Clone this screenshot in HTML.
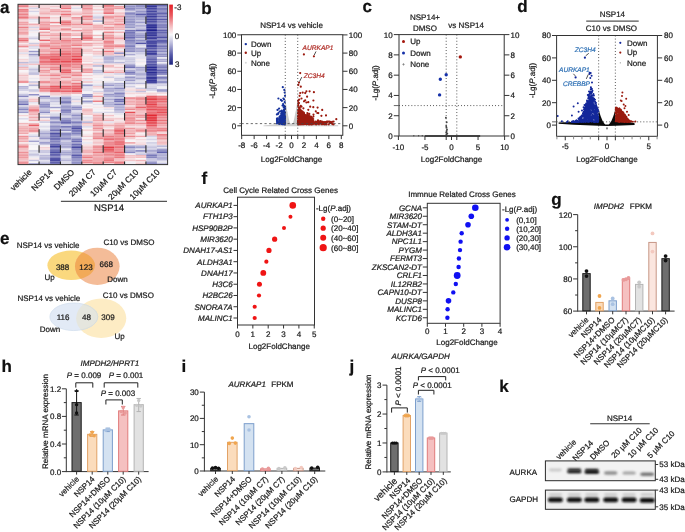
<!DOCTYPE html>
<html><head><meta charset="utf-8"><title>Figure</title>
<style>html,body{margin:0;padding:0;background:#fff;}svg{display:block;will-change:transform;}text{font-family:"Liberation Sans", sans-serif;stroke:#1a1a1a;stroke-width:0.22px;text-rendering:geometricPrecision;}</style>
</head><body>
<svg width="685" height="532" viewBox="0 0 685 532" font-family='"Liberation Sans", sans-serif'>
<rect width="685" height="532" fill="#fff"/>
<text x="0" y="13" font-size="17" text-anchor="start" fill="#111" font-weight="bold" style="stroke:#111">a</text>
<rect x="18" y="4.3" width="10.74" height="1.65" fill="#ed8f95" stroke="none" stroke-width="1"/>
<rect x="28.69" y="4.3" width="10.74" height="1.65" fill="#f6dfe2" stroke="none" stroke-width="1"/>
<rect x="39.37" y="4.3" width="10.74" height="1.65" fill="#f4d5d8" stroke="none" stroke-width="1"/>
<rect x="50.06" y="4.3" width="10.74" height="1.65" fill="#f6e2e5" stroke="none" stroke-width="1"/>
<rect x="60.74" y="4.3" width="10.74" height="1.65" fill="#efa2a7" stroke="none" stroke-width="1"/>
<rect x="71.43" y="4.3" width="10.74" height="1.65" fill="#f3c5c9" stroke="none" stroke-width="1"/>
<rect x="82.11" y="4.3" width="10.74" height="1.65" fill="#ed9399" stroke="none" stroke-width="1"/>
<rect x="92.8" y="4.3" width="10.74" height="1.65" fill="#f6e7e9" stroke="none" stroke-width="1"/>
<rect x="103.49" y="4.3" width="10.74" height="1.65" fill="#eb7a81" stroke="none" stroke-width="1"/>
<rect x="114.17" y="4.3" width="10.74" height="1.65" fill="#eae8f1" stroke="none" stroke-width="1"/>
<rect x="124.86" y="4.3" width="10.74" height="1.65" fill="#acabd3" stroke="none" stroke-width="1"/>
<rect x="135.54" y="4.3" width="10.74" height="1.65" fill="#8f8fc5" stroke="none" stroke-width="1"/>
<rect x="146.23" y="4.3" width="10.74" height="1.65" fill="#4c4da3" stroke="none" stroke-width="1"/>
<rect x="156.91" y="4.3" width="10.74" height="1.65" fill="#5f60ad" stroke="none" stroke-width="1"/>
<rect x="18" y="5.9" width="10.74" height="1.65" fill="#eb7f86" stroke="none" stroke-width="1"/>
<rect x="28.69" y="5.9" width="10.74" height="1.65" fill="#f3c9cd" stroke="none" stroke-width="1"/>
<rect x="39.37" y="5.9" width="10.74" height="1.65" fill="#f5d7db" stroke="none" stroke-width="1"/>
<rect x="50.06" y="5.9" width="10.74" height="1.65" fill="#f3cace" stroke="none" stroke-width="1"/>
<rect x="60.74" y="5.9" width="10.74" height="1.65" fill="#ef9da3" stroke="none" stroke-width="1"/>
<rect x="71.43" y="5.9" width="10.74" height="1.65" fill="#f7eaed" stroke="none" stroke-width="1"/>
<rect x="82.11" y="5.9" width="10.74" height="1.65" fill="#efa6ab" stroke="none" stroke-width="1"/>
<rect x="92.8" y="5.9" width="10.74" height="1.65" fill="#f4d3d6" stroke="none" stroke-width="1"/>
<rect x="103.49" y="5.9" width="10.74" height="1.65" fill="#ed8b91" stroke="none" stroke-width="1"/>
<rect x="114.17" y="5.9" width="10.74" height="1.65" fill="#efa0a5" stroke="none" stroke-width="1"/>
<rect x="124.86" y="5.9" width="10.74" height="1.65" fill="#9090c5" stroke="none" stroke-width="1"/>
<rect x="135.54" y="5.9" width="10.74" height="1.65" fill="#8e8ec4" stroke="none" stroke-width="1"/>
<rect x="146.23" y="5.9" width="10.74" height="1.65" fill="#333597" stroke="none" stroke-width="1"/>
<rect x="156.91" y="5.9" width="10.74" height="1.65" fill="#8e8ec4" stroke="none" stroke-width="1"/>
<rect x="18" y="7.51" width="10.74" height="1.65" fill="#f3cccf" stroke="none" stroke-width="1"/>
<rect x="28.69" y="7.51" width="10.74" height="1.65" fill="#d8d6e8" stroke="none" stroke-width="1"/>
<rect x="39.37" y="7.51" width="10.74" height="1.65" fill="#f3c3c7" stroke="none" stroke-width="1"/>
<rect x="50.06" y="7.51" width="10.74" height="1.65" fill="#f6e3e6" stroke="none" stroke-width="1"/>
<rect x="60.74" y="7.51" width="10.74" height="1.65" fill="#ea777e" stroke="none" stroke-width="1"/>
<rect x="71.43" y="7.51" width="10.74" height="1.65" fill="#dddceb" stroke="none" stroke-width="1"/>
<rect x="82.11" y="7.51" width="10.74" height="1.65" fill="#ed8d94" stroke="none" stroke-width="1"/>
<rect x="92.8" y="7.51" width="10.74" height="1.65" fill="#f7ebed" stroke="none" stroke-width="1"/>
<rect x="103.49" y="7.51" width="10.74" height="1.65" fill="#ee9ca1" stroke="none" stroke-width="1"/>
<rect x="114.17" y="7.51" width="10.74" height="1.65" fill="#ee999f" stroke="none" stroke-width="1"/>
<rect x="124.86" y="7.51" width="10.74" height="1.65" fill="#8989c1" stroke="none" stroke-width="1"/>
<rect x="135.54" y="7.51" width="10.74" height="1.65" fill="#9897c9" stroke="none" stroke-width="1"/>
<rect x="146.23" y="7.51" width="10.74" height="1.65" fill="#4445a0" stroke="none" stroke-width="1"/>
<rect x="156.91" y="7.51" width="10.74" height="1.65" fill="#7a7aba" stroke="none" stroke-width="1"/>
<rect x="18" y="9.11" width="10.74" height="1.65" fill="#ea7077" stroke="none" stroke-width="1"/>
<rect x="28.69" y="9.11" width="10.74" height="1.65" fill="#f7e8eb" stroke="none" stroke-width="1"/>
<rect x="39.37" y="9.11" width="10.74" height="1.65" fill="#f3c7cb" stroke="none" stroke-width="1"/>
<rect x="50.06" y="9.11" width="10.74" height="1.65" fill="#f0adb1" stroke="none" stroke-width="1"/>
<rect x="60.74" y="9.11" width="10.74" height="1.65" fill="#f4cdd0" stroke="none" stroke-width="1"/>
<rect x="71.43" y="9.11" width="10.74" height="1.65" fill="#f7edef" stroke="none" stroke-width="1"/>
<rect x="82.11" y="9.11" width="10.74" height="1.65" fill="#efa1a6" stroke="none" stroke-width="1"/>
<rect x="92.8" y="9.11" width="10.74" height="1.65" fill="#f3c7cb" stroke="none" stroke-width="1"/>
<rect x="103.49" y="9.11" width="10.74" height="1.65" fill="#ec898f" stroke="none" stroke-width="1"/>
<rect x="114.17" y="9.11" width="10.74" height="1.65" fill="#f5d8db" stroke="none" stroke-width="1"/>
<rect x="124.86" y="9.11" width="10.74" height="1.65" fill="#8c8cc3" stroke="none" stroke-width="1"/>
<rect x="135.54" y="9.11" width="10.74" height="1.65" fill="#b6b5d8" stroke="none" stroke-width="1"/>
<rect x="146.23" y="9.11" width="10.74" height="1.65" fill="#595aaa" stroke="none" stroke-width="1"/>
<rect x="156.91" y="9.11" width="10.74" height="1.65" fill="#7374b7" stroke="none" stroke-width="1"/>
<rect x="18" y="10.71" width="10.74" height="1.65" fill="#ec898f" stroke="none" stroke-width="1"/>
<rect x="28.69" y="10.71" width="10.74" height="1.65" fill="#d5d3e7" stroke="none" stroke-width="1"/>
<rect x="39.37" y="10.71" width="10.74" height="1.65" fill="#f3c7ca" stroke="none" stroke-width="1"/>
<rect x="50.06" y="10.71" width="10.74" height="1.65" fill="#efa3a8" stroke="none" stroke-width="1"/>
<rect x="60.74" y="10.71" width="10.74" height="1.65" fill="#ee959a" stroke="none" stroke-width="1"/>
<rect x="71.43" y="10.71" width="10.74" height="1.65" fill="#f5dde0" stroke="none" stroke-width="1"/>
<rect x="82.11" y="10.71" width="10.74" height="1.65" fill="#f2bec2" stroke="none" stroke-width="1"/>
<rect x="92.8" y="10.71" width="10.74" height="1.65" fill="#f1f0f5" stroke="none" stroke-width="1"/>
<rect x="103.49" y="10.71" width="10.74" height="1.65" fill="#efa6ab" stroke="none" stroke-width="1"/>
<rect x="114.17" y="10.71" width="10.74" height="1.65" fill="#f7e9ec" stroke="none" stroke-width="1"/>
<rect x="124.86" y="10.71" width="10.74" height="1.65" fill="#d4d3e6" stroke="none" stroke-width="1"/>
<rect x="135.54" y="10.71" width="10.74" height="1.65" fill="#9595c7" stroke="none" stroke-width="1"/>
<rect x="146.23" y="10.71" width="10.74" height="1.65" fill="#4547a0" stroke="none" stroke-width="1"/>
<rect x="156.91" y="10.71" width="10.74" height="1.65" fill="#9696c8" stroke="none" stroke-width="1"/>
<rect x="18" y="12.31" width="10.74" height="1.65" fill="#efa1a6" stroke="none" stroke-width="1"/>
<rect x="28.69" y="12.31" width="10.74" height="1.65" fill="#f2f0f5" stroke="none" stroke-width="1"/>
<rect x="39.37" y="12.31" width="10.74" height="1.65" fill="#f0adb1" stroke="none" stroke-width="1"/>
<rect x="50.06" y="12.31" width="10.74" height="1.65" fill="#f2bfc3" stroke="none" stroke-width="1"/>
<rect x="60.74" y="12.31" width="10.74" height="1.65" fill="#f1b5ba" stroke="none" stroke-width="1"/>
<rect x="71.43" y="12.31" width="10.74" height="1.65" fill="#f3c3c7" stroke="none" stroke-width="1"/>
<rect x="82.11" y="12.31" width="10.74" height="1.65" fill="#f0a8ad" stroke="none" stroke-width="1"/>
<rect x="92.8" y="12.31" width="10.74" height="1.65" fill="#f5d6da" stroke="none" stroke-width="1"/>
<rect x="103.49" y="12.31" width="10.74" height="1.65" fill="#e8646c" stroke="none" stroke-width="1"/>
<rect x="114.17" y="12.31" width="10.74" height="1.65" fill="#f2c0c4" stroke="none" stroke-width="1"/>
<rect x="124.86" y="12.31" width="10.74" height="1.65" fill="#8282be" stroke="none" stroke-width="1"/>
<rect x="135.54" y="12.31" width="10.74" height="1.65" fill="#9999ca" stroke="none" stroke-width="1"/>
<rect x="146.23" y="12.31" width="10.74" height="1.65" fill="#5455a7" stroke="none" stroke-width="1"/>
<rect x="156.91" y="12.31" width="10.74" height="1.65" fill="#5c5dab" stroke="none" stroke-width="1"/>
<rect x="18" y="13.92" width="10.74" height="1.65" fill="#ec8389" stroke="none" stroke-width="1"/>
<rect x="28.69" y="13.92" width="10.74" height="1.65" fill="#f7eef0" stroke="none" stroke-width="1"/>
<rect x="39.37" y="13.92" width="10.74" height="1.65" fill="#f3c6ca" stroke="none" stroke-width="1"/>
<rect x="50.06" y="13.92" width="10.74" height="1.65" fill="#f3c4c8" stroke="none" stroke-width="1"/>
<rect x="60.74" y="13.92" width="10.74" height="1.65" fill="#ea7178" stroke="none" stroke-width="1"/>
<rect x="71.43" y="13.92" width="10.74" height="1.65" fill="#f2bbbf" stroke="none" stroke-width="1"/>
<rect x="82.11" y="13.92" width="10.74" height="1.65" fill="#f3cbce" stroke="none" stroke-width="1"/>
<rect x="92.8" y="13.92" width="10.74" height="1.65" fill="#efedf4" stroke="none" stroke-width="1"/>
<rect x="103.49" y="13.92" width="10.74" height="1.65" fill="#f5dadd" stroke="none" stroke-width="1"/>
<rect x="114.17" y="13.92" width="10.74" height="1.65" fill="#f4d2d5" stroke="none" stroke-width="1"/>
<rect x="124.86" y="13.92" width="10.74" height="1.65" fill="#9696c8" stroke="none" stroke-width="1"/>
<rect x="135.54" y="13.92" width="10.74" height="1.65" fill="#5e5fac" stroke="none" stroke-width="1"/>
<rect x="146.23" y="13.92" width="10.74" height="1.65" fill="#4d4ea4" stroke="none" stroke-width="1"/>
<rect x="156.91" y="13.92" width="10.74" height="1.65" fill="#8888c1" stroke="none" stroke-width="1"/>
<rect x="18" y="15.52" width="10.74" height="1.65" fill="#ee989e" stroke="none" stroke-width="1"/>
<rect x="28.69" y="15.52" width="10.74" height="1.65" fill="#f4d2d5" stroke="none" stroke-width="1"/>
<rect x="39.37" y="15.52" width="10.74" height="1.65" fill="#f4d3d6" stroke="none" stroke-width="1"/>
<rect x="50.06" y="15.52" width="10.74" height="1.65" fill="#f7eff1" stroke="none" stroke-width="1"/>
<rect x="60.74" y="15.52" width="10.74" height="1.65" fill="#f1b4b9" stroke="none" stroke-width="1"/>
<rect x="71.43" y="15.52" width="10.74" height="1.65" fill="#f6e7e9" stroke="none" stroke-width="1"/>
<rect x="82.11" y="15.52" width="10.74" height="1.65" fill="#eb7d84" stroke="none" stroke-width="1"/>
<rect x="92.8" y="15.52" width="10.74" height="1.65" fill="#d9d7e9" stroke="none" stroke-width="1"/>
<rect x="103.49" y="15.52" width="10.74" height="1.65" fill="#ee9ca2" stroke="none" stroke-width="1"/>
<rect x="114.17" y="15.52" width="10.74" height="1.65" fill="#ee989e" stroke="none" stroke-width="1"/>
<rect x="124.86" y="15.52" width="10.74" height="1.65" fill="#9999c9" stroke="none" stroke-width="1"/>
<rect x="135.54" y="15.52" width="10.74" height="1.65" fill="#9595c7" stroke="none" stroke-width="1"/>
<rect x="146.23" y="15.52" width="10.74" height="1.65" fill="#3a3b9b" stroke="none" stroke-width="1"/>
<rect x="156.91" y="15.52" width="10.74" height="1.65" fill="#6969b2" stroke="none" stroke-width="1"/>
<rect x="18" y="17.12" width="10.74" height="1.65" fill="#e9656d" stroke="none" stroke-width="1"/>
<rect x="28.69" y="17.12" width="10.74" height="1.65" fill="#f1b5ba" stroke="none" stroke-width="1"/>
<rect x="39.37" y="17.12" width="10.74" height="1.65" fill="#eb7a80" stroke="none" stroke-width="1"/>
<rect x="50.06" y="17.12" width="10.74" height="1.65" fill="#f4ccd0" stroke="none" stroke-width="1"/>
<rect x="60.74" y="17.12" width="10.74" height="1.65" fill="#f3cacd" stroke="none" stroke-width="1"/>
<rect x="71.43" y="17.12" width="10.74" height="1.65" fill="#ed8a91" stroke="none" stroke-width="1"/>
<rect x="82.11" y="17.12" width="10.74" height="1.65" fill="#ee9ca2" stroke="none" stroke-width="1"/>
<rect x="92.8" y="17.12" width="10.74" height="1.65" fill="#cac8e1" stroke="none" stroke-width="1"/>
<rect x="103.49" y="17.12" width="10.74" height="1.65" fill="#ed8e94" stroke="none" stroke-width="1"/>
<rect x="114.17" y="17.12" width="10.74" height="1.65" fill="#f1b8bc" stroke="none" stroke-width="1"/>
<rect x="124.86" y="17.12" width="10.74" height="1.65" fill="#a1a0cd" stroke="none" stroke-width="1"/>
<rect x="135.54" y="17.12" width="10.74" height="1.65" fill="#a4a4cf" stroke="none" stroke-width="1"/>
<rect x="146.23" y="17.12" width="10.74" height="1.65" fill="#5657a8" stroke="none" stroke-width="1"/>
<rect x="156.91" y="17.12" width="10.74" height="1.65" fill="#9493c7" stroke="none" stroke-width="1"/>
<rect x="18" y="18.73" width="10.74" height="1.65" fill="#f3cace" stroke="none" stroke-width="1"/>
<rect x="28.69" y="18.73" width="10.74" height="1.65" fill="#e0deec" stroke="none" stroke-width="1"/>
<rect x="39.37" y="18.73" width="10.74" height="1.65" fill="#f4cdd1" stroke="none" stroke-width="1"/>
<rect x="50.06" y="18.73" width="10.74" height="1.65" fill="#f6e6e8" stroke="none" stroke-width="1"/>
<rect x="60.74" y="18.73" width="10.74" height="1.65" fill="#f5dcdf" stroke="none" stroke-width="1"/>
<rect x="71.43" y="18.73" width="10.74" height="1.65" fill="#f2babf" stroke="none" stroke-width="1"/>
<rect x="82.11" y="18.73" width="10.74" height="1.65" fill="#ee969c" stroke="none" stroke-width="1"/>
<rect x="92.8" y="18.73" width="10.74" height="1.65" fill="#f5d6da" stroke="none" stroke-width="1"/>
<rect x="103.49" y="18.73" width="10.74" height="1.65" fill="#f2c0c5" stroke="none" stroke-width="1"/>
<rect x="114.17" y="18.73" width="10.74" height="1.65" fill="#f0a9ae" stroke="none" stroke-width="1"/>
<rect x="124.86" y="18.73" width="10.74" height="1.65" fill="#9898c9" stroke="none" stroke-width="1"/>
<rect x="135.54" y="18.73" width="10.74" height="1.65" fill="#acacd3" stroke="none" stroke-width="1"/>
<rect x="146.23" y="18.73" width="10.74" height="1.65" fill="#3d3f9c" stroke="none" stroke-width="1"/>
<rect x="156.91" y="18.73" width="10.74" height="1.65" fill="#5a5baa" stroke="none" stroke-width="1"/>
<rect x="18" y="20.33" width="10.74" height="1.65" fill="#f4cdd1" stroke="none" stroke-width="1"/>
<rect x="28.69" y="20.33" width="10.74" height="1.65" fill="#edebf3" stroke="none" stroke-width="1"/>
<rect x="39.37" y="20.33" width="10.74" height="1.65" fill="#f2bcc1" stroke="none" stroke-width="1"/>
<rect x="50.06" y="20.33" width="10.74" height="1.65" fill="#f6e2e5" stroke="none" stroke-width="1"/>
<rect x="60.74" y="20.33" width="10.74" height="1.65" fill="#ed8f95" stroke="none" stroke-width="1"/>
<rect x="71.43" y="20.33" width="10.74" height="1.65" fill="#f4cdd0" stroke="none" stroke-width="1"/>
<rect x="82.11" y="20.33" width="10.74" height="1.65" fill="#f4ced2" stroke="none" stroke-width="1"/>
<rect x="92.8" y="20.33" width="10.74" height="1.65" fill="#b0b0d5" stroke="none" stroke-width="1"/>
<rect x="103.49" y="20.33" width="10.74" height="1.65" fill="#f3c4c8" stroke="none" stroke-width="1"/>
<rect x="114.17" y="20.33" width="10.74" height="1.65" fill="#f0abb0" stroke="none" stroke-width="1"/>
<rect x="124.86" y="20.33" width="10.74" height="1.65" fill="#9696c8" stroke="none" stroke-width="1"/>
<rect x="135.54" y="20.33" width="10.74" height="1.65" fill="#c0bfdc" stroke="none" stroke-width="1"/>
<rect x="146.23" y="20.33" width="10.74" height="1.65" fill="#494aa2" stroke="none" stroke-width="1"/>
<rect x="156.91" y="20.33" width="10.74" height="1.65" fill="#8484bf" stroke="none" stroke-width="1"/>
<rect x="18" y="21.93" width="10.74" height="1.65" fill="#efa3a8" stroke="none" stroke-width="1"/>
<rect x="28.69" y="21.93" width="10.74" height="1.65" fill="#f6f4f7" stroke="none" stroke-width="1"/>
<rect x="39.37" y="21.93" width="10.74" height="1.65" fill="#efa1a6" stroke="none" stroke-width="1"/>
<rect x="50.06" y="21.93" width="10.74" height="1.65" fill="#ec8288" stroke="none" stroke-width="1"/>
<rect x="60.74" y="21.93" width="10.74" height="1.65" fill="#ea6f76" stroke="none" stroke-width="1"/>
<rect x="71.43" y="21.93" width="10.74" height="1.65" fill="#f3c3c7" stroke="none" stroke-width="1"/>
<rect x="82.11" y="21.93" width="10.74" height="1.65" fill="#f1b9bd" stroke="none" stroke-width="1"/>
<rect x="92.8" y="21.93" width="10.74" height="1.65" fill="#f6f4f7" stroke="none" stroke-width="1"/>
<rect x="103.49" y="21.93" width="10.74" height="1.65" fill="#f1b2b6" stroke="none" stroke-width="1"/>
<rect x="114.17" y="21.93" width="10.74" height="1.65" fill="#f3cbcf" stroke="none" stroke-width="1"/>
<rect x="124.86" y="21.93" width="10.74" height="1.65" fill="#9696c8" stroke="none" stroke-width="1"/>
<rect x="135.54" y="21.93" width="10.74" height="1.65" fill="#9b9bcb" stroke="none" stroke-width="1"/>
<rect x="146.23" y="21.93" width="10.74" height="1.65" fill="#696ab2" stroke="none" stroke-width="1"/>
<rect x="156.91" y="21.93" width="10.74" height="1.65" fill="#9090c5" stroke="none" stroke-width="1"/>
<rect x="18" y="23.54" width="10.74" height="1.65" fill="#ef9fa4" stroke="none" stroke-width="1"/>
<rect x="28.69" y="23.54" width="10.74" height="1.65" fill="#f0aeb3" stroke="none" stroke-width="1"/>
<rect x="39.37" y="23.54" width="10.74" height="1.65" fill="#ef9da3" stroke="none" stroke-width="1"/>
<rect x="50.06" y="23.54" width="10.74" height="1.65" fill="#f7eff1" stroke="none" stroke-width="1"/>
<rect x="60.74" y="23.54" width="10.74" height="1.65" fill="#ec8288" stroke="none" stroke-width="1"/>
<rect x="71.43" y="23.54" width="10.74" height="1.65" fill="#ee959b" stroke="none" stroke-width="1"/>
<rect x="82.11" y="23.54" width="10.74" height="1.65" fill="#ea737b" stroke="none" stroke-width="1"/>
<rect x="92.8" y="23.54" width="10.74" height="1.65" fill="#f4d2d5" stroke="none" stroke-width="1"/>
<rect x="103.49" y="23.54" width="10.74" height="1.65" fill="#efa2a8" stroke="none" stroke-width="1"/>
<rect x="114.17" y="23.54" width="10.74" height="1.65" fill="#ec8188" stroke="none" stroke-width="1"/>
<rect x="124.86" y="23.54" width="10.74" height="1.65" fill="#9d9dcb" stroke="none" stroke-width="1"/>
<rect x="135.54" y="23.54" width="10.74" height="1.65" fill="#d1d0e5" stroke="none" stroke-width="1"/>
<rect x="146.23" y="23.54" width="10.74" height="1.65" fill="#4a4ca3" stroke="none" stroke-width="1"/>
<rect x="156.91" y="23.54" width="10.74" height="1.65" fill="#8787c1" stroke="none" stroke-width="1"/>
<rect x="18" y="25.14" width="10.74" height="1.65" fill="#f2c0c4" stroke="none" stroke-width="1"/>
<rect x="28.69" y="25.14" width="10.74" height="1.65" fill="#f4d0d3" stroke="none" stroke-width="1"/>
<rect x="39.37" y="25.14" width="10.74" height="1.65" fill="#ef9fa4" stroke="none" stroke-width="1"/>
<rect x="50.06" y="25.14" width="10.74" height="1.65" fill="#f0a7ac" stroke="none" stroke-width="1"/>
<rect x="60.74" y="25.14" width="10.74" height="1.65" fill="#efa6ab" stroke="none" stroke-width="1"/>
<rect x="71.43" y="25.14" width="10.74" height="1.65" fill="#f2bec2" stroke="none" stroke-width="1"/>
<rect x="82.11" y="25.14" width="10.74" height="1.65" fill="#f2bfc3" stroke="none" stroke-width="1"/>
<rect x="92.8" y="25.14" width="10.74" height="1.65" fill="#efa6ab" stroke="none" stroke-width="1"/>
<rect x="103.49" y="25.14" width="10.74" height="1.65" fill="#f5d9dc" stroke="none" stroke-width="1"/>
<rect x="114.17" y="25.14" width="10.74" height="1.65" fill="#f0afb3" stroke="none" stroke-width="1"/>
<rect x="124.86" y="25.14" width="10.74" height="1.65" fill="#9f9fcc" stroke="none" stroke-width="1"/>
<rect x="135.54" y="25.14" width="10.74" height="1.65" fill="#a2a1ce" stroke="none" stroke-width="1"/>
<rect x="146.23" y="25.14" width="10.74" height="1.65" fill="#1c1e8c" stroke="none" stroke-width="1"/>
<rect x="156.91" y="25.14" width="10.74" height="1.65" fill="#7272b6" stroke="none" stroke-width="1"/>
<rect x="18" y="26.74" width="10.74" height="1.65" fill="#eb7f86" stroke="none" stroke-width="1"/>
<rect x="28.69" y="26.74" width="10.74" height="1.65" fill="#d4d3e6" stroke="none" stroke-width="1"/>
<rect x="39.37" y="26.74" width="10.74" height="1.65" fill="#efa1a6" stroke="none" stroke-width="1"/>
<rect x="50.06" y="26.74" width="10.74" height="1.65" fill="#f3c9cd" stroke="none" stroke-width="1"/>
<rect x="60.74" y="26.74" width="10.74" height="1.65" fill="#f5dadd" stroke="none" stroke-width="1"/>
<rect x="71.43" y="26.74" width="10.74" height="1.65" fill="#f2bcc1" stroke="none" stroke-width="1"/>
<rect x="82.11" y="26.74" width="10.74" height="1.65" fill="#f2c1c5" stroke="none" stroke-width="1"/>
<rect x="92.8" y="26.74" width="10.74" height="1.65" fill="#f1b1b6" stroke="none" stroke-width="1"/>
<rect x="103.49" y="26.74" width="10.74" height="1.65" fill="#ee989d" stroke="none" stroke-width="1"/>
<rect x="114.17" y="26.74" width="10.74" height="1.65" fill="#f1b2b7" stroke="none" stroke-width="1"/>
<rect x="124.86" y="26.74" width="10.74" height="1.65" fill="#9898c9" stroke="none" stroke-width="1"/>
<rect x="135.54" y="26.74" width="10.74" height="1.65" fill="#cdcbe3" stroke="none" stroke-width="1"/>
<rect x="146.23" y="26.74" width="10.74" height="1.65" fill="#282a92" stroke="none" stroke-width="1"/>
<rect x="156.91" y="26.74" width="10.74" height="1.65" fill="#7b7bba" stroke="none" stroke-width="1"/>
<rect x="18" y="28.34" width="10.74" height="1.65" fill="#f0b0b4" stroke="none" stroke-width="1"/>
<rect x="28.69" y="28.34" width="10.74" height="1.65" fill="#f5dde0" stroke="none" stroke-width="1"/>
<rect x="39.37" y="28.34" width="10.74" height="1.65" fill="#e8636b" stroke="none" stroke-width="1"/>
<rect x="50.06" y="28.34" width="10.74" height="1.65" fill="#f2c2c6" stroke="none" stroke-width="1"/>
<rect x="60.74" y="28.34" width="10.74" height="1.65" fill="#ec888e" stroke="none" stroke-width="1"/>
<rect x="71.43" y="28.34" width="10.74" height="1.65" fill="#f6e2e5" stroke="none" stroke-width="1"/>
<rect x="82.11" y="28.34" width="10.74" height="1.65" fill="#f1b9bd" stroke="none" stroke-width="1"/>
<rect x="92.8" y="28.34" width="10.74" height="1.65" fill="#f0afb4" stroke="none" stroke-width="1"/>
<rect x="103.49" y="28.34" width="10.74" height="1.65" fill="#efa4a9" stroke="none" stroke-width="1"/>
<rect x="114.17" y="28.34" width="10.74" height="1.65" fill="#f1b7bc" stroke="none" stroke-width="1"/>
<rect x="124.86" y="28.34" width="10.74" height="1.65" fill="#cecde3" stroke="none" stroke-width="1"/>
<rect x="135.54" y="28.34" width="10.74" height="1.65" fill="#b0afd5" stroke="none" stroke-width="1"/>
<rect x="146.23" y="28.34" width="10.74" height="1.65" fill="#393a9a" stroke="none" stroke-width="1"/>
<rect x="156.91" y="28.34" width="10.74" height="1.65" fill="#9392c6" stroke="none" stroke-width="1"/>
<rect x="18" y="29.95" width="10.74" height="1.65" fill="#f2bcc1" stroke="none" stroke-width="1"/>
<rect x="28.69" y="29.95" width="10.74" height="1.65" fill="#e5e3ef" stroke="none" stroke-width="1"/>
<rect x="39.37" y="29.95" width="10.74" height="1.65" fill="#f7f0f2" stroke="none" stroke-width="1"/>
<rect x="50.06" y="29.95" width="10.74" height="1.65" fill="#f1b7bb" stroke="none" stroke-width="1"/>
<rect x="60.74" y="29.95" width="10.74" height="1.65" fill="#f1b2b6" stroke="none" stroke-width="1"/>
<rect x="71.43" y="29.95" width="10.74" height="1.65" fill="#ee9aa0" stroke="none" stroke-width="1"/>
<rect x="82.11" y="29.95" width="10.74" height="1.65" fill="#f0aaaf" stroke="none" stroke-width="1"/>
<rect x="92.8" y="29.95" width="10.74" height="1.65" fill="#f6e1e4" stroke="none" stroke-width="1"/>
<rect x="103.49" y="29.95" width="10.74" height="1.65" fill="#f6e3e6" stroke="none" stroke-width="1"/>
<rect x="114.17" y="29.95" width="10.74" height="1.65" fill="#ecebf2" stroke="none" stroke-width="1"/>
<rect x="124.86" y="29.95" width="10.74" height="1.65" fill="#7272b6" stroke="none" stroke-width="1"/>
<rect x="135.54" y="29.95" width="10.74" height="1.65" fill="#6566b0" stroke="none" stroke-width="1"/>
<rect x="146.23" y="29.95" width="10.74" height="1.65" fill="#1c1e8c" stroke="none" stroke-width="1"/>
<rect x="156.91" y="29.95" width="10.74" height="1.65" fill="#5f5fad" stroke="none" stroke-width="1"/>
<rect x="18" y="31.55" width="10.74" height="1.65" fill="#efa0a5" stroke="none" stroke-width="1"/>
<rect x="28.69" y="31.55" width="10.74" height="1.65" fill="#f7edef" stroke="none" stroke-width="1"/>
<rect x="39.37" y="31.55" width="10.74" height="1.65" fill="#efa2a8" stroke="none" stroke-width="1"/>
<rect x="50.06" y="31.55" width="10.74" height="1.65" fill="#f5dcdf" stroke="none" stroke-width="1"/>
<rect x="60.74" y="31.55" width="10.74" height="1.65" fill="#f6dfe2" stroke="none" stroke-width="1"/>
<rect x="71.43" y="31.55" width="10.74" height="1.65" fill="#f6e1e4" stroke="none" stroke-width="1"/>
<rect x="82.11" y="31.55" width="10.74" height="1.65" fill="#f0b0b4" stroke="none" stroke-width="1"/>
<rect x="92.8" y="31.55" width="10.74" height="1.65" fill="#f8f5f7" stroke="none" stroke-width="1"/>
<rect x="103.49" y="31.55" width="10.74" height="1.65" fill="#ec878d" stroke="none" stroke-width="1"/>
<rect x="114.17" y="31.55" width="10.74" height="1.65" fill="#f1b2b7" stroke="none" stroke-width="1"/>
<rect x="124.86" y="31.55" width="10.74" height="1.65" fill="#7677b8" stroke="none" stroke-width="1"/>
<rect x="135.54" y="31.55" width="10.74" height="1.65" fill="#cac9e2" stroke="none" stroke-width="1"/>
<rect x="146.23" y="31.55" width="10.74" height="1.65" fill="#41439e" stroke="none" stroke-width="1"/>
<rect x="156.91" y="31.55" width="10.74" height="1.65" fill="#6768b1" stroke="none" stroke-width="1"/>
<rect x="18" y="33.15" width="10.74" height="1.65" fill="#ee9ba0" stroke="none" stroke-width="1"/>
<rect x="28.69" y="33.15" width="10.74" height="1.65" fill="#f2f0f5" stroke="none" stroke-width="1"/>
<rect x="39.37" y="33.15" width="10.74" height="1.65" fill="#f4d0d4" stroke="none" stroke-width="1"/>
<rect x="50.06" y="33.15" width="10.74" height="1.65" fill="#f1b0b5" stroke="none" stroke-width="1"/>
<rect x="60.74" y="33.15" width="10.74" height="1.65" fill="#ed9197" stroke="none" stroke-width="1"/>
<rect x="71.43" y="33.15" width="10.74" height="1.65" fill="#f2bec2" stroke="none" stroke-width="1"/>
<rect x="82.11" y="33.15" width="10.74" height="1.65" fill="#f1b5ba" stroke="none" stroke-width="1"/>
<rect x="92.8" y="33.15" width="10.74" height="1.65" fill="#f8f5f7" stroke="none" stroke-width="1"/>
<rect x="103.49" y="33.15" width="10.74" height="1.65" fill="#f3c6ca" stroke="none" stroke-width="1"/>
<rect x="114.17" y="33.15" width="10.74" height="1.65" fill="#f6e7e9" stroke="none" stroke-width="1"/>
<rect x="124.86" y="33.15" width="10.74" height="1.65" fill="#7676b8" stroke="none" stroke-width="1"/>
<rect x="135.54" y="33.15" width="10.74" height="1.65" fill="#a4a3cf" stroke="none" stroke-width="1"/>
<rect x="146.23" y="33.15" width="10.74" height="1.65" fill="#2a2c93" stroke="none" stroke-width="1"/>
<rect x="156.91" y="33.15" width="10.74" height="1.65" fill="#7272b6" stroke="none" stroke-width="1"/>
<rect x="18" y="34.76" width="10.74" height="1.65" fill="#f5d6d9" stroke="none" stroke-width="1"/>
<rect x="28.69" y="34.76" width="10.74" height="1.65" fill="#f5f3f7" stroke="none" stroke-width="1"/>
<rect x="39.37" y="34.76" width="10.74" height="1.65" fill="#efa2a7" stroke="none" stroke-width="1"/>
<rect x="50.06" y="34.76" width="10.74" height="1.65" fill="#efa1a6" stroke="none" stroke-width="1"/>
<rect x="60.74" y="34.76" width="10.74" height="1.65" fill="#ee9ba0" stroke="none" stroke-width="1"/>
<rect x="71.43" y="34.76" width="10.74" height="1.65" fill="#f0afb4" stroke="none" stroke-width="1"/>
<rect x="82.11" y="34.76" width="10.74" height="1.65" fill="#ed9096" stroke="none" stroke-width="1"/>
<rect x="92.8" y="34.76" width="10.74" height="1.65" fill="#f1b8bc" stroke="none" stroke-width="1"/>
<rect x="103.49" y="34.76" width="10.74" height="1.65" fill="#ee9ba0" stroke="none" stroke-width="1"/>
<rect x="114.17" y="34.76" width="10.74" height="1.65" fill="#f5d7da" stroke="none" stroke-width="1"/>
<rect x="124.86" y="34.76" width="10.74" height="1.65" fill="#8081bd" stroke="none" stroke-width="1"/>
<rect x="135.54" y="34.76" width="10.74" height="1.65" fill="#9595c7" stroke="none" stroke-width="1"/>
<rect x="146.23" y="34.76" width="10.74" height="1.65" fill="#353798" stroke="none" stroke-width="1"/>
<rect x="156.91" y="34.76" width="10.74" height="1.65" fill="#8484bf" stroke="none" stroke-width="1"/>
<rect x="18" y="36.36" width="10.74" height="1.65" fill="#f4cdd1" stroke="none" stroke-width="1"/>
<rect x="28.69" y="36.36" width="10.74" height="1.65" fill="#dfddec" stroke="none" stroke-width="1"/>
<rect x="39.37" y="36.36" width="10.74" height="1.65" fill="#f4d5d8" stroke="none" stroke-width="1"/>
<rect x="50.06" y="36.36" width="10.74" height="1.65" fill="#f3c6c9" stroke="none" stroke-width="1"/>
<rect x="60.74" y="36.36" width="10.74" height="1.65" fill="#f3c5c9" stroke="none" stroke-width="1"/>
<rect x="71.43" y="36.36" width="10.74" height="1.65" fill="#f7f5f8" stroke="none" stroke-width="1"/>
<rect x="82.11" y="36.36" width="10.74" height="1.65" fill="#eb7a81" stroke="none" stroke-width="1"/>
<rect x="92.8" y="36.36" width="10.74" height="1.65" fill="#f5f3f6" stroke="none" stroke-width="1"/>
<rect x="103.49" y="36.36" width="10.74" height="1.65" fill="#ed9398" stroke="none" stroke-width="1"/>
<rect x="114.17" y="36.36" width="10.74" height="1.65" fill="#f2bec2" stroke="none" stroke-width="1"/>
<rect x="124.86" y="36.36" width="10.74" height="1.65" fill="#6969b2" stroke="none" stroke-width="1"/>
<rect x="135.54" y="36.36" width="10.74" height="1.65" fill="#8c8cc3" stroke="none" stroke-width="1"/>
<rect x="146.23" y="36.36" width="10.74" height="1.65" fill="#494aa2" stroke="none" stroke-width="1"/>
<rect x="156.91" y="36.36" width="10.74" height="1.65" fill="#4b4ca3" stroke="none" stroke-width="1"/>
<rect x="18" y="37.96" width="10.74" height="1.65" fill="#ed8c92" stroke="none" stroke-width="1"/>
<rect x="28.69" y="37.96" width="10.74" height="1.65" fill="#cdcce3" stroke="none" stroke-width="1"/>
<rect x="39.37" y="37.96" width="10.74" height="1.65" fill="#f6e0e3" stroke="none" stroke-width="1"/>
<rect x="50.06" y="37.96" width="10.74" height="1.65" fill="#f1b0b5" stroke="none" stroke-width="1"/>
<rect x="60.74" y="37.96" width="10.74" height="1.65" fill="#f0a7ac" stroke="none" stroke-width="1"/>
<rect x="71.43" y="37.96" width="10.74" height="1.65" fill="#ed8d93" stroke="none" stroke-width="1"/>
<rect x="82.11" y="37.96" width="10.74" height="1.65" fill="#e96870" stroke="none" stroke-width="1"/>
<rect x="92.8" y="37.96" width="10.74" height="1.65" fill="#f2bbbf" stroke="none" stroke-width="1"/>
<rect x="103.49" y="37.96" width="10.74" height="1.65" fill="#ed9399" stroke="none" stroke-width="1"/>
<rect x="114.17" y="37.96" width="10.74" height="1.65" fill="#ef9fa5" stroke="none" stroke-width="1"/>
<rect x="124.86" y="37.96" width="10.74" height="1.65" fill="#8a8ac2" stroke="none" stroke-width="1"/>
<rect x="135.54" y="37.96" width="10.74" height="1.65" fill="#c9c8e1" stroke="none" stroke-width="1"/>
<rect x="146.23" y="37.96" width="10.74" height="1.65" fill="#3a3b9b" stroke="none" stroke-width="1"/>
<rect x="156.91" y="37.96" width="10.74" height="1.65" fill="#8e8ec4" stroke="none" stroke-width="1"/>
<rect x="18" y="39.57" width="10.74" height="1.65" fill="#e96e75" stroke="none" stroke-width="1"/>
<rect x="28.69" y="39.57" width="10.74" height="1.65" fill="#f8f4f6" stroke="none" stroke-width="1"/>
<rect x="39.37" y="39.57" width="10.74" height="1.65" fill="#e9666e" stroke="none" stroke-width="1"/>
<rect x="50.06" y="39.57" width="10.74" height="1.65" fill="#efa2a8" stroke="none" stroke-width="1"/>
<rect x="60.74" y="39.57" width="10.74" height="1.65" fill="#eb7f86" stroke="none" stroke-width="1"/>
<rect x="71.43" y="39.57" width="10.74" height="1.65" fill="#ed9399" stroke="none" stroke-width="1"/>
<rect x="82.11" y="39.57" width="10.74" height="1.65" fill="#efa1a6" stroke="none" stroke-width="1"/>
<rect x="92.8" y="39.57" width="10.74" height="1.65" fill="#f1b5b9" stroke="none" stroke-width="1"/>
<rect x="103.49" y="39.57" width="10.74" height="1.65" fill="#f0abb0" stroke="none" stroke-width="1"/>
<rect x="114.17" y="39.57" width="10.74" height="1.65" fill="#f5d8dc" stroke="none" stroke-width="1"/>
<rect x="124.86" y="39.57" width="10.74" height="1.65" fill="#8080bd" stroke="none" stroke-width="1"/>
<rect x="135.54" y="39.57" width="10.74" height="1.65" fill="#8e8ec4" stroke="none" stroke-width="1"/>
<rect x="146.23" y="39.57" width="10.74" height="1.65" fill="#6768b1" stroke="none" stroke-width="1"/>
<rect x="156.91" y="39.57" width="10.74" height="1.65" fill="#5c5dab" stroke="none" stroke-width="1"/>
<rect x="18" y="41.17" width="10.74" height="1.65" fill="#efa4a9" stroke="none" stroke-width="1"/>
<rect x="28.69" y="41.17" width="10.74" height="1.65" fill="#f7eef1" stroke="none" stroke-width="1"/>
<rect x="39.37" y="41.17" width="10.74" height="1.65" fill="#f5d9dc" stroke="none" stroke-width="1"/>
<rect x="50.06" y="41.17" width="10.74" height="1.65" fill="#ee9ca2" stroke="none" stroke-width="1"/>
<rect x="60.74" y="41.17" width="10.74" height="1.65" fill="#ec8990" stroke="none" stroke-width="1"/>
<rect x="71.43" y="41.17" width="10.74" height="1.65" fill="#f0a7ac" stroke="none" stroke-width="1"/>
<rect x="82.11" y="41.17" width="10.74" height="1.65" fill="#f7eaec" stroke="none" stroke-width="1"/>
<rect x="92.8" y="41.17" width="10.74" height="1.65" fill="#f5dbde" stroke="none" stroke-width="1"/>
<rect x="103.49" y="41.17" width="10.74" height="1.65" fill="#e96e75" stroke="none" stroke-width="1"/>
<rect x="114.17" y="41.17" width="10.74" height="1.65" fill="#f5dadd" stroke="none" stroke-width="1"/>
<rect x="124.86" y="41.17" width="10.74" height="1.65" fill="#7f7fbd" stroke="none" stroke-width="1"/>
<rect x="135.54" y="41.17" width="10.74" height="1.65" fill="#a1a1cd" stroke="none" stroke-width="1"/>
<rect x="146.23" y="41.17" width="10.74" height="1.65" fill="#282a92" stroke="none" stroke-width="1"/>
<rect x="156.91" y="41.17" width="10.74" height="1.65" fill="#4648a1" stroke="none" stroke-width="1"/>
<rect x="18" y="42.77" width="10.74" height="1.65" fill="#f7e8eb" stroke="none" stroke-width="1"/>
<rect x="28.69" y="42.77" width="10.74" height="1.65" fill="#cbcae2" stroke="none" stroke-width="1"/>
<rect x="39.37" y="42.77" width="10.74" height="1.65" fill="#efa6ab" stroke="none" stroke-width="1"/>
<rect x="50.06" y="42.77" width="10.74" height="1.65" fill="#ed9398" stroke="none" stroke-width="1"/>
<rect x="60.74" y="42.77" width="10.74" height="1.65" fill="#efa6ab" stroke="none" stroke-width="1"/>
<rect x="71.43" y="42.77" width="10.74" height="1.65" fill="#efa4a9" stroke="none" stroke-width="1"/>
<rect x="82.11" y="42.77" width="10.74" height="1.65" fill="#efa0a5" stroke="none" stroke-width="1"/>
<rect x="92.8" y="42.77" width="10.74" height="1.65" fill="#f1b8bc" stroke="none" stroke-width="1"/>
<rect x="103.49" y="42.77" width="10.74" height="1.65" fill="#ee999f" stroke="none" stroke-width="1"/>
<rect x="114.17" y="42.77" width="10.74" height="1.65" fill="#f6e5e8" stroke="none" stroke-width="1"/>
<rect x="124.86" y="42.77" width="10.74" height="1.65" fill="#9b9aca" stroke="none" stroke-width="1"/>
<rect x="135.54" y="42.77" width="10.74" height="1.65" fill="#5354a7" stroke="none" stroke-width="1"/>
<rect x="146.23" y="42.77" width="10.74" height="1.65" fill="#4b4ca3" stroke="none" stroke-width="1"/>
<rect x="156.91" y="42.77" width="10.74" height="1.65" fill="#8b8bc3" stroke="none" stroke-width="1"/>
<rect x="18" y="44.37" width="10.74" height="1.65" fill="#f2bfc4" stroke="none" stroke-width="1"/>
<rect x="28.69" y="44.37" width="10.74" height="1.65" fill="#f3c7cb" stroke="none" stroke-width="1"/>
<rect x="39.37" y="44.37" width="10.74" height="1.65" fill="#ec868c" stroke="none" stroke-width="1"/>
<rect x="50.06" y="44.37" width="10.74" height="1.65" fill="#f0adb2" stroke="none" stroke-width="1"/>
<rect x="60.74" y="44.37" width="10.74" height="1.65" fill="#ee969c" stroke="none" stroke-width="1"/>
<rect x="71.43" y="44.37" width="10.74" height="1.65" fill="#eb7d84" stroke="none" stroke-width="1"/>
<rect x="82.11" y="44.37" width="10.74" height="1.65" fill="#f0acb1" stroke="none" stroke-width="1"/>
<rect x="92.8" y="44.37" width="10.74" height="1.65" fill="#f4d0d4" stroke="none" stroke-width="1"/>
<rect x="103.49" y="44.37" width="10.74" height="1.65" fill="#ee969c" stroke="none" stroke-width="1"/>
<rect x="114.17" y="44.37" width="10.74" height="1.65" fill="#ee9a9f" stroke="none" stroke-width="1"/>
<rect x="124.86" y="44.37" width="10.74" height="1.65" fill="#8e8ec4" stroke="none" stroke-width="1"/>
<rect x="135.54" y="44.37" width="10.74" height="1.65" fill="#dad8e9" stroke="none" stroke-width="1"/>
<rect x="146.23" y="44.37" width="10.74" height="1.65" fill="#43449f" stroke="none" stroke-width="1"/>
<rect x="156.91" y="44.37" width="10.74" height="1.65" fill="#8a8ac2" stroke="none" stroke-width="1"/>
<rect x="18" y="45.98" width="10.74" height="1.65" fill="#ed8e94" stroke="none" stroke-width="1"/>
<rect x="28.69" y="45.98" width="10.74" height="1.65" fill="#d9d7e9" stroke="none" stroke-width="1"/>
<rect x="39.37" y="45.98" width="10.74" height="1.65" fill="#ed8f95" stroke="none" stroke-width="1"/>
<rect x="50.06" y="45.98" width="10.74" height="1.65" fill="#ee9ca1" stroke="none" stroke-width="1"/>
<rect x="60.74" y="45.98" width="10.74" height="1.65" fill="#ee989e" stroke="none" stroke-width="1"/>
<rect x="71.43" y="45.98" width="10.74" height="1.65" fill="#f4cfd3" stroke="none" stroke-width="1"/>
<rect x="82.11" y="45.98" width="10.74" height="1.65" fill="#f5d6d9" stroke="none" stroke-width="1"/>
<rect x="92.8" y="45.98" width="10.74" height="1.65" fill="#f7f0f2" stroke="none" stroke-width="1"/>
<rect x="103.49" y="45.98" width="10.74" height="1.65" fill="#ed8b92" stroke="none" stroke-width="1"/>
<rect x="114.17" y="45.98" width="10.74" height="1.65" fill="#ec888e" stroke="none" stroke-width="1"/>
<rect x="124.86" y="45.98" width="10.74" height="1.65" fill="#8080bd" stroke="none" stroke-width="1"/>
<rect x="135.54" y="45.98" width="10.74" height="1.65" fill="#e7e5f0" stroke="none" stroke-width="1"/>
<rect x="146.23" y="45.98" width="10.74" height="1.65" fill="#42449f" stroke="none" stroke-width="1"/>
<rect x="156.91" y="45.98" width="10.74" height="1.65" fill="#7475b7" stroke="none" stroke-width="1"/>
<rect x="18" y="47.58" width="10.74" height="1.65" fill="#f7edf0" stroke="none" stroke-width="1"/>
<rect x="28.69" y="47.58" width="10.74" height="1.65" fill="#e0deec" stroke="none" stroke-width="1"/>
<rect x="39.37" y="47.58" width="10.74" height="1.65" fill="#f3c3c7" stroke="none" stroke-width="1"/>
<rect x="50.06" y="47.58" width="10.74" height="1.65" fill="#eb787f" stroke="none" stroke-width="1"/>
<rect x="60.74" y="47.58" width="10.74" height="1.65" fill="#ed8f95" stroke="none" stroke-width="1"/>
<rect x="71.43" y="47.58" width="10.74" height="1.65" fill="#eb8087" stroke="none" stroke-width="1"/>
<rect x="82.11" y="47.58" width="10.74" height="1.65" fill="#f5dde0" stroke="none" stroke-width="1"/>
<rect x="92.8" y="47.58" width="10.74" height="1.65" fill="#f2c0c4" stroke="none" stroke-width="1"/>
<rect x="103.49" y="47.58" width="10.74" height="1.65" fill="#efa0a5" stroke="none" stroke-width="1"/>
<rect x="114.17" y="47.58" width="10.74" height="1.65" fill="#f4d3d6" stroke="none" stroke-width="1"/>
<rect x="124.86" y="47.58" width="10.74" height="1.65" fill="#9897c9" stroke="none" stroke-width="1"/>
<rect x="135.54" y="47.58" width="10.74" height="1.65" fill="#a3a2ce" stroke="none" stroke-width="1"/>
<rect x="146.23" y="47.58" width="10.74" height="1.65" fill="#5354a7" stroke="none" stroke-width="1"/>
<rect x="156.91" y="47.58" width="10.74" height="1.65" fill="#8181be" stroke="none" stroke-width="1"/>
<rect x="18" y="49.18" width="10.74" height="1.65" fill="#f4d1d5" stroke="none" stroke-width="1"/>
<rect x="28.69" y="49.18" width="10.74" height="1.65" fill="#f5f3f7" stroke="none" stroke-width="1"/>
<rect x="39.37" y="49.18" width="10.74" height="1.65" fill="#efa1a7" stroke="none" stroke-width="1"/>
<rect x="50.06" y="49.18" width="10.74" height="1.65" fill="#f0adb2" stroke="none" stroke-width="1"/>
<rect x="60.74" y="49.18" width="10.74" height="1.65" fill="#ee969c" stroke="none" stroke-width="1"/>
<rect x="71.43" y="49.18" width="10.74" height="1.65" fill="#ed8a91" stroke="none" stroke-width="1"/>
<rect x="82.11" y="49.18" width="10.74" height="1.65" fill="#f3c4c8" stroke="none" stroke-width="1"/>
<rect x="92.8" y="49.18" width="10.74" height="1.65" fill="#f7eff1" stroke="none" stroke-width="1"/>
<rect x="103.49" y="49.18" width="10.74" height="1.65" fill="#f4d0d3" stroke="none" stroke-width="1"/>
<rect x="114.17" y="49.18" width="10.74" height="1.65" fill="#ebe9f2" stroke="none" stroke-width="1"/>
<rect x="124.86" y="49.18" width="10.74" height="1.65" fill="#9494c7" stroke="none" stroke-width="1"/>
<rect x="135.54" y="49.18" width="10.74" height="1.65" fill="#aaa9d2" stroke="none" stroke-width="1"/>
<rect x="146.23" y="49.18" width="10.74" height="1.65" fill="#6c6cb3" stroke="none" stroke-width="1"/>
<rect x="156.91" y="49.18" width="10.74" height="1.65" fill="#9998c9" stroke="none" stroke-width="1"/>
<rect x="18" y="50.79" width="10.74" height="1.65" fill="#f4d3d7" stroke="none" stroke-width="1"/>
<rect x="28.69" y="50.79" width="10.74" height="1.65" fill="#9999c9" stroke="none" stroke-width="1"/>
<rect x="39.37" y="50.79" width="10.74" height="1.65" fill="#efa5aa" stroke="none" stroke-width="1"/>
<rect x="50.06" y="50.79" width="10.74" height="1.65" fill="#ed9298" stroke="none" stroke-width="1"/>
<rect x="60.74" y="50.79" width="10.74" height="1.65" fill="#ec848a" stroke="none" stroke-width="1"/>
<rect x="71.43" y="50.79" width="10.74" height="1.65" fill="#ec8a90" stroke="none" stroke-width="1"/>
<rect x="82.11" y="50.79" width="10.74" height="1.65" fill="#f3c8cc" stroke="none" stroke-width="1"/>
<rect x="92.8" y="50.79" width="10.74" height="1.65" fill="#f2bcc0" stroke="none" stroke-width="1"/>
<rect x="103.49" y="50.79" width="10.74" height="1.65" fill="#ea767d" stroke="none" stroke-width="1"/>
<rect x="114.17" y="50.79" width="10.74" height="1.65" fill="#f4ccd0" stroke="none" stroke-width="1"/>
<rect x="124.86" y="50.79" width="10.74" height="1.65" fill="#8d8dc3" stroke="none" stroke-width="1"/>
<rect x="135.54" y="50.79" width="10.74" height="1.65" fill="#a8a8d1" stroke="none" stroke-width="1"/>
<rect x="146.23" y="50.79" width="10.74" height="1.65" fill="#4445a0" stroke="none" stroke-width="1"/>
<rect x="156.91" y="50.79" width="10.74" height="1.65" fill="#8989c2" stroke="none" stroke-width="1"/>
<rect x="18" y="52.39" width="10.74" height="1.65" fill="#e1dfed" stroke="none" stroke-width="1"/>
<rect x="28.69" y="52.39" width="10.74" height="1.65" fill="#dcdaea" stroke="none" stroke-width="1"/>
<rect x="39.37" y="52.39" width="10.74" height="1.65" fill="#f1b9bd" stroke="none" stroke-width="1"/>
<rect x="50.06" y="52.39" width="10.74" height="1.65" fill="#ee949a" stroke="none" stroke-width="1"/>
<rect x="60.74" y="52.39" width="10.74" height="1.65" fill="#ea6f76" stroke="none" stroke-width="1"/>
<rect x="71.43" y="52.39" width="10.74" height="1.65" fill="#eb7d83" stroke="none" stroke-width="1"/>
<rect x="82.11" y="52.39" width="10.74" height="1.65" fill="#f5dbde" stroke="none" stroke-width="1"/>
<rect x="92.8" y="52.39" width="10.74" height="1.65" fill="#f3c9cd" stroke="none" stroke-width="1"/>
<rect x="103.49" y="52.39" width="10.74" height="1.65" fill="#f2bdc2" stroke="none" stroke-width="1"/>
<rect x="114.17" y="52.39" width="10.74" height="1.65" fill="#9594c7" stroke="none" stroke-width="1"/>
<rect x="124.86" y="52.39" width="10.74" height="1.65" fill="#dad9e9" stroke="none" stroke-width="1"/>
<rect x="135.54" y="52.39" width="10.74" height="1.65" fill="#cecde4" stroke="none" stroke-width="1"/>
<rect x="146.23" y="52.39" width="10.74" height="1.65" fill="#3b3d9b" stroke="none" stroke-width="1"/>
<rect x="156.91" y="52.39" width="10.74" height="1.65" fill="#b0b0d5" stroke="none" stroke-width="1"/>
<rect x="18" y="53.99" width="10.74" height="1.65" fill="#f6e0e2" stroke="none" stroke-width="1"/>
<rect x="28.69" y="53.99" width="10.74" height="1.65" fill="#9998c9" stroke="none" stroke-width="1"/>
<rect x="39.37" y="53.99" width="10.74" height="1.65" fill="#ec848a" stroke="none" stroke-width="1"/>
<rect x="50.06" y="53.99" width="10.74" height="1.65" fill="#ea767d" stroke="none" stroke-width="1"/>
<rect x="60.74" y="53.99" width="10.74" height="1.65" fill="#e96b72" stroke="none" stroke-width="1"/>
<rect x="71.43" y="53.99" width="10.74" height="1.65" fill="#eb7f85" stroke="none" stroke-width="1"/>
<rect x="82.11" y="53.99" width="10.74" height="1.65" fill="#f7f5f7" stroke="none" stroke-width="1"/>
<rect x="92.8" y="53.99" width="10.74" height="1.65" fill="#f4d5d8" stroke="none" stroke-width="1"/>
<rect x="103.49" y="53.99" width="10.74" height="1.65" fill="#f2c0c4" stroke="none" stroke-width="1"/>
<rect x="114.17" y="53.99" width="10.74" height="1.65" fill="#f4d4d7" stroke="none" stroke-width="1"/>
<rect x="124.86" y="53.99" width="10.74" height="1.65" fill="#aaa9d2" stroke="none" stroke-width="1"/>
<rect x="135.54" y="53.99" width="10.74" height="1.65" fill="#dcdaea" stroke="none" stroke-width="1"/>
<rect x="146.23" y="53.99" width="10.74" height="1.65" fill="#4a4ba3" stroke="none" stroke-width="1"/>
<rect x="156.91" y="53.99" width="10.74" height="1.65" fill="#9090c5" stroke="none" stroke-width="1"/>
<rect x="18" y="55.6" width="10.74" height="1.65" fill="#f7ebed" stroke="none" stroke-width="1"/>
<rect x="28.69" y="55.6" width="10.74" height="1.65" fill="#d4d2e6" stroke="none" stroke-width="1"/>
<rect x="39.37" y="55.6" width="10.74" height="1.65" fill="#ea767d" stroke="none" stroke-width="1"/>
<rect x="50.06" y="55.6" width="10.74" height="1.65" fill="#e9676f" stroke="none" stroke-width="1"/>
<rect x="60.74" y="55.6" width="10.74" height="1.65" fill="#ea737a" stroke="none" stroke-width="1"/>
<rect x="71.43" y="55.6" width="10.74" height="1.65" fill="#e65159" stroke="none" stroke-width="1"/>
<rect x="82.11" y="55.6" width="10.74" height="1.65" fill="#f6e4e7" stroke="none" stroke-width="1"/>
<rect x="92.8" y="55.6" width="10.74" height="1.65" fill="#e2e0ed" stroke="none" stroke-width="1"/>
<rect x="103.49" y="55.6" width="10.74" height="1.65" fill="#bfbedc" stroke="none" stroke-width="1"/>
<rect x="114.17" y="55.6" width="10.74" height="1.65" fill="#b5b4d7" stroke="none" stroke-width="1"/>
<rect x="124.86" y="55.6" width="10.74" height="1.65" fill="#eeecf3" stroke="none" stroke-width="1"/>
<rect x="135.54" y="55.6" width="10.74" height="1.65" fill="#e6e4ef" stroke="none" stroke-width="1"/>
<rect x="146.23" y="55.6" width="10.74" height="1.65" fill="#8989c1" stroke="none" stroke-width="1"/>
<rect x="156.91" y="55.6" width="10.74" height="1.65" fill="#9292c6" stroke="none" stroke-width="1"/>
<rect x="18" y="57.2" width="10.74" height="1.65" fill="#f4f2f6" stroke="none" stroke-width="1"/>
<rect x="28.69" y="57.2" width="10.74" height="1.65" fill="#d9d8e9" stroke="none" stroke-width="1"/>
<rect x="39.37" y="57.2" width="10.74" height="1.65" fill="#e7565e" stroke="none" stroke-width="1"/>
<rect x="50.06" y="57.2" width="10.74" height="1.65" fill="#e85e66" stroke="none" stroke-width="1"/>
<rect x="60.74" y="57.2" width="10.74" height="1.65" fill="#e9676e" stroke="none" stroke-width="1"/>
<rect x="71.43" y="57.2" width="10.74" height="1.65" fill="#ea7179" stroke="none" stroke-width="1"/>
<rect x="82.11" y="57.2" width="10.74" height="1.65" fill="#f5dcdf" stroke="none" stroke-width="1"/>
<rect x="92.8" y="57.2" width="10.74" height="1.65" fill="#ebeaf2" stroke="none" stroke-width="1"/>
<rect x="103.49" y="57.2" width="10.74" height="1.65" fill="#a2a1ce" stroke="none" stroke-width="1"/>
<rect x="114.17" y="57.2" width="10.74" height="1.65" fill="#bdbcdb" stroke="none" stroke-width="1"/>
<rect x="124.86" y="57.2" width="10.74" height="1.65" fill="#cbcae2" stroke="none" stroke-width="1"/>
<rect x="135.54" y="57.2" width="10.74" height="1.65" fill="#e1dfed" stroke="none" stroke-width="1"/>
<rect x="146.23" y="57.2" width="10.74" height="1.65" fill="#6a6bb2" stroke="none" stroke-width="1"/>
<rect x="156.91" y="57.2" width="10.74" height="1.65" fill="#e9e7f1" stroke="none" stroke-width="1"/>
<rect x="18" y="58.8" width="10.74" height="1.65" fill="#f4d5d8" stroke="none" stroke-width="1"/>
<rect x="28.69" y="58.8" width="10.74" height="1.65" fill="#dddbeb" stroke="none" stroke-width="1"/>
<rect x="39.37" y="58.8" width="10.74" height="1.65" fill="#ed8c92" stroke="none" stroke-width="1"/>
<rect x="50.06" y="58.8" width="10.74" height="1.65" fill="#e64b53" stroke="none" stroke-width="1"/>
<rect x="60.74" y="58.8" width="10.74" height="1.65" fill="#ea747b" stroke="none" stroke-width="1"/>
<rect x="71.43" y="58.8" width="10.74" height="1.65" fill="#e43741" stroke="none" stroke-width="1"/>
<rect x="82.11" y="58.8" width="10.74" height="1.65" fill="#f6dfe2" stroke="none" stroke-width="1"/>
<rect x="92.8" y="58.8" width="10.74" height="1.65" fill="#f5dee1" stroke="none" stroke-width="1"/>
<rect x="103.49" y="58.8" width="10.74" height="1.65" fill="#b2b1d6" stroke="none" stroke-width="1"/>
<rect x="114.17" y="58.8" width="10.74" height="1.65" fill="#cecde3" stroke="none" stroke-width="1"/>
<rect x="124.86" y="58.8" width="10.74" height="1.65" fill="#cac9e1" stroke="none" stroke-width="1"/>
<rect x="135.54" y="58.8" width="10.74" height="1.65" fill="#f7eef0" stroke="none" stroke-width="1"/>
<rect x="146.23" y="58.8" width="10.74" height="1.65" fill="#6364af" stroke="none" stroke-width="1"/>
<rect x="156.91" y="58.8" width="10.74" height="1.65" fill="#a8a8d1" stroke="none" stroke-width="1"/>
<rect x="18" y="60.4" width="10.74" height="1.65" fill="#f5dde0" stroke="none" stroke-width="1"/>
<rect x="28.69" y="60.4" width="10.74" height="1.65" fill="#d7d6e8" stroke="none" stroke-width="1"/>
<rect x="39.37" y="60.4" width="10.74" height="1.65" fill="#e96d75" stroke="none" stroke-width="1"/>
<rect x="50.06" y="60.4" width="10.74" height="1.65" fill="#e75b63" stroke="none" stroke-width="1"/>
<rect x="60.74" y="60.4" width="10.74" height="1.65" fill="#e64b54" stroke="none" stroke-width="1"/>
<rect x="71.43" y="60.4" width="10.74" height="1.65" fill="#e75961" stroke="none" stroke-width="1"/>
<rect x="82.11" y="60.4" width="10.74" height="1.65" fill="#f5d9dc" stroke="none" stroke-width="1"/>
<rect x="92.8" y="60.4" width="10.74" height="1.65" fill="#f6e7ea" stroke="none" stroke-width="1"/>
<rect x="103.49" y="60.4" width="10.74" height="1.65" fill="#bdbcdb" stroke="none" stroke-width="1"/>
<rect x="114.17" y="60.4" width="10.74" height="1.65" fill="#e5e3ef" stroke="none" stroke-width="1"/>
<rect x="124.86" y="60.4" width="10.74" height="1.65" fill="#cbcae2" stroke="none" stroke-width="1"/>
<rect x="135.54" y="60.4" width="10.74" height="1.65" fill="#eceaf2" stroke="none" stroke-width="1"/>
<rect x="146.23" y="60.4" width="10.74" height="1.65" fill="#5c5cab" stroke="none" stroke-width="1"/>
<rect x="156.91" y="60.4" width="10.74" height="1.65" fill="#acabd3" stroke="none" stroke-width="1"/>
<rect x="18" y="62.01" width="10.74" height="1.65" fill="#bdbcdb" stroke="none" stroke-width="1"/>
<rect x="28.69" y="62.01" width="10.74" height="1.65" fill="#d1d0e5" stroke="none" stroke-width="1"/>
<rect x="39.37" y="62.01" width="10.74" height="1.65" fill="#ea767d" stroke="none" stroke-width="1"/>
<rect x="50.06" y="62.01" width="10.74" height="1.65" fill="#e96d74" stroke="none" stroke-width="1"/>
<rect x="60.74" y="62.01" width="10.74" height="1.65" fill="#ea7179" stroke="none" stroke-width="1"/>
<rect x="71.43" y="62.01" width="10.74" height="1.65" fill="#eb7a81" stroke="none" stroke-width="1"/>
<rect x="82.11" y="62.01" width="10.74" height="1.65" fill="#f8f4f6" stroke="none" stroke-width="1"/>
<rect x="92.8" y="62.01" width="10.74" height="1.65" fill="#dbd9ea" stroke="none" stroke-width="1"/>
<rect x="103.49" y="62.01" width="10.74" height="1.65" fill="#b9b8d9" stroke="none" stroke-width="1"/>
<rect x="114.17" y="62.01" width="10.74" height="1.65" fill="#b8b8d9" stroke="none" stroke-width="1"/>
<rect x="124.86" y="62.01" width="10.74" height="1.65" fill="#d8d6e8" stroke="none" stroke-width="1"/>
<rect x="135.54" y="62.01" width="10.74" height="1.65" fill="#f7eef1" stroke="none" stroke-width="1"/>
<rect x="146.23" y="62.01" width="10.74" height="1.65" fill="#6667b1" stroke="none" stroke-width="1"/>
<rect x="156.91" y="62.01" width="10.74" height="1.65" fill="#eeecf3" stroke="none" stroke-width="1"/>
<rect x="18" y="63.61" width="10.74" height="1.65" fill="#f3c8cc" stroke="none" stroke-width="1"/>
<rect x="28.69" y="63.61" width="10.74" height="1.65" fill="#f3c3c7" stroke="none" stroke-width="1"/>
<rect x="39.37" y="63.61" width="10.74" height="1.65" fill="#ed8b91" stroke="none" stroke-width="1"/>
<rect x="50.06" y="63.61" width="10.74" height="1.65" fill="#eb7c82" stroke="none" stroke-width="1"/>
<rect x="60.74" y="63.61" width="10.74" height="1.65" fill="#ea777e" stroke="none" stroke-width="1"/>
<rect x="71.43" y="63.61" width="10.74" height="1.65" fill="#ec8188" stroke="none" stroke-width="1"/>
<rect x="82.11" y="63.61" width="10.74" height="1.65" fill="#f2bbc0" stroke="none" stroke-width="1"/>
<rect x="92.8" y="63.61" width="10.74" height="1.65" fill="#f4ced1" stroke="none" stroke-width="1"/>
<rect x="103.49" y="63.61" width="10.74" height="1.65" fill="#f5dee1" stroke="none" stroke-width="1"/>
<rect x="114.17" y="63.61" width="10.74" height="1.65" fill="#f5dbde" stroke="none" stroke-width="1"/>
<rect x="124.86" y="63.61" width="10.74" height="1.65" fill="#b3b2d6" stroke="none" stroke-width="1"/>
<rect x="135.54" y="63.61" width="10.74" height="1.65" fill="#f7f5f7" stroke="none" stroke-width="1"/>
<rect x="146.23" y="63.61" width="10.74" height="1.65" fill="#5253a6" stroke="none" stroke-width="1"/>
<rect x="156.91" y="63.61" width="10.74" height="1.65" fill="#acabd3" stroke="none" stroke-width="1"/>
<rect x="18" y="65.21" width="10.74" height="1.65" fill="#d2d1e6" stroke="none" stroke-width="1"/>
<rect x="28.69" y="65.21" width="10.74" height="1.65" fill="#ebeaf2" stroke="none" stroke-width="1"/>
<rect x="39.37" y="65.21" width="10.74" height="1.65" fill="#f1b2b7" stroke="none" stroke-width="1"/>
<rect x="50.06" y="65.21" width="10.74" height="1.65" fill="#f0a8ad" stroke="none" stroke-width="1"/>
<rect x="60.74" y="65.21" width="10.74" height="1.65" fill="#e96870" stroke="none" stroke-width="1"/>
<rect x="71.43" y="65.21" width="10.74" height="1.65" fill="#ed9499" stroke="none" stroke-width="1"/>
<rect x="82.11" y="65.21" width="10.74" height="1.65" fill="#f4cdd0" stroke="none" stroke-width="1"/>
<rect x="92.8" y="65.21" width="10.74" height="1.65" fill="#b3b3d6" stroke="none" stroke-width="1"/>
<rect x="103.49" y="65.21" width="10.74" height="1.65" fill="#f0acb0" stroke="none" stroke-width="1"/>
<rect x="114.17" y="65.21" width="10.74" height="1.65" fill="#f7e9eb" stroke="none" stroke-width="1"/>
<rect x="124.86" y="65.21" width="10.74" height="1.65" fill="#8282be" stroke="none" stroke-width="1"/>
<rect x="135.54" y="65.21" width="10.74" height="1.65" fill="#e4e2ee" stroke="none" stroke-width="1"/>
<rect x="146.23" y="65.21" width="10.74" height="1.65" fill="#4547a0" stroke="none" stroke-width="1"/>
<rect x="156.91" y="65.21" width="10.74" height="1.65" fill="#8080bd" stroke="none" stroke-width="1"/>
<rect x="18" y="66.82" width="10.74" height="1.65" fill="#f1b6ba" stroke="none" stroke-width="1"/>
<rect x="28.69" y="66.82" width="10.74" height="1.65" fill="#e5e4ef" stroke="none" stroke-width="1"/>
<rect x="39.37" y="66.82" width="10.74" height="1.65" fill="#ef9ea4" stroke="none" stroke-width="1"/>
<rect x="50.06" y="66.82" width="10.74" height="1.65" fill="#ec8990" stroke="none" stroke-width="1"/>
<rect x="60.74" y="66.82" width="10.74" height="1.65" fill="#efa2a7" stroke="none" stroke-width="1"/>
<rect x="71.43" y="66.82" width="10.74" height="1.65" fill="#ed8f95" stroke="none" stroke-width="1"/>
<rect x="82.11" y="66.82" width="10.74" height="1.65" fill="#f6e2e5" stroke="none" stroke-width="1"/>
<rect x="92.8" y="66.82" width="10.74" height="1.65" fill="#f7ecee" stroke="none" stroke-width="1"/>
<rect x="103.49" y="66.82" width="10.74" height="1.65" fill="#f4d1d4" stroke="none" stroke-width="1"/>
<rect x="114.17" y="66.82" width="10.74" height="1.65" fill="#f3c4c8" stroke="none" stroke-width="1"/>
<rect x="124.86" y="66.82" width="10.74" height="1.65" fill="#7272b6" stroke="none" stroke-width="1"/>
<rect x="135.54" y="66.82" width="10.74" height="1.65" fill="#9898c9" stroke="none" stroke-width="1"/>
<rect x="146.23" y="66.82" width="10.74" height="1.65" fill="#262891" stroke="none" stroke-width="1"/>
<rect x="156.91" y="66.82" width="10.74" height="1.65" fill="#7c7cbb" stroke="none" stroke-width="1"/>
<rect x="18" y="68.42" width="10.74" height="1.65" fill="#f3c6ca" stroke="none" stroke-width="1"/>
<rect x="28.69" y="68.42" width="10.74" height="1.65" fill="#c4c3df" stroke="none" stroke-width="1"/>
<rect x="39.37" y="68.42" width="10.74" height="1.65" fill="#f3c5c9" stroke="none" stroke-width="1"/>
<rect x="50.06" y="68.42" width="10.74" height="1.65" fill="#ec858b" stroke="none" stroke-width="1"/>
<rect x="60.74" y="68.42" width="10.74" height="1.65" fill="#ec8188" stroke="none" stroke-width="1"/>
<rect x="71.43" y="68.42" width="10.74" height="1.65" fill="#f0a9ae" stroke="none" stroke-width="1"/>
<rect x="82.11" y="68.42" width="10.74" height="1.65" fill="#ee9ca2" stroke="none" stroke-width="1"/>
<rect x="92.8" y="68.42" width="10.74" height="1.65" fill="#ebe9f1" stroke="none" stroke-width="1"/>
<rect x="103.49" y="68.42" width="10.74" height="1.65" fill="#f7ebee" stroke="none" stroke-width="1"/>
<rect x="114.17" y="68.42" width="10.74" height="1.65" fill="#f6e5e8" stroke="none" stroke-width="1"/>
<rect x="124.86" y="68.42" width="10.74" height="1.65" fill="#d4d2e6" stroke="none" stroke-width="1"/>
<rect x="135.54" y="68.42" width="10.74" height="1.65" fill="#b3b2d6" stroke="none" stroke-width="1"/>
<rect x="146.23" y="68.42" width="10.74" height="1.65" fill="#303196" stroke="none" stroke-width="1"/>
<rect x="156.91" y="68.42" width="10.74" height="1.65" fill="#8b8bc3" stroke="none" stroke-width="1"/>
<rect x="18" y="70.02" width="10.74" height="1.65" fill="#f8f5f7" stroke="none" stroke-width="1"/>
<rect x="28.69" y="70.02" width="10.74" height="1.65" fill="#d5d4e7" stroke="none" stroke-width="1"/>
<rect x="39.37" y="70.02" width="10.74" height="1.65" fill="#ee979d" stroke="none" stroke-width="1"/>
<rect x="50.06" y="70.02" width="10.74" height="1.65" fill="#f3c9cd" stroke="none" stroke-width="1"/>
<rect x="60.74" y="70.02" width="10.74" height="1.65" fill="#e96870" stroke="none" stroke-width="1"/>
<rect x="71.43" y="70.02" width="10.74" height="1.65" fill="#f5dee1" stroke="none" stroke-width="1"/>
<rect x="82.11" y="70.02" width="10.74" height="1.65" fill="#efa5aa" stroke="none" stroke-width="1"/>
<rect x="92.8" y="70.02" width="10.74" height="1.65" fill="#bcbbdb" stroke="none" stroke-width="1"/>
<rect x="103.49" y="70.02" width="10.74" height="1.65" fill="#f5d7db" stroke="none" stroke-width="1"/>
<rect x="114.17" y="70.02" width="10.74" height="1.65" fill="#f3c4c8" stroke="none" stroke-width="1"/>
<rect x="124.86" y="70.02" width="10.74" height="1.65" fill="#aaa9d2" stroke="none" stroke-width="1"/>
<rect x="135.54" y="70.02" width="10.74" height="1.65" fill="#b6b5d8" stroke="none" stroke-width="1"/>
<rect x="146.23" y="70.02" width="10.74" height="1.65" fill="#3f419d" stroke="none" stroke-width="1"/>
<rect x="156.91" y="70.02" width="10.74" height="1.65" fill="#5f60ad" stroke="none" stroke-width="1"/>
<rect x="18" y="71.63" width="10.74" height="1.65" fill="#f7ebee" stroke="none" stroke-width="1"/>
<rect x="28.69" y="71.63" width="10.74" height="1.65" fill="#cccae2" stroke="none" stroke-width="1"/>
<rect x="39.37" y="71.63" width="10.74" height="1.65" fill="#f0aaaf" stroke="none" stroke-width="1"/>
<rect x="50.06" y="71.63" width="10.74" height="1.65" fill="#f4ced1" stroke="none" stroke-width="1"/>
<rect x="60.74" y="71.63" width="10.74" height="1.65" fill="#e85f67" stroke="none" stroke-width="1"/>
<rect x="71.43" y="71.63" width="10.74" height="1.65" fill="#ee999f" stroke="none" stroke-width="1"/>
<rect x="82.11" y="71.63" width="10.74" height="1.65" fill="#ee989e" stroke="none" stroke-width="1"/>
<rect x="92.8" y="71.63" width="10.74" height="1.65" fill="#c2c1dd" stroke="none" stroke-width="1"/>
<rect x="103.49" y="71.63" width="10.74" height="1.65" fill="#ee989e" stroke="none" stroke-width="1"/>
<rect x="114.17" y="71.63" width="10.74" height="1.65" fill="#f1b0b5" stroke="none" stroke-width="1"/>
<rect x="124.86" y="71.63" width="10.74" height="1.65" fill="#7979ba" stroke="none" stroke-width="1"/>
<rect x="135.54" y="71.63" width="10.74" height="1.65" fill="#c8c7e1" stroke="none" stroke-width="1"/>
<rect x="146.23" y="71.63" width="10.74" height="1.65" fill="#2a2c93" stroke="none" stroke-width="1"/>
<rect x="156.91" y="71.63" width="10.74" height="1.65" fill="#6969b2" stroke="none" stroke-width="1"/>
<rect x="18" y="73.23" width="10.74" height="1.65" fill="#f5dbde" stroke="none" stroke-width="1"/>
<rect x="28.69" y="73.23" width="10.74" height="1.65" fill="#b4b3d6" stroke="none" stroke-width="1"/>
<rect x="39.37" y="73.23" width="10.74" height="1.65" fill="#f3c6ca" stroke="none" stroke-width="1"/>
<rect x="50.06" y="73.23" width="10.74" height="1.65" fill="#efa6ab" stroke="none" stroke-width="1"/>
<rect x="60.74" y="73.23" width="10.74" height="1.65" fill="#ee9aa0" stroke="none" stroke-width="1"/>
<rect x="71.43" y="73.23" width="10.74" height="1.65" fill="#ef9ea3" stroke="none" stroke-width="1"/>
<rect x="82.11" y="73.23" width="10.74" height="1.65" fill="#f7f0f3" stroke="none" stroke-width="1"/>
<rect x="92.8" y="73.23" width="10.74" height="1.65" fill="#dcdbea" stroke="none" stroke-width="1"/>
<rect x="103.49" y="73.23" width="10.74" height="1.65" fill="#e5e4ef" stroke="none" stroke-width="1"/>
<rect x="114.17" y="73.23" width="10.74" height="1.65" fill="#d1cfe5" stroke="none" stroke-width="1"/>
<rect x="124.86" y="73.23" width="10.74" height="1.65" fill="#8282be" stroke="none" stroke-width="1"/>
<rect x="135.54" y="73.23" width="10.74" height="1.65" fill="#9e9ecc" stroke="none" stroke-width="1"/>
<rect x="146.23" y="73.23" width="10.74" height="1.65" fill="#2b2d93" stroke="none" stroke-width="1"/>
<rect x="156.91" y="73.23" width="10.74" height="1.65" fill="#7171b6" stroke="none" stroke-width="1"/>
<rect x="18" y="74.83" width="10.74" height="1.65" fill="#f2c2c6" stroke="none" stroke-width="1"/>
<rect x="28.69" y="74.83" width="10.74" height="1.65" fill="#f7edef" stroke="none" stroke-width="1"/>
<rect x="39.37" y="74.83" width="10.74" height="1.65" fill="#efa0a5" stroke="none" stroke-width="1"/>
<rect x="50.06" y="74.83" width="10.74" height="1.65" fill="#ec8289" stroke="none" stroke-width="1"/>
<rect x="60.74" y="74.83" width="10.74" height="1.65" fill="#f2bbbf" stroke="none" stroke-width="1"/>
<rect x="71.43" y="74.83" width="10.74" height="1.65" fill="#ec8389" stroke="none" stroke-width="1"/>
<rect x="82.11" y="74.83" width="10.74" height="1.65" fill="#f4d2d5" stroke="none" stroke-width="1"/>
<rect x="92.8" y="74.83" width="10.74" height="1.65" fill="#f7ebed" stroke="none" stroke-width="1"/>
<rect x="103.49" y="74.83" width="10.74" height="1.65" fill="#f6e2e5" stroke="none" stroke-width="1"/>
<rect x="114.17" y="74.83" width="10.74" height="1.65" fill="#f7edef" stroke="none" stroke-width="1"/>
<rect x="124.86" y="74.83" width="10.74" height="1.65" fill="#e5e3ef" stroke="none" stroke-width="1"/>
<rect x="135.54" y="74.83" width="10.74" height="1.65" fill="#bebddb" stroke="none" stroke-width="1"/>
<rect x="146.23" y="74.83" width="10.74" height="1.65" fill="#5c5dac" stroke="none" stroke-width="1"/>
<rect x="156.91" y="74.83" width="10.74" height="1.65" fill="#deddeb" stroke="none" stroke-width="1"/>
<rect x="18" y="76.43" width="10.74" height="1.65" fill="#f4d3d7" stroke="none" stroke-width="1"/>
<rect x="28.69" y="76.43" width="10.74" height="1.65" fill="#f7eff1" stroke="none" stroke-width="1"/>
<rect x="39.37" y="76.43" width="10.74" height="1.65" fill="#f4d2d5" stroke="none" stroke-width="1"/>
<rect x="50.06" y="76.43" width="10.74" height="1.65" fill="#f3c5c9" stroke="none" stroke-width="1"/>
<rect x="60.74" y="76.43" width="10.74" height="1.65" fill="#ed8b91" stroke="none" stroke-width="1"/>
<rect x="71.43" y="76.43" width="10.74" height="1.65" fill="#f4cdd0" stroke="none" stroke-width="1"/>
<rect x="82.11" y="76.43" width="10.74" height="1.65" fill="#f7f1f3" stroke="none" stroke-width="1"/>
<rect x="92.8" y="76.43" width="10.74" height="1.65" fill="#f7eef0" stroke="none" stroke-width="1"/>
<rect x="103.49" y="76.43" width="10.74" height="1.65" fill="#cfcee4" stroke="none" stroke-width="1"/>
<rect x="114.17" y="76.43" width="10.74" height="1.65" fill="#e3e2ee" stroke="none" stroke-width="1"/>
<rect x="124.86" y="76.43" width="10.74" height="1.65" fill="#9595c7" stroke="none" stroke-width="1"/>
<rect x="135.54" y="76.43" width="10.74" height="1.65" fill="#c2c1de" stroke="none" stroke-width="1"/>
<rect x="146.23" y="76.43" width="10.74" height="1.65" fill="#343698" stroke="none" stroke-width="1"/>
<rect x="156.91" y="76.43" width="10.74" height="1.65" fill="#7a7bba" stroke="none" stroke-width="1"/>
<rect x="18" y="78.04" width="10.74" height="1.65" fill="#f4d3d6" stroke="none" stroke-width="1"/>
<rect x="28.69" y="78.04" width="10.74" height="1.65" fill="#ebe9f1" stroke="none" stroke-width="1"/>
<rect x="39.37" y="78.04" width="10.74" height="1.65" fill="#f3cace" stroke="none" stroke-width="1"/>
<rect x="50.06" y="78.04" width="10.74" height="1.65" fill="#ee9aa0" stroke="none" stroke-width="1"/>
<rect x="60.74" y="78.04" width="10.74" height="1.65" fill="#f4d0d3" stroke="none" stroke-width="1"/>
<rect x="71.43" y="78.04" width="10.74" height="1.65" fill="#f1b8bc" stroke="none" stroke-width="1"/>
<rect x="82.11" y="78.04" width="10.74" height="1.65" fill="#f4cfd3" stroke="none" stroke-width="1"/>
<rect x="92.8" y="78.04" width="10.74" height="1.65" fill="#f8f5f7" stroke="none" stroke-width="1"/>
<rect x="103.49" y="78.04" width="10.74" height="1.65" fill="#f7ecee" stroke="none" stroke-width="1"/>
<rect x="114.17" y="78.04" width="10.74" height="1.65" fill="#c8c7e0" stroke="none" stroke-width="1"/>
<rect x="124.86" y="78.04" width="10.74" height="1.65" fill="#b7b6d8" stroke="none" stroke-width="1"/>
<rect x="135.54" y="78.04" width="10.74" height="1.65" fill="#a3a3ce" stroke="none" stroke-width="1"/>
<rect x="146.23" y="78.04" width="10.74" height="1.65" fill="#313296" stroke="none" stroke-width="1"/>
<rect x="156.91" y="78.04" width="10.74" height="1.65" fill="#8888c1" stroke="none" stroke-width="1"/>
<rect x="18" y="79.64" width="10.74" height="1.65" fill="#f3c5c9" stroke="none" stroke-width="1"/>
<rect x="28.69" y="79.64" width="10.74" height="1.65" fill="#f8f4f6" stroke="none" stroke-width="1"/>
<rect x="39.37" y="79.64" width="10.74" height="1.65" fill="#f3cccf" stroke="none" stroke-width="1"/>
<rect x="50.06" y="79.64" width="10.74" height="1.65" fill="#f2babe" stroke="none" stroke-width="1"/>
<rect x="60.74" y="79.64" width="10.74" height="1.65" fill="#f2c1c5" stroke="none" stroke-width="1"/>
<rect x="71.43" y="79.64" width="10.74" height="1.65" fill="#ef9fa4" stroke="none" stroke-width="1"/>
<rect x="82.11" y="79.64" width="10.74" height="1.65" fill="#eae8f1" stroke="none" stroke-width="1"/>
<rect x="92.8" y="79.64" width="10.74" height="1.65" fill="#edebf3" stroke="none" stroke-width="1"/>
<rect x="103.49" y="79.64" width="10.74" height="1.65" fill="#f7f0f2" stroke="none" stroke-width="1"/>
<rect x="114.17" y="79.64" width="10.74" height="1.65" fill="#cdcce3" stroke="none" stroke-width="1"/>
<rect x="124.86" y="79.64" width="10.74" height="1.65" fill="#9d9ccb" stroke="none" stroke-width="1"/>
<rect x="135.54" y="79.64" width="10.74" height="1.65" fill="#dfdeec" stroke="none" stroke-width="1"/>
<rect x="146.23" y="79.64" width="10.74" height="1.65" fill="#363899" stroke="none" stroke-width="1"/>
<rect x="156.91" y="79.64" width="10.74" height="1.65" fill="#bdbcdb" stroke="none" stroke-width="1"/>
<rect x="18" y="81.24" width="10.74" height="1.65" fill="#eb797f" stroke="none" stroke-width="1"/>
<rect x="28.69" y="81.24" width="10.74" height="1.65" fill="#c3c2de" stroke="none" stroke-width="1"/>
<rect x="39.37" y="81.24" width="10.74" height="1.65" fill="#eb787f" stroke="none" stroke-width="1"/>
<rect x="50.06" y="81.24" width="10.74" height="1.65" fill="#ef9fa4" stroke="none" stroke-width="1"/>
<rect x="60.74" y="81.24" width="10.74" height="1.65" fill="#ed9398" stroke="none" stroke-width="1"/>
<rect x="71.43" y="81.24" width="10.74" height="1.65" fill="#f3cbce" stroke="none" stroke-width="1"/>
<rect x="82.11" y="81.24" width="10.74" height="1.65" fill="#f2c1c5" stroke="none" stroke-width="1"/>
<rect x="92.8" y="81.24" width="10.74" height="1.65" fill="#f6e6e9" stroke="none" stroke-width="1"/>
<rect x="103.49" y="81.24" width="10.74" height="1.65" fill="#e6e4ef" stroke="none" stroke-width="1"/>
<rect x="114.17" y="81.24" width="10.74" height="1.65" fill="#f1eff4" stroke="none" stroke-width="1"/>
<rect x="124.86" y="81.24" width="10.74" height="1.65" fill="#d1d0e5" stroke="none" stroke-width="1"/>
<rect x="135.54" y="81.24" width="10.74" height="1.65" fill="#dcdbea" stroke="none" stroke-width="1"/>
<rect x="146.23" y="81.24" width="10.74" height="1.65" fill="#1c1e8c" stroke="none" stroke-width="1"/>
<rect x="156.91" y="81.24" width="10.74" height="1.65" fill="#7576b8" stroke="none" stroke-width="1"/>
<rect x="18" y="82.85" width="10.74" height="1.65" fill="#f7eef1" stroke="none" stroke-width="1"/>
<rect x="28.69" y="82.85" width="10.74" height="1.65" fill="#f5dee1" stroke="none" stroke-width="1"/>
<rect x="39.37" y="82.85" width="10.74" height="1.65" fill="#f2bcc0" stroke="none" stroke-width="1"/>
<rect x="50.06" y="82.85" width="10.74" height="1.65" fill="#f0aeb3" stroke="none" stroke-width="1"/>
<rect x="60.74" y="82.85" width="10.74" height="1.65" fill="#f0a9ae" stroke="none" stroke-width="1"/>
<rect x="71.43" y="82.85" width="10.74" height="1.65" fill="#ea767d" stroke="none" stroke-width="1"/>
<rect x="82.11" y="82.85" width="10.74" height="1.65" fill="#f4f2f6" stroke="none" stroke-width="1"/>
<rect x="92.8" y="82.85" width="10.74" height="1.65" fill="#f0eff4" stroke="none" stroke-width="1"/>
<rect x="103.49" y="82.85" width="10.74" height="1.65" fill="#bfbedc" stroke="none" stroke-width="1"/>
<rect x="114.17" y="82.85" width="10.74" height="1.65" fill="#adacd3" stroke="none" stroke-width="1"/>
<rect x="124.86" y="82.85" width="10.74" height="1.65" fill="#b5b4d7" stroke="none" stroke-width="1"/>
<rect x="135.54" y="82.85" width="10.74" height="1.65" fill="#bbbada" stroke="none" stroke-width="1"/>
<rect x="146.23" y="82.85" width="10.74" height="1.65" fill="#9393c6" stroke="none" stroke-width="1"/>
<rect x="156.91" y="82.85" width="10.74" height="1.65" fill="#c3c2de" stroke="none" stroke-width="1"/>
<rect x="18" y="84.45" width="10.74" height="1.65" fill="#f3f1f6" stroke="none" stroke-width="1"/>
<rect x="28.69" y="84.45" width="10.74" height="1.65" fill="#b5b4d7" stroke="none" stroke-width="1"/>
<rect x="39.37" y="84.45" width="10.74" height="1.65" fill="#f2c0c4" stroke="none" stroke-width="1"/>
<rect x="50.06" y="84.45" width="10.74" height="1.65" fill="#ee9da2" stroke="none" stroke-width="1"/>
<rect x="60.74" y="84.45" width="10.74" height="1.65" fill="#efa5aa" stroke="none" stroke-width="1"/>
<rect x="71.43" y="84.45" width="10.74" height="1.65" fill="#ed8d93" stroke="none" stroke-width="1"/>
<rect x="82.11" y="84.45" width="10.74" height="1.65" fill="#9d9dcc" stroke="none" stroke-width="1"/>
<rect x="92.8" y="84.45" width="10.74" height="1.65" fill="#dbdaea" stroke="none" stroke-width="1"/>
<rect x="103.49" y="84.45" width="10.74" height="1.65" fill="#9a99ca" stroke="none" stroke-width="1"/>
<rect x="114.17" y="84.45" width="10.74" height="1.65" fill="#b6b5d8" stroke="none" stroke-width="1"/>
<rect x="124.86" y="84.45" width="10.74" height="1.65" fill="#e8e6f0" stroke="none" stroke-width="1"/>
<rect x="135.54" y="84.45" width="10.74" height="1.65" fill="#f7eef0" stroke="none" stroke-width="1"/>
<rect x="146.23" y="84.45" width="10.74" height="1.65" fill="#dcdaea" stroke="none" stroke-width="1"/>
<rect x="156.91" y="84.45" width="10.74" height="1.65" fill="#d2d0e5" stroke="none" stroke-width="1"/>
<rect x="18" y="86.05" width="10.74" height="1.65" fill="#afaed4" stroke="none" stroke-width="1"/>
<rect x="28.69" y="86.05" width="10.74" height="1.65" fill="#eae9f1" stroke="none" stroke-width="1"/>
<rect x="39.37" y="86.05" width="10.74" height="1.65" fill="#ec8990" stroke="none" stroke-width="1"/>
<rect x="50.06" y="86.05" width="10.74" height="1.65" fill="#e64f57" stroke="none" stroke-width="1"/>
<rect x="60.74" y="86.05" width="10.74" height="1.65" fill="#e75860" stroke="none" stroke-width="1"/>
<rect x="71.43" y="86.05" width="10.74" height="1.65" fill="#e86068" stroke="none" stroke-width="1"/>
<rect x="82.11" y="86.05" width="10.74" height="1.65" fill="#dcdaea" stroke="none" stroke-width="1"/>
<rect x="92.8" y="86.05" width="10.74" height="1.65" fill="#f3cace" stroke="none" stroke-width="1"/>
<rect x="103.49" y="86.05" width="10.74" height="1.65" fill="#d5d3e7" stroke="none" stroke-width="1"/>
<rect x="114.17" y="86.05" width="10.74" height="1.65" fill="#c5c4df" stroke="none" stroke-width="1"/>
<rect x="124.86" y="86.05" width="10.74" height="1.65" fill="#cdcbe3" stroke="none" stroke-width="1"/>
<rect x="135.54" y="86.05" width="10.74" height="1.65" fill="#f8f5f7" stroke="none" stroke-width="1"/>
<rect x="146.23" y="86.05" width="10.74" height="1.65" fill="#d4d3e6" stroke="none" stroke-width="1"/>
<rect x="156.91" y="86.05" width="10.74" height="1.65" fill="#ecebf2" stroke="none" stroke-width="1"/>
<rect x="18" y="87.66" width="10.74" height="1.65" fill="#bebddc" stroke="none" stroke-width="1"/>
<rect x="28.69" y="87.66" width="10.74" height="1.65" fill="#f2f0f5" stroke="none" stroke-width="1"/>
<rect x="39.37" y="87.66" width="10.74" height="1.65" fill="#ea767d" stroke="none" stroke-width="1"/>
<rect x="50.06" y="87.66" width="10.74" height="1.65" fill="#e96870" stroke="none" stroke-width="1"/>
<rect x="60.74" y="87.66" width="10.74" height="1.65" fill="#e9686f" stroke="none" stroke-width="1"/>
<rect x="71.43" y="87.66" width="10.74" height="1.65" fill="#e8636a" stroke="none" stroke-width="1"/>
<rect x="82.11" y="87.66" width="10.74" height="1.65" fill="#e0deec" stroke="none" stroke-width="1"/>
<rect x="92.8" y="87.66" width="10.74" height="1.65" fill="#f6e1e4" stroke="none" stroke-width="1"/>
<rect x="103.49" y="87.66" width="10.74" height="1.65" fill="#a5a4cf" stroke="none" stroke-width="1"/>
<rect x="114.17" y="87.66" width="10.74" height="1.65" fill="#8b8bc3" stroke="none" stroke-width="1"/>
<rect x="124.86" y="87.66" width="10.74" height="1.65" fill="#f6e6e8" stroke="none" stroke-width="1"/>
<rect x="135.54" y="87.66" width="10.74" height="1.65" fill="#cdcbe3" stroke="none" stroke-width="1"/>
<rect x="146.23" y="87.66" width="10.74" height="1.65" fill="#c3c2de" stroke="none" stroke-width="1"/>
<rect x="156.91" y="87.66" width="10.74" height="1.65" fill="#eeecf3" stroke="none" stroke-width="1"/>
<rect x="18" y="89.26" width="10.74" height="1.65" fill="#cbc9e2" stroke="none" stroke-width="1"/>
<rect x="28.69" y="89.26" width="10.74" height="1.65" fill="#c6c5df" stroke="none" stroke-width="1"/>
<rect x="39.37" y="89.26" width="10.74" height="1.65" fill="#ec878d" stroke="none" stroke-width="1"/>
<rect x="50.06" y="89.26" width="10.74" height="1.65" fill="#e85e65" stroke="none" stroke-width="1"/>
<rect x="60.74" y="89.26" width="10.74" height="1.65" fill="#eb7b82" stroke="none" stroke-width="1"/>
<rect x="71.43" y="89.26" width="10.74" height="1.65" fill="#e9656d" stroke="none" stroke-width="1"/>
<rect x="82.11" y="89.26" width="10.74" height="1.65" fill="#dcdaea" stroke="none" stroke-width="1"/>
<rect x="92.8" y="89.26" width="10.74" height="1.65" fill="#f4f2f6" stroke="none" stroke-width="1"/>
<rect x="103.49" y="89.26" width="10.74" height="1.65" fill="#a8a7d1" stroke="none" stroke-width="1"/>
<rect x="114.17" y="89.26" width="10.74" height="1.65" fill="#adadd3" stroke="none" stroke-width="1"/>
<rect x="124.86" y="89.26" width="10.74" height="1.65" fill="#f5d9dc" stroke="none" stroke-width="1"/>
<rect x="135.54" y="89.26" width="10.74" height="1.65" fill="#f3c7ca" stroke="none" stroke-width="1"/>
<rect x="146.23" y="89.26" width="10.74" height="1.65" fill="#cac9e2" stroke="none" stroke-width="1"/>
<rect x="156.91" y="89.26" width="10.74" height="1.65" fill="#9090c5" stroke="none" stroke-width="1"/>
<rect x="18" y="90.86" width="10.74" height="1.65" fill="#f1eff5" stroke="none" stroke-width="1"/>
<rect x="28.69" y="90.86" width="10.74" height="1.65" fill="#d4d2e6" stroke="none" stroke-width="1"/>
<rect x="39.37" y="90.86" width="10.74" height="1.65" fill="#efa4a9" stroke="none" stroke-width="1"/>
<rect x="50.06" y="90.86" width="10.74" height="1.65" fill="#e86068" stroke="none" stroke-width="1"/>
<rect x="60.74" y="90.86" width="10.74" height="1.65" fill="#e8646c" stroke="none" stroke-width="1"/>
<rect x="71.43" y="90.86" width="10.74" height="1.65" fill="#e64d56" stroke="none" stroke-width="1"/>
<rect x="82.11" y="90.86" width="10.74" height="1.65" fill="#f2f0f5" stroke="none" stroke-width="1"/>
<rect x="92.8" y="90.86" width="10.74" height="1.65" fill="#d5d4e7" stroke="none" stroke-width="1"/>
<rect x="103.49" y="90.86" width="10.74" height="1.65" fill="#b3b2d6" stroke="none" stroke-width="1"/>
<rect x="114.17" y="90.86" width="10.74" height="1.65" fill="#c7c6e0" stroke="none" stroke-width="1"/>
<rect x="124.86" y="90.86" width="10.74" height="1.65" fill="#e2e0ed" stroke="none" stroke-width="1"/>
<rect x="135.54" y="90.86" width="10.74" height="1.65" fill="#c1c0dd" stroke="none" stroke-width="1"/>
<rect x="146.23" y="90.86" width="10.74" height="1.65" fill="#f4f2f6" stroke="none" stroke-width="1"/>
<rect x="156.91" y="90.86" width="10.74" height="1.65" fill="#b0afd4" stroke="none" stroke-width="1"/>
<rect x="18" y="92.46" width="10.74" height="1.65" fill="#e5e3ef" stroke="none" stroke-width="1"/>
<rect x="28.69" y="92.46" width="10.74" height="1.65" fill="#f7eef0" stroke="none" stroke-width="1"/>
<rect x="39.37" y="92.46" width="10.74" height="1.65" fill="#edebf2" stroke="none" stroke-width="1"/>
<rect x="50.06" y="92.46" width="10.74" height="1.65" fill="#f3cace" stroke="none" stroke-width="1"/>
<rect x="60.74" y="92.46" width="10.74" height="1.65" fill="#f1b2b7" stroke="none" stroke-width="1"/>
<rect x="71.43" y="92.46" width="10.74" height="1.65" fill="#f1b2b6" stroke="none" stroke-width="1"/>
<rect x="82.11" y="92.46" width="10.74" height="1.65" fill="#f1eff5" stroke="none" stroke-width="1"/>
<rect x="92.8" y="92.46" width="10.74" height="1.65" fill="#f4d2d5" stroke="none" stroke-width="1"/>
<rect x="103.49" y="92.46" width="10.74" height="1.65" fill="#cbcae2" stroke="none" stroke-width="1"/>
<rect x="114.17" y="92.46" width="10.74" height="1.65" fill="#8686c0" stroke="none" stroke-width="1"/>
<rect x="124.86" y="92.46" width="10.74" height="1.65" fill="#f5d8db" stroke="none" stroke-width="1"/>
<rect x="135.54" y="92.46" width="10.74" height="1.65" fill="#f5d8db" stroke="none" stroke-width="1"/>
<rect x="146.23" y="92.46" width="10.74" height="1.65" fill="#f5d6d9" stroke="none" stroke-width="1"/>
<rect x="156.91" y="92.46" width="10.74" height="1.65" fill="#f5dbde" stroke="none" stroke-width="1"/>
<rect x="18" y="94.07" width="10.74" height="1.65" fill="#c4c3df" stroke="none" stroke-width="1"/>
<rect x="28.69" y="94.07" width="10.74" height="1.65" fill="#8989c2" stroke="none" stroke-width="1"/>
<rect x="39.37" y="94.07" width="10.74" height="1.65" fill="#f7f0f3" stroke="none" stroke-width="1"/>
<rect x="50.06" y="94.07" width="10.74" height="1.65" fill="#f3cacd" stroke="none" stroke-width="1"/>
<rect x="60.74" y="94.07" width="10.74" height="1.65" fill="#f4cfd3" stroke="none" stroke-width="1"/>
<rect x="71.43" y="94.07" width="10.74" height="1.65" fill="#f7edef" stroke="none" stroke-width="1"/>
<rect x="82.11" y="94.07" width="10.74" height="1.65" fill="#8d8dc3" stroke="none" stroke-width="1"/>
<rect x="92.8" y="94.07" width="10.74" height="1.65" fill="#f7e9eb" stroke="none" stroke-width="1"/>
<rect x="103.49" y="94.07" width="10.74" height="1.65" fill="#9292c6" stroke="none" stroke-width="1"/>
<rect x="114.17" y="94.07" width="10.74" height="1.65" fill="#9c9bcb" stroke="none" stroke-width="1"/>
<rect x="124.86" y="94.07" width="10.74" height="1.65" fill="#f7eaed" stroke="none" stroke-width="1"/>
<rect x="135.54" y="94.07" width="10.74" height="1.65" fill="#f7eff2" stroke="none" stroke-width="1"/>
<rect x="146.23" y="94.07" width="10.74" height="1.65" fill="#f5dcdf" stroke="none" stroke-width="1"/>
<rect x="156.91" y="94.07" width="10.74" height="1.65" fill="#f7f5f7" stroke="none" stroke-width="1"/>
<rect x="18" y="95.67" width="10.74" height="1.65" fill="#8686c0" stroke="none" stroke-width="1"/>
<rect x="28.69" y="95.67" width="10.74" height="1.65" fill="#edebf2" stroke="none" stroke-width="1"/>
<rect x="39.37" y="95.67" width="10.74" height="1.65" fill="#7b7bba" stroke="none" stroke-width="1"/>
<rect x="50.06" y="95.67" width="10.74" height="1.65" fill="#e7e5f0" stroke="none" stroke-width="1"/>
<rect x="60.74" y="95.67" width="10.74" height="1.65" fill="#cac9e1" stroke="none" stroke-width="1"/>
<rect x="71.43" y="95.67" width="10.74" height="1.65" fill="#e5e4ef" stroke="none" stroke-width="1"/>
<rect x="82.11" y="95.67" width="10.74" height="1.65" fill="#8585c0" stroke="none" stroke-width="1"/>
<rect x="92.8" y="95.67" width="10.74" height="1.65" fill="#ef9fa4" stroke="none" stroke-width="1"/>
<rect x="103.49" y="95.67" width="10.74" height="1.65" fill="#b1b0d5" stroke="none" stroke-width="1"/>
<rect x="114.17" y="95.67" width="10.74" height="1.65" fill="#9897c9" stroke="none" stroke-width="1"/>
<rect x="124.86" y="95.67" width="10.74" height="1.65" fill="#f7eff1" stroke="none" stroke-width="1"/>
<rect x="135.54" y="95.67" width="10.74" height="1.65" fill="#f4cfd3" stroke="none" stroke-width="1"/>
<rect x="146.23" y="95.67" width="10.74" height="1.65" fill="#e85f67" stroke="none" stroke-width="1"/>
<rect x="156.91" y="95.67" width="10.74" height="1.65" fill="#eb7f85" stroke="none" stroke-width="1"/>
<rect x="18" y="97.27" width="10.74" height="1.65" fill="#e1dfed" stroke="none" stroke-width="1"/>
<rect x="28.69" y="97.27" width="10.74" height="1.65" fill="#f6dfe2" stroke="none" stroke-width="1"/>
<rect x="39.37" y="97.27" width="10.74" height="1.65" fill="#aeaed4" stroke="none" stroke-width="1"/>
<rect x="50.06" y="97.27" width="10.74" height="1.65" fill="#afaed4" stroke="none" stroke-width="1"/>
<rect x="60.74" y="97.27" width="10.74" height="1.65" fill="#8d8dc3" stroke="none" stroke-width="1"/>
<rect x="71.43" y="97.27" width="10.74" height="1.65" fill="#e3e1ee" stroke="none" stroke-width="1"/>
<rect x="82.11" y="97.27" width="10.74" height="1.65" fill="#c4c3df" stroke="none" stroke-width="1"/>
<rect x="92.8" y="97.27" width="10.74" height="1.65" fill="#f5dde0" stroke="none" stroke-width="1"/>
<rect x="103.49" y="97.27" width="10.74" height="1.65" fill="#cbcae2" stroke="none" stroke-width="1"/>
<rect x="114.17" y="97.27" width="10.74" height="1.65" fill="#c3c2de" stroke="none" stroke-width="1"/>
<rect x="124.86" y="97.27" width="10.74" height="1.65" fill="#ec848b" stroke="none" stroke-width="1"/>
<rect x="135.54" y="97.27" width="10.74" height="1.65" fill="#ec8289" stroke="none" stroke-width="1"/>
<rect x="146.23" y="97.27" width="10.74" height="1.65" fill="#e64c54" stroke="none" stroke-width="1"/>
<rect x="156.91" y="97.27" width="10.74" height="1.65" fill="#e96c73" stroke="none" stroke-width="1"/>
<rect x="18" y="98.88" width="10.74" height="1.65" fill="#c4c2de" stroke="none" stroke-width="1"/>
<rect x="28.69" y="98.88" width="10.74" height="1.65" fill="#f3c5c9" stroke="none" stroke-width="1"/>
<rect x="39.37" y="98.88" width="10.74" height="1.65" fill="#dcdbea" stroke="none" stroke-width="1"/>
<rect x="50.06" y="98.88" width="10.74" height="1.65" fill="#c9c7e1" stroke="none" stroke-width="1"/>
<rect x="60.74" y="98.88" width="10.74" height="1.65" fill="#abaad2" stroke="none" stroke-width="1"/>
<rect x="71.43" y="98.88" width="10.74" height="1.65" fill="#cfcee4" stroke="none" stroke-width="1"/>
<rect x="82.11" y="98.88" width="10.74" height="1.65" fill="#f4f2f6" stroke="none" stroke-width="1"/>
<rect x="92.8" y="98.88" width="10.74" height="1.65" fill="#f6e0e3" stroke="none" stroke-width="1"/>
<rect x="103.49" y="98.88" width="10.74" height="1.65" fill="#aaa9d2" stroke="none" stroke-width="1"/>
<rect x="114.17" y="98.88" width="10.74" height="1.65" fill="#7272b6" stroke="none" stroke-width="1"/>
<rect x="124.86" y="98.88" width="10.74" height="1.65" fill="#f1b6bb" stroke="none" stroke-width="1"/>
<rect x="135.54" y="98.88" width="10.74" height="1.65" fill="#ed9197" stroke="none" stroke-width="1"/>
<rect x="146.23" y="98.88" width="10.74" height="1.65" fill="#e43d46" stroke="none" stroke-width="1"/>
<rect x="156.91" y="98.88" width="10.74" height="1.65" fill="#e8656c" stroke="none" stroke-width="1"/>
<rect x="18" y="100.48" width="10.74" height="1.65" fill="#9b9bca" stroke="none" stroke-width="1"/>
<rect x="28.69" y="100.48" width="10.74" height="1.65" fill="#f3c5c9" stroke="none" stroke-width="1"/>
<rect x="39.37" y="100.48" width="10.74" height="1.65" fill="#d1d0e5" stroke="none" stroke-width="1"/>
<rect x="50.06" y="100.48" width="10.74" height="1.65" fill="#c0bfdd" stroke="none" stroke-width="1"/>
<rect x="60.74" y="100.48" width="10.74" height="1.65" fill="#8888c1" stroke="none" stroke-width="1"/>
<rect x="71.43" y="100.48" width="10.74" height="1.65" fill="#f6e1e4" stroke="none" stroke-width="1"/>
<rect x="82.11" y="100.48" width="10.74" height="1.65" fill="#9898c9" stroke="none" stroke-width="1"/>
<rect x="92.8" y="100.48" width="10.74" height="1.65" fill="#eb8086" stroke="none" stroke-width="1"/>
<rect x="103.49" y="100.48" width="10.74" height="1.65" fill="#cfcee4" stroke="none" stroke-width="1"/>
<rect x="114.17" y="100.48" width="10.74" height="1.65" fill="#7272b6" stroke="none" stroke-width="1"/>
<rect x="124.86" y="100.48" width="10.74" height="1.65" fill="#f0aaaf" stroke="none" stroke-width="1"/>
<rect x="135.54" y="100.48" width="10.74" height="1.65" fill="#efa6ab" stroke="none" stroke-width="1"/>
<rect x="146.23" y="100.48" width="10.74" height="1.65" fill="#e8646b" stroke="none" stroke-width="1"/>
<rect x="156.91" y="100.48" width="10.74" height="1.65" fill="#e96d74" stroke="none" stroke-width="1"/>
<rect x="18" y="102.08" width="10.74" height="1.65" fill="#9d9ccb" stroke="none" stroke-width="1"/>
<rect x="28.69" y="102.08" width="10.74" height="1.65" fill="#e3e2ee" stroke="none" stroke-width="1"/>
<rect x="39.37" y="102.08" width="10.74" height="1.65" fill="#acabd3" stroke="none" stroke-width="1"/>
<rect x="50.06" y="102.08" width="10.74" height="1.65" fill="#dddceb" stroke="none" stroke-width="1"/>
<rect x="60.74" y="102.08" width="10.74" height="1.65" fill="#7475b7" stroke="none" stroke-width="1"/>
<rect x="71.43" y="102.08" width="10.74" height="1.65" fill="#e3e1ee" stroke="none" stroke-width="1"/>
<rect x="82.11" y="102.08" width="10.74" height="1.65" fill="#c6c5df" stroke="none" stroke-width="1"/>
<rect x="92.8" y="102.08" width="10.74" height="1.65" fill="#f7edef" stroke="none" stroke-width="1"/>
<rect x="103.49" y="102.08" width="10.74" height="1.65" fill="#acabd3" stroke="none" stroke-width="1"/>
<rect x="114.17" y="102.08" width="10.74" height="1.65" fill="#b5b4d7" stroke="none" stroke-width="1"/>
<rect x="124.86" y="102.08" width="10.74" height="1.65" fill="#f1b2b6" stroke="none" stroke-width="1"/>
<rect x="135.54" y="102.08" width="10.74" height="1.65" fill="#ef9fa4" stroke="none" stroke-width="1"/>
<rect x="146.23" y="102.08" width="10.74" height="1.65" fill="#e7555e" stroke="none" stroke-width="1"/>
<rect x="156.91" y="102.08" width="10.74" height="1.65" fill="#ec888e" stroke="none" stroke-width="1"/>
<rect x="18" y="103.69" width="10.74" height="1.65" fill="#6d6eb4" stroke="none" stroke-width="1"/>
<rect x="28.69" y="103.69" width="10.74" height="1.65" fill="#f7eff1" stroke="none" stroke-width="1"/>
<rect x="39.37" y="103.69" width="10.74" height="1.65" fill="#8c8cc3" stroke="none" stroke-width="1"/>
<rect x="50.06" y="103.69" width="10.74" height="1.65" fill="#e0dfec" stroke="none" stroke-width="1"/>
<rect x="60.74" y="103.69" width="10.74" height="1.65" fill="#c2c1de" stroke="none" stroke-width="1"/>
<rect x="71.43" y="103.69" width="10.74" height="1.65" fill="#edebf2" stroke="none" stroke-width="1"/>
<rect x="82.11" y="103.69" width="10.74" height="1.65" fill="#f8f5f7" stroke="none" stroke-width="1"/>
<rect x="92.8" y="103.69" width="10.74" height="1.65" fill="#e1dfed" stroke="none" stroke-width="1"/>
<rect x="103.49" y="103.69" width="10.74" height="1.65" fill="#aeaed4" stroke="none" stroke-width="1"/>
<rect x="114.17" y="103.69" width="10.74" height="1.65" fill="#7d7dbb" stroke="none" stroke-width="1"/>
<rect x="124.86" y="103.69" width="10.74" height="1.65" fill="#f0acb1" stroke="none" stroke-width="1"/>
<rect x="135.54" y="103.69" width="10.74" height="1.65" fill="#ed9399" stroke="none" stroke-width="1"/>
<rect x="146.23" y="103.69" width="10.74" height="1.65" fill="#e5424b" stroke="none" stroke-width="1"/>
<rect x="156.91" y="103.69" width="10.74" height="1.65" fill="#ec8a90" stroke="none" stroke-width="1"/>
<rect x="18" y="105.29" width="10.74" height="1.65" fill="#d6d5e7" stroke="none" stroke-width="1"/>
<rect x="28.69" y="105.29" width="10.74" height="1.65" fill="#f2c1c5" stroke="none" stroke-width="1"/>
<rect x="39.37" y="105.29" width="10.74" height="1.65" fill="#8d8dc4" stroke="none" stroke-width="1"/>
<rect x="50.06" y="105.29" width="10.74" height="1.65" fill="#e9e7f1" stroke="none" stroke-width="1"/>
<rect x="60.74" y="105.29" width="10.74" height="1.65" fill="#9999ca" stroke="none" stroke-width="1"/>
<rect x="71.43" y="105.29" width="10.74" height="1.65" fill="#b6b5d8" stroke="none" stroke-width="1"/>
<rect x="82.11" y="105.29" width="10.74" height="1.65" fill="#f6e7ea" stroke="none" stroke-width="1"/>
<rect x="92.8" y="105.29" width="10.74" height="1.65" fill="#f7eff1" stroke="none" stroke-width="1"/>
<rect x="103.49" y="105.29" width="10.74" height="1.65" fill="#b3b2d6" stroke="none" stroke-width="1"/>
<rect x="114.17" y="105.29" width="10.74" height="1.65" fill="#b6b5d7" stroke="none" stroke-width="1"/>
<rect x="124.86" y="105.29" width="10.74" height="1.65" fill="#f5d8db" stroke="none" stroke-width="1"/>
<rect x="135.54" y="105.29" width="10.74" height="1.65" fill="#ef9ea4" stroke="none" stroke-width="1"/>
<rect x="146.23" y="105.29" width="10.74" height="1.65" fill="#e7565e" stroke="none" stroke-width="1"/>
<rect x="156.91" y="105.29" width="10.74" height="1.65" fill="#eb7c83" stroke="none" stroke-width="1"/>
<rect x="18" y="106.89" width="10.74" height="1.65" fill="#b5b4d7" stroke="none" stroke-width="1"/>
<rect x="28.69" y="106.89" width="10.74" height="1.65" fill="#f0afb4" stroke="none" stroke-width="1"/>
<rect x="39.37" y="106.89" width="10.74" height="1.65" fill="#a3a3ce" stroke="none" stroke-width="1"/>
<rect x="50.06" y="106.89" width="10.74" height="1.65" fill="#9b9bca" stroke="none" stroke-width="1"/>
<rect x="60.74" y="106.89" width="10.74" height="1.65" fill="#9e9ecc" stroke="none" stroke-width="1"/>
<rect x="71.43" y="106.89" width="10.74" height="1.65" fill="#8b8bc3" stroke="none" stroke-width="1"/>
<rect x="82.11" y="106.89" width="10.74" height="1.65" fill="#f6f4f7" stroke="none" stroke-width="1"/>
<rect x="92.8" y="106.89" width="10.74" height="1.65" fill="#f6e7ea" stroke="none" stroke-width="1"/>
<rect x="103.49" y="106.89" width="10.74" height="1.65" fill="#f5dcdf" stroke="none" stroke-width="1"/>
<rect x="114.17" y="106.89" width="10.74" height="1.65" fill="#aeadd4" stroke="none" stroke-width="1"/>
<rect x="124.86" y="106.89" width="10.74" height="1.65" fill="#f1b0b5" stroke="none" stroke-width="1"/>
<rect x="135.54" y="106.89" width="10.74" height="1.65" fill="#e86169" stroke="none" stroke-width="1"/>
<rect x="146.23" y="106.89" width="10.74" height="1.65" fill="#e96a72" stroke="none" stroke-width="1"/>
<rect x="156.91" y="106.89" width="10.74" height="1.65" fill="#e8636a" stroke="none" stroke-width="1"/>
<rect x="18" y="108.49" width="10.74" height="1.65" fill="#8989c1" stroke="none" stroke-width="1"/>
<rect x="28.69" y="108.49" width="10.74" height="1.65" fill="#ed8b91" stroke="none" stroke-width="1"/>
<rect x="39.37" y="108.49" width="10.74" height="1.65" fill="#c7c6e0" stroke="none" stroke-width="1"/>
<rect x="50.06" y="108.49" width="10.74" height="1.65" fill="#f5f3f6" stroke="none" stroke-width="1"/>
<rect x="60.74" y="108.49" width="10.74" height="1.65" fill="#9494c7" stroke="none" stroke-width="1"/>
<rect x="71.43" y="108.49" width="10.74" height="1.65" fill="#9c9ccb" stroke="none" stroke-width="1"/>
<rect x="82.11" y="108.49" width="10.74" height="1.65" fill="#f2bdc1" stroke="none" stroke-width="1"/>
<rect x="92.8" y="108.49" width="10.74" height="1.65" fill="#f2f0f5" stroke="none" stroke-width="1"/>
<rect x="103.49" y="108.49" width="10.74" height="1.65" fill="#e5e3ef" stroke="none" stroke-width="1"/>
<rect x="114.17" y="108.49" width="10.74" height="1.65" fill="#aaa9d2" stroke="none" stroke-width="1"/>
<rect x="124.86" y="108.49" width="10.74" height="1.65" fill="#ec8a90" stroke="none" stroke-width="1"/>
<rect x="135.54" y="108.49" width="10.74" height="1.65" fill="#efa1a6" stroke="none" stroke-width="1"/>
<rect x="146.23" y="108.49" width="10.74" height="1.65" fill="#e64f58" stroke="none" stroke-width="1"/>
<rect x="156.91" y="108.49" width="10.74" height="1.65" fill="#e85d65" stroke="none" stroke-width="1"/>
<rect x="18" y="110.1" width="10.74" height="1.65" fill="#bcbbdb" stroke="none" stroke-width="1"/>
<rect x="28.69" y="110.1" width="10.74" height="1.65" fill="#ea7179" stroke="none" stroke-width="1"/>
<rect x="39.37" y="110.1" width="10.74" height="1.65" fill="#b4b3d7" stroke="none" stroke-width="1"/>
<rect x="50.06" y="110.1" width="10.74" height="1.65" fill="#f4d0d3" stroke="none" stroke-width="1"/>
<rect x="60.74" y="110.1" width="10.74" height="1.65" fill="#7070b5" stroke="none" stroke-width="1"/>
<rect x="71.43" y="110.1" width="10.74" height="1.65" fill="#dad9e9" stroke="none" stroke-width="1"/>
<rect x="82.11" y="110.1" width="10.74" height="1.65" fill="#f1b2b6" stroke="none" stroke-width="1"/>
<rect x="92.8" y="110.1" width="10.74" height="1.65" fill="#f6f4f7" stroke="none" stroke-width="1"/>
<rect x="103.49" y="110.1" width="10.74" height="1.65" fill="#f8f3f5" stroke="none" stroke-width="1"/>
<rect x="114.17" y="110.1" width="10.74" height="1.65" fill="#b9b8d9" stroke="none" stroke-width="1"/>
<rect x="124.86" y="110.1" width="10.74" height="1.65" fill="#f5d7da" stroke="none" stroke-width="1"/>
<rect x="135.54" y="110.1" width="10.74" height="1.65" fill="#f1b3b7" stroke="none" stroke-width="1"/>
<rect x="146.23" y="110.1" width="10.74" height="1.65" fill="#ea7077" stroke="none" stroke-width="1"/>
<rect x="156.91" y="110.1" width="10.74" height="1.65" fill="#e86169" stroke="none" stroke-width="1"/>
<rect x="18" y="111.7" width="10.74" height="1.65" fill="#9898c9" stroke="none" stroke-width="1"/>
<rect x="28.69" y="111.7" width="10.74" height="1.65" fill="#f1b9bd" stroke="none" stroke-width="1"/>
<rect x="39.37" y="111.7" width="10.74" height="1.65" fill="#8d8dc3" stroke="none" stroke-width="1"/>
<rect x="50.06" y="111.7" width="10.74" height="1.65" fill="#edecf3" stroke="none" stroke-width="1"/>
<rect x="60.74" y="111.7" width="10.74" height="1.65" fill="#908fc5" stroke="none" stroke-width="1"/>
<rect x="71.43" y="111.7" width="10.74" height="1.65" fill="#d3d2e6" stroke="none" stroke-width="1"/>
<rect x="82.11" y="111.7" width="10.74" height="1.65" fill="#f4ccd0" stroke="none" stroke-width="1"/>
<rect x="92.8" y="111.7" width="10.74" height="1.65" fill="#dedceb" stroke="none" stroke-width="1"/>
<rect x="103.49" y="111.7" width="10.74" height="1.65" fill="#d6d5e7" stroke="none" stroke-width="1"/>
<rect x="114.17" y="111.7" width="10.74" height="1.65" fill="#c7c5e0" stroke="none" stroke-width="1"/>
<rect x="124.86" y="111.7" width="10.74" height="1.65" fill="#e64d55" stroke="none" stroke-width="1"/>
<rect x="135.54" y="111.7" width="10.74" height="1.65" fill="#f2c2c6" stroke="none" stroke-width="1"/>
<rect x="146.23" y="111.7" width="10.74" height="1.65" fill="#ea6f76" stroke="none" stroke-width="1"/>
<rect x="156.91" y="111.7" width="10.74" height="1.65" fill="#e64f58" stroke="none" stroke-width="1"/>
<rect x="18" y="113.3" width="10.74" height="1.65" fill="#f5f3f6" stroke="none" stroke-width="1"/>
<rect x="28.69" y="113.3" width="10.74" height="1.65" fill="#f0abaf" stroke="none" stroke-width="1"/>
<rect x="39.37" y="113.3" width="10.74" height="1.65" fill="#d6d5e8" stroke="none" stroke-width="1"/>
<rect x="50.06" y="113.3" width="10.74" height="1.65" fill="#d6d5e7" stroke="none" stroke-width="1"/>
<rect x="60.74" y="113.3" width="10.74" height="1.65" fill="#acabd2" stroke="none" stroke-width="1"/>
<rect x="71.43" y="113.3" width="10.74" height="1.65" fill="#b2b1d6" stroke="none" stroke-width="1"/>
<rect x="82.11" y="113.3" width="10.74" height="1.65" fill="#f3c3c7" stroke="none" stroke-width="1"/>
<rect x="92.8" y="113.3" width="10.74" height="1.65" fill="#f4cfd3" stroke="none" stroke-width="1"/>
<rect x="103.49" y="113.3" width="10.74" height="1.65" fill="#f7eef1" stroke="none" stroke-width="1"/>
<rect x="114.17" y="113.3" width="10.74" height="1.65" fill="#e7e5ef" stroke="none" stroke-width="1"/>
<rect x="124.86" y="113.3" width="10.74" height="1.65" fill="#efa4a9" stroke="none" stroke-width="1"/>
<rect x="135.54" y="113.3" width="10.74" height="1.65" fill="#f2bbc0" stroke="none" stroke-width="1"/>
<rect x="146.23" y="113.3" width="10.74" height="1.65" fill="#e7545c" stroke="none" stroke-width="1"/>
<rect x="156.91" y="113.3" width="10.74" height="1.65" fill="#e96b73" stroke="none" stroke-width="1"/>
<rect x="18" y="114.91" width="10.74" height="1.65" fill="#f4d4d7" stroke="none" stroke-width="1"/>
<rect x="28.69" y="114.91" width="10.74" height="1.65" fill="#f4d3d6" stroke="none" stroke-width="1"/>
<rect x="39.37" y="114.91" width="10.74" height="1.65" fill="#f7ecee" stroke="none" stroke-width="1"/>
<rect x="50.06" y="114.91" width="10.74" height="1.65" fill="#d7d6e8" stroke="none" stroke-width="1"/>
<rect x="60.74" y="114.91" width="10.74" height="1.65" fill="#c7c6e0" stroke="none" stroke-width="1"/>
<rect x="71.43" y="114.91" width="10.74" height="1.65" fill="#8e8ec4" stroke="none" stroke-width="1"/>
<rect x="82.11" y="114.91" width="10.74" height="1.65" fill="#f8f2f5" stroke="none" stroke-width="1"/>
<rect x="92.8" y="114.91" width="10.74" height="1.65" fill="#f0a7ac" stroke="none" stroke-width="1"/>
<rect x="103.49" y="114.91" width="10.74" height="1.65" fill="#f3c4c8" stroke="none" stroke-width="1"/>
<rect x="114.17" y="114.91" width="10.74" height="1.65" fill="#f7f1f3" stroke="none" stroke-width="1"/>
<rect x="124.86" y="114.91" width="10.74" height="1.65" fill="#ef9fa5" stroke="none" stroke-width="1"/>
<rect x="135.54" y="114.91" width="10.74" height="1.65" fill="#ed9298" stroke="none" stroke-width="1"/>
<rect x="146.23" y="114.91" width="10.74" height="1.65" fill="#e22832" stroke="none" stroke-width="1"/>
<rect x="156.91" y="114.91" width="10.74" height="1.65" fill="#eb7b82" stroke="none" stroke-width="1"/>
<rect x="18" y="116.51" width="10.74" height="1.65" fill="#f5f3f7" stroke="none" stroke-width="1"/>
<rect x="28.69" y="116.51" width="10.74" height="1.65" fill="#f0aaaf" stroke="none" stroke-width="1"/>
<rect x="39.37" y="116.51" width="10.74" height="1.65" fill="#b2b1d6" stroke="none" stroke-width="1"/>
<rect x="50.06" y="116.51" width="10.74" height="1.65" fill="#8585bf" stroke="none" stroke-width="1"/>
<rect x="60.74" y="116.51" width="10.74" height="1.65" fill="#cdcce3" stroke="none" stroke-width="1"/>
<rect x="71.43" y="116.51" width="10.74" height="1.65" fill="#b3b2d6" stroke="none" stroke-width="1"/>
<rect x="82.11" y="116.51" width="10.74" height="1.65" fill="#e3e1ed" stroke="none" stroke-width="1"/>
<rect x="92.8" y="116.51" width="10.74" height="1.65" fill="#f2bbc0" stroke="none" stroke-width="1"/>
<rect x="103.49" y="116.51" width="10.74" height="1.65" fill="#f6e8ea" stroke="none" stroke-width="1"/>
<rect x="114.17" y="116.51" width="10.74" height="1.65" fill="#f7ebed" stroke="none" stroke-width="1"/>
<rect x="124.86" y="116.51" width="10.74" height="1.65" fill="#ee999f" stroke="none" stroke-width="1"/>
<rect x="135.54" y="116.51" width="10.74" height="1.65" fill="#efa0a6" stroke="none" stroke-width="1"/>
<rect x="146.23" y="116.51" width="10.74" height="1.65" fill="#e43e47" stroke="none" stroke-width="1"/>
<rect x="156.91" y="116.51" width="10.74" height="1.65" fill="#ec878d" stroke="none" stroke-width="1"/>
<rect x="18" y="118.11" width="10.74" height="1.65" fill="#d9d7e9" stroke="none" stroke-width="1"/>
<rect x="28.69" y="118.11" width="10.74" height="1.65" fill="#f3cace" stroke="none" stroke-width="1"/>
<rect x="39.37" y="118.11" width="10.74" height="1.65" fill="#f7e9eb" stroke="none" stroke-width="1"/>
<rect x="50.06" y="118.11" width="10.74" height="1.65" fill="#8c8cc3" stroke="none" stroke-width="1"/>
<rect x="60.74" y="118.11" width="10.74" height="1.65" fill="#9292c6" stroke="none" stroke-width="1"/>
<rect x="71.43" y="118.11" width="10.74" height="1.65" fill="#9c9ccb" stroke="none" stroke-width="1"/>
<rect x="82.11" y="118.11" width="10.74" height="1.65" fill="#e6e4ef" stroke="none" stroke-width="1"/>
<rect x="92.8" y="118.11" width="10.74" height="1.65" fill="#f0a9ae" stroke="none" stroke-width="1"/>
<rect x="103.49" y="118.11" width="10.74" height="1.65" fill="#f3c7cb" stroke="none" stroke-width="1"/>
<rect x="114.17" y="118.11" width="10.74" height="1.65" fill="#f3c9cc" stroke="none" stroke-width="1"/>
<rect x="124.86" y="118.11" width="10.74" height="1.65" fill="#ec838a" stroke="none" stroke-width="1"/>
<rect x="135.54" y="118.11" width="10.74" height="1.65" fill="#f5dcdf" stroke="none" stroke-width="1"/>
<rect x="146.23" y="118.11" width="10.74" height="1.65" fill="#e3323b" stroke="none" stroke-width="1"/>
<rect x="156.91" y="118.11" width="10.74" height="1.65" fill="#ee9aa0" stroke="none" stroke-width="1"/>
<rect x="18" y="119.72" width="10.74" height="1.65" fill="#f8f6f8" stroke="none" stroke-width="1"/>
<rect x="28.69" y="119.72" width="10.74" height="1.65" fill="#f0adb2" stroke="none" stroke-width="1"/>
<rect x="39.37" y="119.72" width="10.74" height="1.65" fill="#f3c8cb" stroke="none" stroke-width="1"/>
<rect x="50.06" y="119.72" width="10.74" height="1.65" fill="#cecce3" stroke="none" stroke-width="1"/>
<rect x="60.74" y="119.72" width="10.74" height="1.65" fill="#8585bf" stroke="none" stroke-width="1"/>
<rect x="71.43" y="119.72" width="10.74" height="1.65" fill="#c4c3df" stroke="none" stroke-width="1"/>
<rect x="82.11" y="119.72" width="10.74" height="1.65" fill="#f5dde0" stroke="none" stroke-width="1"/>
<rect x="92.8" y="119.72" width="10.74" height="1.65" fill="#efa5aa" stroke="none" stroke-width="1"/>
<rect x="103.49" y="119.72" width="10.74" height="1.65" fill="#f1b1b6" stroke="none" stroke-width="1"/>
<rect x="114.17" y="119.72" width="10.74" height="1.65" fill="#f6e7ea" stroke="none" stroke-width="1"/>
<rect x="124.86" y="119.72" width="10.74" height="1.65" fill="#ee959b" stroke="none" stroke-width="1"/>
<rect x="135.54" y="119.72" width="10.74" height="1.65" fill="#ed8d93" stroke="none" stroke-width="1"/>
<rect x="146.23" y="119.72" width="10.74" height="1.65" fill="#e3343d" stroke="none" stroke-width="1"/>
<rect x="156.91" y="119.72" width="10.74" height="1.65" fill="#ea7178" stroke="none" stroke-width="1"/>
<rect x="18" y="121.32" width="10.74" height="1.65" fill="#f7f1f3" stroke="none" stroke-width="1"/>
<rect x="28.69" y="121.32" width="10.74" height="1.65" fill="#f2f0f5" stroke="none" stroke-width="1"/>
<rect x="39.37" y="121.32" width="10.74" height="1.65" fill="#cdcce3" stroke="none" stroke-width="1"/>
<rect x="50.06" y="121.32" width="10.74" height="1.65" fill="#8686c0" stroke="none" stroke-width="1"/>
<rect x="60.74" y="121.32" width="10.74" height="1.65" fill="#5f5fad" stroke="none" stroke-width="1"/>
<rect x="71.43" y="121.32" width="10.74" height="1.65" fill="#7777b9" stroke="none" stroke-width="1"/>
<rect x="82.11" y="121.32" width="10.74" height="1.65" fill="#b6b5d7" stroke="none" stroke-width="1"/>
<rect x="92.8" y="121.32" width="10.74" height="1.65" fill="#f3c9cd" stroke="none" stroke-width="1"/>
<rect x="103.49" y="121.32" width="10.74" height="1.65" fill="#e6e4ef" stroke="none" stroke-width="1"/>
<rect x="114.17" y="121.32" width="10.74" height="1.65" fill="#f5d7db" stroke="none" stroke-width="1"/>
<rect x="124.86" y="121.32" width="10.74" height="1.65" fill="#ee959b" stroke="none" stroke-width="1"/>
<rect x="135.54" y="121.32" width="10.74" height="1.65" fill="#f2c2c6" stroke="none" stroke-width="1"/>
<rect x="146.23" y="121.32" width="10.74" height="1.65" fill="#e65058" stroke="none" stroke-width="1"/>
<rect x="156.91" y="121.32" width="10.74" height="1.65" fill="#ee979d" stroke="none" stroke-width="1"/>
<rect x="18" y="122.92" width="10.74" height="1.65" fill="#f1b6ba" stroke="none" stroke-width="1"/>
<rect x="28.69" y="122.92" width="10.74" height="1.65" fill="#f1b7bc" stroke="none" stroke-width="1"/>
<rect x="39.37" y="122.92" width="10.74" height="1.65" fill="#f6f4f7" stroke="none" stroke-width="1"/>
<rect x="50.06" y="122.92" width="10.74" height="1.65" fill="#b2b2d6" stroke="none" stroke-width="1"/>
<rect x="60.74" y="122.92" width="10.74" height="1.65" fill="#8989c1" stroke="none" stroke-width="1"/>
<rect x="71.43" y="122.92" width="10.74" height="1.65" fill="#a0a0cd" stroke="none" stroke-width="1"/>
<rect x="82.11" y="122.92" width="10.74" height="1.65" fill="#f2bfc3" stroke="none" stroke-width="1"/>
<rect x="92.8" y="122.92" width="10.74" height="1.65" fill="#f1b1b6" stroke="none" stroke-width="1"/>
<rect x="103.49" y="122.92" width="10.74" height="1.65" fill="#f5d9dc" stroke="none" stroke-width="1"/>
<rect x="114.17" y="122.92" width="10.74" height="1.65" fill="#f1b6ba" stroke="none" stroke-width="1"/>
<rect x="124.86" y="122.92" width="10.74" height="1.65" fill="#ec898f" stroke="none" stroke-width="1"/>
<rect x="135.54" y="122.92" width="10.74" height="1.65" fill="#ee959b" stroke="none" stroke-width="1"/>
<rect x="146.23" y="122.92" width="10.74" height="1.65" fill="#e75961" stroke="none" stroke-width="1"/>
<rect x="156.91" y="122.92" width="10.74" height="1.65" fill="#ec878d" stroke="none" stroke-width="1"/>
<rect x="18" y="124.52" width="10.74" height="1.65" fill="#f4d4d7" stroke="none" stroke-width="1"/>
<rect x="28.69" y="124.52" width="10.74" height="1.65" fill="#e85f67" stroke="none" stroke-width="1"/>
<rect x="39.37" y="124.52" width="10.74" height="1.65" fill="#edebf2" stroke="none" stroke-width="1"/>
<rect x="50.06" y="124.52" width="10.74" height="1.65" fill="#adacd3" stroke="none" stroke-width="1"/>
<rect x="60.74" y="124.52" width="10.74" height="1.65" fill="#c7c6e0" stroke="none" stroke-width="1"/>
<rect x="71.43" y="124.52" width="10.74" height="1.65" fill="#a3a3ce" stroke="none" stroke-width="1"/>
<rect x="82.11" y="124.52" width="10.74" height="1.65" fill="#f5d7da" stroke="none" stroke-width="1"/>
<rect x="92.8" y="124.52" width="10.74" height="1.65" fill="#ed8b92" stroke="none" stroke-width="1"/>
<rect x="103.49" y="124.52" width="10.74" height="1.65" fill="#f0afb3" stroke="none" stroke-width="1"/>
<rect x="114.17" y="124.52" width="10.74" height="1.65" fill="#efa1a6" stroke="none" stroke-width="1"/>
<rect x="124.86" y="124.52" width="10.74" height="1.65" fill="#f3c7cb" stroke="none" stroke-width="1"/>
<rect x="135.54" y="124.52" width="10.74" height="1.65" fill="#f3cace" stroke="none" stroke-width="1"/>
<rect x="146.23" y="124.52" width="10.74" height="1.65" fill="#e75861" stroke="none" stroke-width="1"/>
<rect x="156.91" y="124.52" width="10.74" height="1.65" fill="#f0a9ae" stroke="none" stroke-width="1"/>
<rect x="18" y="126.13" width="10.74" height="1.65" fill="#f0afb3" stroke="none" stroke-width="1"/>
<rect x="28.69" y="126.13" width="10.74" height="1.65" fill="#f1b4b9" stroke="none" stroke-width="1"/>
<rect x="39.37" y="126.13" width="10.74" height="1.65" fill="#dad9e9" stroke="none" stroke-width="1"/>
<rect x="50.06" y="126.13" width="10.74" height="1.65" fill="#8080bd" stroke="none" stroke-width="1"/>
<rect x="60.74" y="126.13" width="10.74" height="1.65" fill="#6566b0" stroke="none" stroke-width="1"/>
<rect x="71.43" y="126.13" width="10.74" height="1.65" fill="#6263ae" stroke="none" stroke-width="1"/>
<rect x="82.11" y="126.13" width="10.74" height="1.65" fill="#dad8e9" stroke="none" stroke-width="1"/>
<rect x="92.8" y="126.13" width="10.74" height="1.65" fill="#f0adb2" stroke="none" stroke-width="1"/>
<rect x="103.49" y="126.13" width="10.74" height="1.65" fill="#f4ced2" stroke="none" stroke-width="1"/>
<rect x="114.17" y="126.13" width="10.74" height="1.65" fill="#efa5aa" stroke="none" stroke-width="1"/>
<rect x="124.86" y="126.13" width="10.74" height="1.65" fill="#f5dde0" stroke="none" stroke-width="1"/>
<rect x="135.54" y="126.13" width="10.74" height="1.65" fill="#f5dde0" stroke="none" stroke-width="1"/>
<rect x="146.23" y="126.13" width="10.74" height="1.65" fill="#eb7e84" stroke="none" stroke-width="1"/>
<rect x="156.91" y="126.13" width="10.74" height="1.65" fill="#f2bcc0" stroke="none" stroke-width="1"/>
<rect x="18" y="127.73" width="10.74" height="1.65" fill="#f0acb1" stroke="none" stroke-width="1"/>
<rect x="28.69" y="127.73" width="10.74" height="1.65" fill="#efa4a9" stroke="none" stroke-width="1"/>
<rect x="39.37" y="127.73" width="10.74" height="1.65" fill="#f2f1f5" stroke="none" stroke-width="1"/>
<rect x="50.06" y="127.73" width="10.74" height="1.65" fill="#a7a7d0" stroke="none" stroke-width="1"/>
<rect x="60.74" y="127.73" width="10.74" height="1.65" fill="#b7b6d8" stroke="none" stroke-width="1"/>
<rect x="71.43" y="127.73" width="10.74" height="1.65" fill="#5253a6" stroke="none" stroke-width="1"/>
<rect x="82.11" y="127.73" width="10.74" height="1.65" fill="#f8f3f5" stroke="none" stroke-width="1"/>
<rect x="92.8" y="127.73" width="10.74" height="1.65" fill="#ed9197" stroke="none" stroke-width="1"/>
<rect x="103.49" y="127.73" width="10.74" height="1.65" fill="#f7ebed" stroke="none" stroke-width="1"/>
<rect x="114.17" y="127.73" width="10.74" height="1.65" fill="#ee949a" stroke="none" stroke-width="1"/>
<rect x="124.86" y="127.73" width="10.74" height="1.65" fill="#ee989d" stroke="none" stroke-width="1"/>
<rect x="135.54" y="127.73" width="10.74" height="1.65" fill="#f2bdc1" stroke="none" stroke-width="1"/>
<rect x="146.23" y="127.73" width="10.74" height="1.65" fill="#ed8e94" stroke="none" stroke-width="1"/>
<rect x="156.91" y="127.73" width="10.74" height="1.65" fill="#ec878d" stroke="none" stroke-width="1"/>
<rect x="18" y="129.33" width="10.74" height="1.65" fill="#f0a9ae" stroke="none" stroke-width="1"/>
<rect x="28.69" y="129.33" width="10.74" height="1.65" fill="#ed9197" stroke="none" stroke-width="1"/>
<rect x="39.37" y="129.33" width="10.74" height="1.65" fill="#d8d7e8" stroke="none" stroke-width="1"/>
<rect x="50.06" y="129.33" width="10.74" height="1.65" fill="#6868b1" stroke="none" stroke-width="1"/>
<rect x="60.74" y="129.33" width="10.74" height="1.65" fill="#8989c1" stroke="none" stroke-width="1"/>
<rect x="71.43" y="129.33" width="10.74" height="1.65" fill="#7171b6" stroke="none" stroke-width="1"/>
<rect x="82.11" y="129.33" width="10.74" height="1.65" fill="#f4d3d6" stroke="none" stroke-width="1"/>
<rect x="92.8" y="129.33" width="10.74" height="1.65" fill="#f0aeb3" stroke="none" stroke-width="1"/>
<rect x="103.49" y="129.33" width="10.74" height="1.65" fill="#f0adb2" stroke="none" stroke-width="1"/>
<rect x="114.17" y="129.33" width="10.74" height="1.65" fill="#e85f67" stroke="none" stroke-width="1"/>
<rect x="124.86" y="129.33" width="10.74" height="1.65" fill="#f1b3b8" stroke="none" stroke-width="1"/>
<rect x="135.54" y="129.33" width="10.74" height="1.65" fill="#ed8f95" stroke="none" stroke-width="1"/>
<rect x="146.23" y="129.33" width="10.74" height="1.65" fill="#ec898f" stroke="none" stroke-width="1"/>
<rect x="156.91" y="129.33" width="10.74" height="1.65" fill="#eb787f" stroke="none" stroke-width="1"/>
<rect x="18" y="130.94" width="10.74" height="1.65" fill="#f1b5b9" stroke="none" stroke-width="1"/>
<rect x="28.69" y="130.94" width="10.74" height="1.65" fill="#ee999f" stroke="none" stroke-width="1"/>
<rect x="39.37" y="130.94" width="10.74" height="1.65" fill="#c5c4df" stroke="none" stroke-width="1"/>
<rect x="50.06" y="130.94" width="10.74" height="1.65" fill="#a4a4cf" stroke="none" stroke-width="1"/>
<rect x="60.74" y="130.94" width="10.74" height="1.65" fill="#e0dfec" stroke="none" stroke-width="1"/>
<rect x="71.43" y="130.94" width="10.74" height="1.65" fill="#7f7fbd" stroke="none" stroke-width="1"/>
<rect x="82.11" y="130.94" width="10.74" height="1.65" fill="#f8f2f4" stroke="none" stroke-width="1"/>
<rect x="92.8" y="130.94" width="10.74" height="1.65" fill="#f5dadd" stroke="none" stroke-width="1"/>
<rect x="103.49" y="130.94" width="10.74" height="1.65" fill="#f3c6ca" stroke="none" stroke-width="1"/>
<rect x="114.17" y="130.94" width="10.74" height="1.65" fill="#ea6f77" stroke="none" stroke-width="1"/>
<rect x="124.86" y="130.94" width="10.74" height="1.65" fill="#f1b3b8" stroke="none" stroke-width="1"/>
<rect x="135.54" y="130.94" width="10.74" height="1.65" fill="#efa4a9" stroke="none" stroke-width="1"/>
<rect x="146.23" y="130.94" width="10.74" height="1.65" fill="#ed9399" stroke="none" stroke-width="1"/>
<rect x="156.91" y="130.94" width="10.74" height="1.65" fill="#f1b1b6" stroke="none" stroke-width="1"/>
<rect x="18" y="132.54" width="10.74" height="1.65" fill="#f0a7ac" stroke="none" stroke-width="1"/>
<rect x="28.69" y="132.54" width="10.74" height="1.65" fill="#f7eef0" stroke="none" stroke-width="1"/>
<rect x="39.37" y="132.54" width="10.74" height="1.65" fill="#a1a1cd" stroke="none" stroke-width="1"/>
<rect x="50.06" y="132.54" width="10.74" height="1.65" fill="#4f50a5" stroke="none" stroke-width="1"/>
<rect x="60.74" y="132.54" width="10.74" height="1.65" fill="#8989c1" stroke="none" stroke-width="1"/>
<rect x="71.43" y="132.54" width="10.74" height="1.65" fill="#8081bd" stroke="none" stroke-width="1"/>
<rect x="82.11" y="132.54" width="10.74" height="1.65" fill="#f7f1f3" stroke="none" stroke-width="1"/>
<rect x="92.8" y="132.54" width="10.74" height="1.65" fill="#ef9ea4" stroke="none" stroke-width="1"/>
<rect x="103.49" y="132.54" width="10.74" height="1.65" fill="#f2b9be" stroke="none" stroke-width="1"/>
<rect x="114.17" y="132.54" width="10.74" height="1.65" fill="#e96c74" stroke="none" stroke-width="1"/>
<rect x="124.86" y="132.54" width="10.74" height="1.65" fill="#ef9ea4" stroke="none" stroke-width="1"/>
<rect x="135.54" y="132.54" width="10.74" height="1.65" fill="#f7eff2" stroke="none" stroke-width="1"/>
<rect x="146.23" y="132.54" width="10.74" height="1.65" fill="#f1b3b7" stroke="none" stroke-width="1"/>
<rect x="156.91" y="132.54" width="10.74" height="1.65" fill="#f5d8db" stroke="none" stroke-width="1"/>
<rect x="18" y="134.14" width="10.74" height="1.65" fill="#f6e4e7" stroke="none" stroke-width="1"/>
<rect x="28.69" y="134.14" width="10.74" height="1.65" fill="#e5e3ef" stroke="none" stroke-width="1"/>
<rect x="39.37" y="134.14" width="10.74" height="1.65" fill="#b7b6d8" stroke="none" stroke-width="1"/>
<rect x="50.06" y="134.14" width="10.74" height="1.65" fill="#6464af" stroke="none" stroke-width="1"/>
<rect x="60.74" y="134.14" width="10.74" height="1.65" fill="#7d7ebc" stroke="none" stroke-width="1"/>
<rect x="71.43" y="134.14" width="10.74" height="1.65" fill="#9595c7" stroke="none" stroke-width="1"/>
<rect x="82.11" y="134.14" width="10.74" height="1.65" fill="#f6e5e7" stroke="none" stroke-width="1"/>
<rect x="92.8" y="134.14" width="10.74" height="1.65" fill="#efa5aa" stroke="none" stroke-width="1"/>
<rect x="103.49" y="134.14" width="10.74" height="1.65" fill="#efa5ab" stroke="none" stroke-width="1"/>
<rect x="114.17" y="134.14" width="10.74" height="1.65" fill="#ec878e" stroke="none" stroke-width="1"/>
<rect x="124.86" y="134.14" width="10.74" height="1.65" fill="#f3c3c7" stroke="none" stroke-width="1"/>
<rect x="135.54" y="134.14" width="10.74" height="1.65" fill="#f6e4e7" stroke="none" stroke-width="1"/>
<rect x="146.23" y="134.14" width="10.74" height="1.65" fill="#efa6ab" stroke="none" stroke-width="1"/>
<rect x="156.91" y="134.14" width="10.74" height="1.65" fill="#e96c73" stroke="none" stroke-width="1"/>
<rect x="18" y="135.75" width="10.74" height="1.65" fill="#ed9197" stroke="none" stroke-width="1"/>
<rect x="28.69" y="135.75" width="10.74" height="1.65" fill="#c7c6e0" stroke="none" stroke-width="1"/>
<rect x="39.37" y="135.75" width="10.74" height="1.65" fill="#b9b8d9" stroke="none" stroke-width="1"/>
<rect x="50.06" y="135.75" width="10.74" height="1.65" fill="#6c6db3" stroke="none" stroke-width="1"/>
<rect x="60.74" y="135.75" width="10.74" height="1.65" fill="#a7a7d0" stroke="none" stroke-width="1"/>
<rect x="71.43" y="135.75" width="10.74" height="1.65" fill="#cdcce3" stroke="none" stroke-width="1"/>
<rect x="82.11" y="135.75" width="10.74" height="1.65" fill="#f3cbcf" stroke="none" stroke-width="1"/>
<rect x="92.8" y="135.75" width="10.74" height="1.65" fill="#ef9ea3" stroke="none" stroke-width="1"/>
<rect x="103.49" y="135.75" width="10.74" height="1.65" fill="#eb7d84" stroke="none" stroke-width="1"/>
<rect x="114.17" y="135.75" width="10.74" height="1.65" fill="#ed8e94" stroke="none" stroke-width="1"/>
<rect x="124.86" y="135.75" width="10.74" height="1.65" fill="#ec868c" stroke="none" stroke-width="1"/>
<rect x="135.54" y="135.75" width="10.74" height="1.65" fill="#f0a9ae" stroke="none" stroke-width="1"/>
<rect x="146.23" y="135.75" width="10.74" height="1.65" fill="#d3d2e6" stroke="none" stroke-width="1"/>
<rect x="156.91" y="135.75" width="10.74" height="1.65" fill="#efa5aa" stroke="none" stroke-width="1"/>
<rect x="18" y="137.35" width="10.74" height="1.65" fill="#efa5aa" stroke="none" stroke-width="1"/>
<rect x="28.69" y="137.35" width="10.74" height="1.65" fill="#f7e8eb" stroke="none" stroke-width="1"/>
<rect x="39.37" y="137.35" width="10.74" height="1.65" fill="#9594c7" stroke="none" stroke-width="1"/>
<rect x="50.06" y="137.35" width="10.74" height="1.65" fill="#6c6db3" stroke="none" stroke-width="1"/>
<rect x="60.74" y="137.35" width="10.74" height="1.65" fill="#8585c0" stroke="none" stroke-width="1"/>
<rect x="71.43" y="137.35" width="10.74" height="1.65" fill="#a5a5cf" stroke="none" stroke-width="1"/>
<rect x="82.11" y="137.35" width="10.74" height="1.65" fill="#f8f4f6" stroke="none" stroke-width="1"/>
<rect x="92.8" y="137.35" width="10.74" height="1.65" fill="#ec838a" stroke="none" stroke-width="1"/>
<rect x="103.49" y="137.35" width="10.74" height="1.65" fill="#ec8289" stroke="none" stroke-width="1"/>
<rect x="114.17" y="137.35" width="10.74" height="1.65" fill="#ec8389" stroke="none" stroke-width="1"/>
<rect x="124.86" y="137.35" width="10.74" height="1.65" fill="#f3c7cb" stroke="none" stroke-width="1"/>
<rect x="135.54" y="137.35" width="10.74" height="1.65" fill="#f8f2f4" stroke="none" stroke-width="1"/>
<rect x="146.23" y="137.35" width="10.74" height="1.65" fill="#e7e6f0" stroke="none" stroke-width="1"/>
<rect x="156.91" y="137.35" width="10.74" height="1.65" fill="#ee989e" stroke="none" stroke-width="1"/>
<rect x="18" y="138.95" width="10.74" height="1.65" fill="#f2bcc0" stroke="none" stroke-width="1"/>
<rect x="28.69" y="138.95" width="10.74" height="1.65" fill="#ebe9f2" stroke="none" stroke-width="1"/>
<rect x="39.37" y="138.95" width="10.74" height="1.65" fill="#c6c5e0" stroke="none" stroke-width="1"/>
<rect x="50.06" y="138.95" width="10.74" height="1.65" fill="#7171b6" stroke="none" stroke-width="1"/>
<rect x="60.74" y="138.95" width="10.74" height="1.65" fill="#9e9dcc" stroke="none" stroke-width="1"/>
<rect x="71.43" y="138.95" width="10.74" height="1.65" fill="#8080bd" stroke="none" stroke-width="1"/>
<rect x="82.11" y="138.95" width="10.74" height="1.65" fill="#f5d6d9" stroke="none" stroke-width="1"/>
<rect x="92.8" y="138.95" width="10.74" height="1.65" fill="#f3c5c9" stroke="none" stroke-width="1"/>
<rect x="103.49" y="138.95" width="10.74" height="1.65" fill="#ea6e76" stroke="none" stroke-width="1"/>
<rect x="114.17" y="138.95" width="10.74" height="1.65" fill="#ec838a" stroke="none" stroke-width="1"/>
<rect x="124.86" y="138.95" width="10.74" height="1.65" fill="#f6e6e9" stroke="none" stroke-width="1"/>
<rect x="135.54" y="138.95" width="10.74" height="1.65" fill="#f5dadd" stroke="none" stroke-width="1"/>
<rect x="146.23" y="138.95" width="10.74" height="1.65" fill="#d6d5e7" stroke="none" stroke-width="1"/>
<rect x="156.91" y="138.95" width="10.74" height="1.65" fill="#f1b9bd" stroke="none" stroke-width="1"/>
<rect x="18" y="140.55" width="10.74" height="1.65" fill="#f0abb0" stroke="none" stroke-width="1"/>
<rect x="28.69" y="140.55" width="10.74" height="1.65" fill="#a4a3cf" stroke="none" stroke-width="1"/>
<rect x="39.37" y="140.55" width="10.74" height="1.65" fill="#cecce3" stroke="none" stroke-width="1"/>
<rect x="50.06" y="140.55" width="10.74" height="1.65" fill="#8787c0" stroke="none" stroke-width="1"/>
<rect x="60.74" y="140.55" width="10.74" height="1.65" fill="#d0cee4" stroke="none" stroke-width="1"/>
<rect x="71.43" y="140.55" width="10.74" height="1.65" fill="#6b6bb3" stroke="none" stroke-width="1"/>
<rect x="82.11" y="140.55" width="10.74" height="1.65" fill="#f7f0f2" stroke="none" stroke-width="1"/>
<rect x="92.8" y="140.55" width="10.74" height="1.65" fill="#f4d4d7" stroke="none" stroke-width="1"/>
<rect x="103.49" y="140.55" width="10.74" height="1.65" fill="#efa5aa" stroke="none" stroke-width="1"/>
<rect x="114.17" y="140.55" width="10.74" height="1.65" fill="#eb7a81" stroke="none" stroke-width="1"/>
<rect x="124.86" y="140.55" width="10.74" height="1.65" fill="#f8f6f8" stroke="none" stroke-width="1"/>
<rect x="135.54" y="140.55" width="10.74" height="1.65" fill="#f7ecef" stroke="none" stroke-width="1"/>
<rect x="146.23" y="140.55" width="10.74" height="1.65" fill="#f1eff5" stroke="none" stroke-width="1"/>
<rect x="156.91" y="140.55" width="10.74" height="1.65" fill="#f3c8cb" stroke="none" stroke-width="1"/>
<rect x="18" y="142.16" width="10.74" height="1.65" fill="#f6e4e6" stroke="none" stroke-width="1"/>
<rect x="28.69" y="142.16" width="10.74" height="1.65" fill="#f0eff4" stroke="none" stroke-width="1"/>
<rect x="39.37" y="142.16" width="10.74" height="1.65" fill="#8e8ec4" stroke="none" stroke-width="1"/>
<rect x="50.06" y="142.16" width="10.74" height="1.65" fill="#8f8ec4" stroke="none" stroke-width="1"/>
<rect x="60.74" y="142.16" width="10.74" height="1.65" fill="#aeaed4" stroke="none" stroke-width="1"/>
<rect x="71.43" y="142.16" width="10.74" height="1.65" fill="#9d9ccb" stroke="none" stroke-width="1"/>
<rect x="82.11" y="142.16" width="10.74" height="1.65" fill="#e7e6f0" stroke="none" stroke-width="1"/>
<rect x="92.8" y="142.16" width="10.74" height="1.65" fill="#f2bcc0" stroke="none" stroke-width="1"/>
<rect x="103.49" y="142.16" width="10.74" height="1.65" fill="#ea767d" stroke="none" stroke-width="1"/>
<rect x="114.17" y="142.16" width="10.74" height="1.65" fill="#e85f67" stroke="none" stroke-width="1"/>
<rect x="124.86" y="142.16" width="10.74" height="1.65" fill="#ee9da2" stroke="none" stroke-width="1"/>
<rect x="135.54" y="142.16" width="10.74" height="1.65" fill="#f5dde0" stroke="none" stroke-width="1"/>
<rect x="146.23" y="142.16" width="10.74" height="1.65" fill="#cbcae2" stroke="none" stroke-width="1"/>
<rect x="156.91" y="142.16" width="10.74" height="1.65" fill="#f0afb4" stroke="none" stroke-width="1"/>
<rect x="18" y="143.76" width="10.74" height="1.65" fill="#f2bcc0" stroke="none" stroke-width="1"/>
<rect x="28.69" y="143.76" width="10.74" height="1.65" fill="#e6e5ef" stroke="none" stroke-width="1"/>
<rect x="39.37" y="143.76" width="10.74" height="1.65" fill="#c8c7e0" stroke="none" stroke-width="1"/>
<rect x="50.06" y="143.76" width="10.74" height="1.65" fill="#6667b1" stroke="none" stroke-width="1"/>
<rect x="60.74" y="143.76" width="10.74" height="1.65" fill="#aeadd3" stroke="none" stroke-width="1"/>
<rect x="71.43" y="143.76" width="10.74" height="1.65" fill="#7070b5" stroke="none" stroke-width="1"/>
<rect x="82.11" y="143.76" width="10.74" height="1.65" fill="#f6e6e8" stroke="none" stroke-width="1"/>
<rect x="92.8" y="143.76" width="10.74" height="1.65" fill="#f5dde0" stroke="none" stroke-width="1"/>
<rect x="103.49" y="143.76" width="10.74" height="1.65" fill="#ed8b91" stroke="none" stroke-width="1"/>
<rect x="114.17" y="143.76" width="10.74" height="1.65" fill="#ea7078" stroke="none" stroke-width="1"/>
<rect x="124.86" y="143.76" width="10.74" height="1.65" fill="#f6e7e9" stroke="none" stroke-width="1"/>
<rect x="135.54" y="143.76" width="10.74" height="1.65" fill="#f5d7da" stroke="none" stroke-width="1"/>
<rect x="146.23" y="143.76" width="10.74" height="1.65" fill="#e3e1ee" stroke="none" stroke-width="1"/>
<rect x="156.91" y="143.76" width="10.74" height="1.65" fill="#f3cbce" stroke="none" stroke-width="1"/>
<rect x="18" y="145.36" width="10.74" height="1.65" fill="#ec898f" stroke="none" stroke-width="1"/>
<rect x="28.69" y="145.36" width="10.74" height="1.65" fill="#f8f6f8" stroke="none" stroke-width="1"/>
<rect x="39.37" y="145.36" width="10.74" height="1.65" fill="#f7f0f3" stroke="none" stroke-width="1"/>
<rect x="50.06" y="145.36" width="10.74" height="1.65" fill="#43449f" stroke="none" stroke-width="1"/>
<rect x="60.74" y="145.36" width="10.74" height="1.65" fill="#a7a6d0" stroke="none" stroke-width="1"/>
<rect x="71.43" y="145.36" width="10.74" height="1.65" fill="#7172b6" stroke="none" stroke-width="1"/>
<rect x="82.11" y="145.36" width="10.74" height="1.65" fill="#f4d5d8" stroke="none" stroke-width="1"/>
<rect x="92.8" y="145.36" width="10.74" height="1.65" fill="#ed9399" stroke="none" stroke-width="1"/>
<rect x="103.49" y="145.36" width="10.74" height="1.65" fill="#ea787e" stroke="none" stroke-width="1"/>
<rect x="114.17" y="145.36" width="10.74" height="1.65" fill="#ec8389" stroke="none" stroke-width="1"/>
<rect x="124.86" y="145.36" width="10.74" height="1.65" fill="#a5a5cf" stroke="none" stroke-width="1"/>
<rect x="135.54" y="145.36" width="10.74" height="1.65" fill="#b2b1d6" stroke="none" stroke-width="1"/>
<rect x="146.23" y="145.36" width="10.74" height="1.65" fill="#d0cee4" stroke="none" stroke-width="1"/>
<rect x="156.91" y="145.36" width="10.74" height="1.65" fill="#b9b8d9" stroke="none" stroke-width="1"/>
<rect x="18" y="146.97" width="10.74" height="1.65" fill="#ee9aa0" stroke="none" stroke-width="1"/>
<rect x="28.69" y="146.97" width="10.74" height="1.65" fill="#f8f6f8" stroke="none" stroke-width="1"/>
<rect x="39.37" y="146.97" width="10.74" height="1.65" fill="#f4d1d5" stroke="none" stroke-width="1"/>
<rect x="50.06" y="146.97" width="10.74" height="1.65" fill="#6b6cb3" stroke="none" stroke-width="1"/>
<rect x="60.74" y="146.97" width="10.74" height="1.65" fill="#afaed4" stroke="none" stroke-width="1"/>
<rect x="71.43" y="146.97" width="10.74" height="1.65" fill="#4849a1" stroke="none" stroke-width="1"/>
<rect x="82.11" y="146.97" width="10.74" height="1.65" fill="#f3c9cd" stroke="none" stroke-width="1"/>
<rect x="92.8" y="146.97" width="10.74" height="1.65" fill="#ed8f95" stroke="none" stroke-width="1"/>
<rect x="103.49" y="146.97" width="10.74" height="1.65" fill="#e43c45" stroke="none" stroke-width="1"/>
<rect x="114.17" y="146.97" width="10.74" height="1.65" fill="#ea7077" stroke="none" stroke-width="1"/>
<rect x="124.86" y="146.97" width="10.74" height="1.65" fill="#8a8ac2" stroke="none" stroke-width="1"/>
<rect x="135.54" y="146.97" width="10.74" height="1.65" fill="#9f9fcc" stroke="none" stroke-width="1"/>
<rect x="146.23" y="146.97" width="10.74" height="1.65" fill="#c6c5e0" stroke="none" stroke-width="1"/>
<rect x="156.91" y="146.97" width="10.74" height="1.65" fill="#e6e4ef" stroke="none" stroke-width="1"/>
<rect x="18" y="148.57" width="10.74" height="1.65" fill="#f2c0c4" stroke="none" stroke-width="1"/>
<rect x="28.69" y="148.57" width="10.74" height="1.65" fill="#f8f6f8" stroke="none" stroke-width="1"/>
<rect x="39.37" y="148.57" width="10.74" height="1.65" fill="#f6dfe2" stroke="none" stroke-width="1"/>
<rect x="50.06" y="148.57" width="10.74" height="1.65" fill="#7d7ebc" stroke="none" stroke-width="1"/>
<rect x="60.74" y="148.57" width="10.74" height="1.65" fill="#eae8f1" stroke="none" stroke-width="1"/>
<rect x="71.43" y="148.57" width="10.74" height="1.65" fill="#8787c0" stroke="none" stroke-width="1"/>
<rect x="82.11" y="148.57" width="10.74" height="1.65" fill="#f3c7cb" stroke="none" stroke-width="1"/>
<rect x="92.8" y="148.57" width="10.74" height="1.65" fill="#ee9da2" stroke="none" stroke-width="1"/>
<rect x="103.49" y="148.57" width="10.74" height="1.65" fill="#e75961" stroke="none" stroke-width="1"/>
<rect x="114.17" y="148.57" width="10.74" height="1.65" fill="#ed8f95" stroke="none" stroke-width="1"/>
<rect x="124.86" y="148.57" width="10.74" height="1.65" fill="#c2c1de" stroke="none" stroke-width="1"/>
<rect x="135.54" y="148.57" width="10.74" height="1.65" fill="#e2e0ed" stroke="none" stroke-width="1"/>
<rect x="146.23" y="148.57" width="10.74" height="1.65" fill="#cecce3" stroke="none" stroke-width="1"/>
<rect x="156.91" y="148.57" width="10.74" height="1.65" fill="#9d9dcb" stroke="none" stroke-width="1"/>
<rect x="18" y="150.17" width="10.74" height="1.65" fill="#f2c0c5" stroke="none" stroke-width="1"/>
<rect x="28.69" y="150.17" width="10.74" height="1.65" fill="#cecde3" stroke="none" stroke-width="1"/>
<rect x="39.37" y="150.17" width="10.74" height="1.65" fill="#c1c0dd" stroke="none" stroke-width="1"/>
<rect x="50.06" y="150.17" width="10.74" height="1.65" fill="#5758a9" stroke="none" stroke-width="1"/>
<rect x="60.74" y="150.17" width="10.74" height="1.65" fill="#b8b7d8" stroke="none" stroke-width="1"/>
<rect x="71.43" y="150.17" width="10.74" height="1.65" fill="#8c8cc3" stroke="none" stroke-width="1"/>
<rect x="82.11" y="150.17" width="10.74" height="1.65" fill="#f0a8ad" stroke="none" stroke-width="1"/>
<rect x="92.8" y="150.17" width="10.74" height="1.65" fill="#ef9ea4" stroke="none" stroke-width="1"/>
<rect x="103.49" y="150.17" width="10.74" height="1.65" fill="#e7535b" stroke="none" stroke-width="1"/>
<rect x="114.17" y="150.17" width="10.74" height="1.65" fill="#ec838a" stroke="none" stroke-width="1"/>
<rect x="124.86" y="150.17" width="10.74" height="1.65" fill="#a7a6d0" stroke="none" stroke-width="1"/>
<rect x="135.54" y="150.17" width="10.74" height="1.65" fill="#7f7fbc" stroke="none" stroke-width="1"/>
<rect x="146.23" y="150.17" width="10.74" height="1.65" fill="#9b9aca" stroke="none" stroke-width="1"/>
<rect x="156.91" y="150.17" width="10.74" height="1.65" fill="#7c7dbb" stroke="none" stroke-width="1"/>
<rect x="18" y="151.78" width="10.74" height="1.65" fill="#ed9298" stroke="none" stroke-width="1"/>
<rect x="28.69" y="151.78" width="10.74" height="1.65" fill="#e4e3ee" stroke="none" stroke-width="1"/>
<rect x="39.37" y="151.78" width="10.74" height="1.65" fill="#c9c7e1" stroke="none" stroke-width="1"/>
<rect x="50.06" y="151.78" width="10.74" height="1.65" fill="#4d4fa4" stroke="none" stroke-width="1"/>
<rect x="60.74" y="151.78" width="10.74" height="1.65" fill="#a3a3ce" stroke="none" stroke-width="1"/>
<rect x="71.43" y="151.78" width="10.74" height="1.65" fill="#8e8ec4" stroke="none" stroke-width="1"/>
<rect x="82.11" y="151.78" width="10.74" height="1.65" fill="#f1b1b6" stroke="none" stroke-width="1"/>
<rect x="92.8" y="151.78" width="10.74" height="1.65" fill="#ea787e" stroke="none" stroke-width="1"/>
<rect x="103.49" y="151.78" width="10.74" height="1.65" fill="#ec8a90" stroke="none" stroke-width="1"/>
<rect x="114.17" y="151.78" width="10.74" height="1.65" fill="#e8636b" stroke="none" stroke-width="1"/>
<rect x="124.86" y="151.78" width="10.74" height="1.65" fill="#8888c1" stroke="none" stroke-width="1"/>
<rect x="135.54" y="151.78" width="10.74" height="1.65" fill="#d7d5e8" stroke="none" stroke-width="1"/>
<rect x="146.23" y="151.78" width="10.74" height="1.65" fill="#c5c4df" stroke="none" stroke-width="1"/>
<rect x="156.91" y="151.78" width="10.74" height="1.65" fill="#6162ae" stroke="none" stroke-width="1"/>
<rect x="18" y="153.38" width="10.74" height="1.65" fill="#f0a9ae" stroke="none" stroke-width="1"/>
<rect x="28.69" y="153.38" width="10.74" height="1.65" fill="#c6c5df" stroke="none" stroke-width="1"/>
<rect x="39.37" y="153.38" width="10.74" height="1.65" fill="#e1dfed" stroke="none" stroke-width="1"/>
<rect x="50.06" y="153.38" width="10.74" height="1.65" fill="#6162ae" stroke="none" stroke-width="1"/>
<rect x="60.74" y="153.38" width="10.74" height="1.65" fill="#a9a8d1" stroke="none" stroke-width="1"/>
<rect x="71.43" y="153.38" width="10.74" height="1.65" fill="#8787c1" stroke="none" stroke-width="1"/>
<rect x="82.11" y="153.38" width="10.74" height="1.65" fill="#f4ced2" stroke="none" stroke-width="1"/>
<rect x="92.8" y="153.38" width="10.74" height="1.65" fill="#f0a9ae" stroke="none" stroke-width="1"/>
<rect x="103.49" y="153.38" width="10.74" height="1.65" fill="#ec888e" stroke="none" stroke-width="1"/>
<rect x="114.17" y="153.38" width="10.74" height="1.65" fill="#ec898f" stroke="none" stroke-width="1"/>
<rect x="124.86" y="153.38" width="10.74" height="1.65" fill="#efedf4" stroke="none" stroke-width="1"/>
<rect x="135.54" y="153.38" width="10.74" height="1.65" fill="#c6c5e0" stroke="none" stroke-width="1"/>
<rect x="146.23" y="153.38" width="10.74" height="1.65" fill="#9c9ccb" stroke="none" stroke-width="1"/>
<rect x="156.91" y="153.38" width="10.74" height="1.65" fill="#b6b5d8" stroke="none" stroke-width="1"/>
<rect x="18" y="154.98" width="10.74" height="1.65" fill="#ee9da2" stroke="none" stroke-width="1"/>
<rect x="28.69" y="154.98" width="10.74" height="1.65" fill="#d0cfe5" stroke="none" stroke-width="1"/>
<rect x="39.37" y="154.98" width="10.74" height="1.65" fill="#b9b8d9" stroke="none" stroke-width="1"/>
<rect x="50.06" y="154.98" width="10.74" height="1.65" fill="#6d6db4" stroke="none" stroke-width="1"/>
<rect x="60.74" y="154.98" width="10.74" height="1.65" fill="#c6c5e0" stroke="none" stroke-width="1"/>
<rect x="71.43" y="154.98" width="10.74" height="1.65" fill="#595aaa" stroke="none" stroke-width="1"/>
<rect x="82.11" y="154.98" width="10.74" height="1.65" fill="#efa1a6" stroke="none" stroke-width="1"/>
<rect x="92.8" y="154.98" width="10.74" height="1.65" fill="#ef9ea3" stroke="none" stroke-width="1"/>
<rect x="103.49" y="154.98" width="10.74" height="1.65" fill="#ee989e" stroke="none" stroke-width="1"/>
<rect x="114.17" y="154.98" width="10.74" height="1.65" fill="#eb7f85" stroke="none" stroke-width="1"/>
<rect x="124.86" y="154.98" width="10.74" height="1.65" fill="#f2c1c5" stroke="none" stroke-width="1"/>
<rect x="135.54" y="154.98" width="10.74" height="1.65" fill="#f1b8bc" stroke="none" stroke-width="1"/>
<rect x="146.23" y="154.98" width="10.74" height="1.65" fill="#7879b9" stroke="none" stroke-width="1"/>
<rect x="156.91" y="154.98" width="10.74" height="1.65" fill="#b0b0d5" stroke="none" stroke-width="1"/>
<rect x="18" y="156.58" width="10.74" height="1.65" fill="#ee9ba0" stroke="none" stroke-width="1"/>
<rect x="28.69" y="156.58" width="10.74" height="1.65" fill="#eeecf3" stroke="none" stroke-width="1"/>
<rect x="39.37" y="156.58" width="10.74" height="1.65" fill="#bab9d9" stroke="none" stroke-width="1"/>
<rect x="50.06" y="156.58" width="10.74" height="1.65" fill="#7f7fbd" stroke="none" stroke-width="1"/>
<rect x="60.74" y="156.58" width="10.74" height="1.65" fill="#e0dfec" stroke="none" stroke-width="1"/>
<rect x="71.43" y="156.58" width="10.74" height="1.65" fill="#797aba" stroke="none" stroke-width="1"/>
<rect x="82.11" y="156.58" width="10.74" height="1.65" fill="#eb7f86" stroke="none" stroke-width="1"/>
<rect x="92.8" y="156.58" width="10.74" height="1.65" fill="#f0afb4" stroke="none" stroke-width="1"/>
<rect x="103.49" y="156.58" width="10.74" height="1.65" fill="#ee9ba1" stroke="none" stroke-width="1"/>
<rect x="114.17" y="156.58" width="10.74" height="1.65" fill="#eb7a80" stroke="none" stroke-width="1"/>
<rect x="124.86" y="156.58" width="10.74" height="1.65" fill="#f3c5c9" stroke="none" stroke-width="1"/>
<rect x="135.54" y="156.58" width="10.74" height="1.65" fill="#f2c0c4" stroke="none" stroke-width="1"/>
<rect x="146.23" y="156.58" width="10.74" height="1.65" fill="#8686c0" stroke="none" stroke-width="1"/>
<rect x="156.91" y="156.58" width="10.74" height="1.65" fill="#afaed4" stroke="none" stroke-width="1"/>
<rect x="18" y="158.19" width="10.74" height="1.65" fill="#f0afb4" stroke="none" stroke-width="1"/>
<rect x="28.69" y="158.19" width="10.74" height="1.65" fill="#f6e7e9" stroke="none" stroke-width="1"/>
<rect x="39.37" y="158.19" width="10.74" height="1.65" fill="#a6a6d0" stroke="none" stroke-width="1"/>
<rect x="50.06" y="158.19" width="10.74" height="1.65" fill="#323397" stroke="none" stroke-width="1"/>
<rect x="60.74" y="158.19" width="10.74" height="1.65" fill="#c6c5df" stroke="none" stroke-width="1"/>
<rect x="71.43" y="158.19" width="10.74" height="1.65" fill="#8989c2" stroke="none" stroke-width="1"/>
<rect x="82.11" y="158.19" width="10.74" height="1.65" fill="#f1b4b9" stroke="none" stroke-width="1"/>
<rect x="92.8" y="158.19" width="10.74" height="1.65" fill="#ee969c" stroke="none" stroke-width="1"/>
<rect x="103.49" y="158.19" width="10.74" height="1.65" fill="#ea777e" stroke="none" stroke-width="1"/>
<rect x="114.17" y="158.19" width="10.74" height="1.65" fill="#f1b0b5" stroke="none" stroke-width="1"/>
<rect x="124.86" y="158.19" width="10.74" height="1.65" fill="#f5dcdf" stroke="none" stroke-width="1"/>
<rect x="135.54" y="158.19" width="10.74" height="1.65" fill="#f8f5f7" stroke="none" stroke-width="1"/>
<rect x="146.23" y="158.19" width="10.74" height="1.65" fill="#bebddc" stroke="none" stroke-width="1"/>
<rect x="156.91" y="158.19" width="10.74" height="1.65" fill="#a1a1ce" stroke="none" stroke-width="1"/>
<rect x="18" y="159.79" width="10.74" height="1.65" fill="#f3c8cc" stroke="none" stroke-width="1"/>
<rect x="28.69" y="159.79" width="10.74" height="1.65" fill="#c6c5e0" stroke="none" stroke-width="1"/>
<rect x="39.37" y="159.79" width="10.74" height="1.65" fill="#e4e2ee" stroke="none" stroke-width="1"/>
<rect x="50.06" y="159.79" width="10.74" height="1.65" fill="#494aa2" stroke="none" stroke-width="1"/>
<rect x="60.74" y="159.79" width="10.74" height="1.65" fill="#b6b5d8" stroke="none" stroke-width="1"/>
<rect x="71.43" y="159.79" width="10.74" height="1.65" fill="#9999c9" stroke="none" stroke-width="1"/>
<rect x="82.11" y="159.79" width="10.74" height="1.65" fill="#ed8d93" stroke="none" stroke-width="1"/>
<rect x="92.8" y="159.79" width="10.74" height="1.65" fill="#f0a9ae" stroke="none" stroke-width="1"/>
<rect x="103.49" y="159.79" width="10.74" height="1.65" fill="#ea787e" stroke="none" stroke-width="1"/>
<rect x="114.17" y="159.79" width="10.74" height="1.65" fill="#f3c3c7" stroke="none" stroke-width="1"/>
<rect x="124.86" y="159.79" width="10.74" height="1.65" fill="#f3c5c9" stroke="none" stroke-width="1"/>
<rect x="135.54" y="159.79" width="10.74" height="1.65" fill="#f1b4b9" stroke="none" stroke-width="1"/>
<rect x="146.23" y="159.79" width="10.74" height="1.65" fill="#cdcbe3" stroke="none" stroke-width="1"/>
<rect x="156.91" y="159.79" width="10.74" height="1.65" fill="#d0cfe5" stroke="none" stroke-width="1"/>
<rect x="18" y="161.39" width="10.74" height="1.65" fill="#ed9298" stroke="none" stroke-width="1"/>
<rect x="28.69" y="161.39" width="10.74" height="1.65" fill="#f6f4f7" stroke="none" stroke-width="1"/>
<rect x="39.37" y="161.39" width="10.74" height="1.65" fill="#cac9e2" stroke="none" stroke-width="1"/>
<rect x="50.06" y="161.39" width="10.74" height="1.65" fill="#5f60ad" stroke="none" stroke-width="1"/>
<rect x="60.74" y="161.39" width="10.74" height="1.65" fill="#dad9e9" stroke="none" stroke-width="1"/>
<rect x="71.43" y="161.39" width="10.74" height="1.65" fill="#8f8fc5" stroke="none" stroke-width="1"/>
<rect x="82.11" y="161.39" width="10.74" height="1.65" fill="#ec8990" stroke="none" stroke-width="1"/>
<rect x="92.8" y="161.39" width="10.74" height="1.65" fill="#ed9096" stroke="none" stroke-width="1"/>
<rect x="103.49" y="161.39" width="10.74" height="1.65" fill="#ec868c" stroke="none" stroke-width="1"/>
<rect x="114.17" y="161.39" width="10.74" height="1.65" fill="#eb7d84" stroke="none" stroke-width="1"/>
<rect x="124.86" y="161.39" width="10.74" height="1.65" fill="#f0eef4" stroke="none" stroke-width="1"/>
<rect x="135.54" y="161.39" width="10.74" height="1.65" fill="#f6e1e4" stroke="none" stroke-width="1"/>
<rect x="146.23" y="161.39" width="10.74" height="1.65" fill="#9898c9" stroke="none" stroke-width="1"/>
<rect x="156.91" y="161.39" width="10.74" height="1.65" fill="#e3e1ed" stroke="none" stroke-width="1"/>
<rect x="18" y="163" width="10.74" height="1.65" fill="#ee969c" stroke="none" stroke-width="1"/>
<rect x="28.69" y="163" width="10.74" height="1.65" fill="#afaed4" stroke="none" stroke-width="1"/>
<rect x="39.37" y="163" width="10.74" height="1.65" fill="#afafd4" stroke="none" stroke-width="1"/>
<rect x="50.06" y="163" width="10.74" height="1.65" fill="#7474b7" stroke="none" stroke-width="1"/>
<rect x="60.74" y="163" width="10.74" height="1.65" fill="#d7d6e8" stroke="none" stroke-width="1"/>
<rect x="71.43" y="163" width="10.74" height="1.65" fill="#9797c8" stroke="none" stroke-width="1"/>
<rect x="82.11" y="163" width="10.74" height="1.65" fill="#f3c7cb" stroke="none" stroke-width="1"/>
<rect x="92.8" y="163" width="10.74" height="1.65" fill="#ee979c" stroke="none" stroke-width="1"/>
<rect x="103.49" y="163" width="10.74" height="1.65" fill="#f4d2d6" stroke="none" stroke-width="1"/>
<rect x="114.17" y="163" width="10.74" height="1.65" fill="#ed9399" stroke="none" stroke-width="1"/>
<rect x="124.86" y="163" width="10.74" height="1.65" fill="#f2f0f5" stroke="none" stroke-width="1"/>
<rect x="135.54" y="163" width="10.74" height="1.65" fill="#f4cdd0" stroke="none" stroke-width="1"/>
<rect x="146.23" y="163" width="10.74" height="1.65" fill="#8a8ac2" stroke="none" stroke-width="1"/>
<rect x="156.91" y="163" width="10.74" height="1.65" fill="#bfbedc" stroke="none" stroke-width="1"/>
<rect x="18" y="4.3" width="149.6" height="160.3" fill="none" stroke="#333" stroke-width="1"/>
<line x1="39.07" y1="4.3" x2="39.07" y2="164.6" stroke="#2a2a2a" stroke-width="1.1" stroke-dasharray="7.5 8.6" stroke-dashoffset="3.9"/>
<line x1="60.44" y1="4.3" x2="60.44" y2="164.6" stroke="#2a2a2a" stroke-width="1.1" stroke-dasharray="7.5 8.6" stroke-dashoffset="3.9"/>
<line x1="81.81" y1="4.3" x2="81.81" y2="164.6" stroke="#2a2a2a" stroke-width="1.1" stroke-dasharray="7.5 8.6" stroke-dashoffset="3.9"/>
<line x1="103.19" y1="4.3" x2="103.19" y2="164.6" stroke="#2a2a2a" stroke-width="1.1" stroke-dasharray="7.5 8.6" stroke-dashoffset="3.9"/>
<line x1="124.56" y1="4.3" x2="124.56" y2="164.6" stroke="#2a2a2a" stroke-width="1.1" stroke-dasharray="7.5 8.6" stroke-dashoffset="3.9"/>
<line x1="145.93" y1="4.3" x2="145.93" y2="164.6" stroke="#2a2a2a" stroke-width="1.1" stroke-dasharray="7.5 8.6" stroke-dashoffset="3.9"/>
<defs><linearGradient id="cb" x1="0" y1="0" x2="0" y2="1"><stop offset="0" stop-color="#e41e26"/><stop offset="0.18" stop-color="#ea5a60"/><stop offset="0.36" stop-color="#f4bcc0"/><stop offset="0.5" stop-color="#f8f8fa"/><stop offset="0.64" stop-color="#bcbcdc"/><stop offset="0.84" stop-color="#5458a8"/><stop offset="1" stop-color="#1c237e"/></linearGradient></defs>
<rect x="169.2" y="4.6" width="3.7" height="60.1" fill="url(#cb)" stroke="none" stroke-width="1"/>
<text x="174.3" y="10.2" font-size="8" text-anchor="start" fill="#1a1a1a">-3</text>
<text x="174.8" y="38.6" font-size="8" text-anchor="start" fill="#1a1a1a">0</text>
<text x="175" y="67" font-size="8" text-anchor="start" fill="#1a1a1a">3</text>
<text x="32.19" y="172.8" font-size="8.4" text-anchor="end" fill="#1a1a1a" transform="rotate(-45 32.19 172.8)">vehicle</text>
<text x="53.56" y="172.8" font-size="8.4" text-anchor="end" fill="#1a1a1a" transform="rotate(-45 53.56 172.8)">NSP14</text>
<text x="74.93" y="172.8" font-size="8.4" text-anchor="end" fill="#1a1a1a" transform="rotate(-45 74.93 172.8)">DMSO</text>
<text x="96.3" y="172.8" font-size="8.4" text-anchor="end" fill="#1a1a1a" transform="rotate(-45 96.3 172.8)">20µM C7</text>
<text x="117.67" y="172.8" font-size="8.4" text-anchor="end" fill="#1a1a1a" transform="rotate(-45 117.67 172.8)">10µM C7</text>
<text x="139.04" y="172.8" font-size="8.4" text-anchor="end" fill="#1a1a1a" transform="rotate(-45 139.04 172.8)">20µM C10</text>
<text x="160.41" y="172.8" font-size="8.4" text-anchor="end" fill="#1a1a1a" transform="rotate(-45 160.41 172.8)">10µM C10</text>
<line x1="60.9" y1="201.4" x2="167" y2="201.4" stroke="#555" stroke-width="1.2"/>
<text x="109" y="210.9" font-size="9.5" text-anchor="middle" fill="#1a1a1a">NSP14</text>
<text x="201.3" y="13.9" font-size="17" text-anchor="start" fill="#111" font-weight="bold" style="stroke:#111">b</text>
<text x="291.5" y="28" font-size="8" text-anchor="middle" fill="#1a1a1a">NSP14 vs vehicle</text>
<path d="M285.3 98.5 L285.6 100.7 L285.9 102.8 L286.2 104.8 L286.5 106.7 L286.8 108.6 L287.1 110.4 L287.5 112.1 L287.8 113.8 L288.1 115.3 L288.4 116.8 L288.7 118.2 L289.0 119.5 L289.3 120.7 L289.6 121.8 L289.9 122.8 L290.3 123.7 L290.6 124.5 L290.9 125.1 L291.2 125.6 L291.5 125.8 L291.8 125.6 L292.1 125.1 L292.4 124.5 L292.7 123.7 L293.1 122.8 L293.4 121.8 L293.7 120.7 L294.0 119.5 L294.3 118.2 L294.6 116.8 L294.9 115.3 L295.2 113.8 L295.5 112.1 L295.9 110.4 L296.2 108.6 L296.5 106.7 L296.8 104.8 L297.1 102.8 L297.4 100.7 L297.7 98.5 L297.73 126.07 L285.27 126.07Z" fill="#c9c9c9"/>
<path d="M263.49 125.44 Q279.05 123.44 285.27 123.44 L297.73 123.44 Q310.18 123.44 338.19 125.35 L338.19 126.16 L263.49 126.16Z" fill="#cfcfcf"/>
<path d="M283.7 119.1h0M279.0 122.3h0M283.4 118.7h0M284.6 119.5h0M282.7 114.8h0M284.9 122.6h0M284.9 112.2h0M282.3 124.2h0M277.0 118.9h0M282.6 118.7h0M284.7 124.3h0M283.3 124.2h0M284.6 123.2h0M285.0 120.2h0M283.7 112.5h0M283.4 117.7h0M283.4 117.2h0M283.6 123.0h0M277.0 118.5h0M280.8 118.3h0M284.2 123.3h0M284.3 124.2h0M281.6 122.1h0M280.7 122.5h0M277.6 119.4h0M285.1 123.4h0M279.4 122.1h0M277.0 123.3h0M284.9 116.9h0M281.5 123.3h0M284.9 122.2h0M277.2 120.7h0M284.8 123.1h0M284.8 124.2h0M281.3 123.9h0M283.2 121.1h0M284.6 114.6h0M284.8 116.7h0M284.8 121.0h0M284.5 123.0h0M277.0 120.5h0M284.2 110.6h0M284.5 121.5h0M280.5 119.5h0M284.8 106.3h0M284.5 123.1h0M281.6 122.8h0M284.3 124.2h0M284.9 118.0h0M284.4 117.8h0M284.0 120.8h0M277.5 122.7h0M283.1 112.6h0M284.6 123.8h0M279.4 117.8h0M284.4 123.6h0M281.9 112.2h0M284.6 108.0h0M280.0 120.4h0M283.8 124.1h0M285.0 107.0h0M284.4 115.4h0M284.4 112.3h0M282.9 122.9h0M284.6 114.9h0M284.9 123.3h0M283.1 112.9h0M282.8 123.1h0M279.2 123.9h0M285.0 122.9h0M283.7 124.2h0M284.6 121.8h0M283.1 124.0h0M284.0 110.7h0M277.0 121.8h0M282.3 119.4h0M284.7 124.2h0M285.0 108.7h0M282.2 111.1h0M285.0 116.7h0M283.5 115.6h0M284.2 106.9h0M284.9 118.7h0M281.9 113.1h0M281.9 117.5h0M281.4 113.5h0M284.1 116.2h0M279.6 116.7h0M283.8 113.8h0M280.4 120.6h0M282.8 122.1h0M283.0 118.5h0M284.9 116.7h0M277.0 119.8h0M282.0 122.2h0M281.9 119.6h0M283.7 112.6h0M284.9 113.9h0M285.0 117.5h0M283.5 123.4h0M282.3 120.7h0M282.8 111.4h0M284.4 124.3h0M284.2 116.2h0M284.6 123.7h0M279.5 120.0h0M283.7 111.1h0M284.2 116.6h0M284.6 120.9h0M281.2 113.8h0M280.1 122.7h0M283.0 122.7h0M284.7 119.8h0M280.8 115.7h0M282.2 111.6h0M284.2 121.7h0M283.5 120.7h0M284.4 119.2h0M282.5 118.1h0M284.0 109.8h0M284.8 122.8h0M279.8 122.8h0M281.9 116.9h0M284.0 111.7h0M284.9 122.0h0M283.5 122.9h0M280.6 121.1h0M284.6 122.7h0M282.5 118.8h0M282.5 115.3h0M280.9 99.9h0M282.1 121.5h0M283.4 121.6h0M284.9 118.4h0M281.8 121.6h0M284.2 120.0h0M282.0 117.7h0M282.6 112.8h0M283.7 111.7h0M279.1 122.4h0M278.2 113.8h0M284.6 118.7h0M282.5 105.6h0M283.8 117.0h0M279.7 111.5h0M277.8 118.5h0M282.3 121.4h0M281.8 110.7h0M282.4 113.9h0M284.4 106.3h0M283.0 111.7h0M284.0 105.6h0M280.1 120.0h0M282.8 87.2h0M284.3 89.9h0M284.7 92.6h0M285.0 95.8h0M283.4 98.5h0M284.0 99.4h0M278.4 98.5h0M281.9 100.8h0M277.5 109.9h0M276.9 114.4h0M278.4 113.1h0M279.1 108.5h0M283.1 104.0h0M280.3 111.3h0M284.7 102.2h0M283.7 107.6h0M277.2 118.5h0M277.8 121.3h0M279.1 123.1h0" stroke="#14309c" stroke-width="2.2" stroke-linecap="round" fill="none"/>
<path d="M300.9 118.4h0M303.0 124.0h0M298.0 122.2h0M299.4 114.5h0M303.4 120.0h0M301.7 118.6h0M298.6 121.5h0M298.7 111.5h0M298.2 113.7h0M298.3 117.0h0M299.8 122.0h0M306.5 124.3h0M298.2 111.0h0M301.2 124.2h0M318.2 121.8h0M298.5 121.7h0M298.6 122.9h0M302.4 124.0h0M303.5 124.2h0M298.8 114.1h0M300.3 121.9h0M302.1 121.5h0M300.2 124.2h0M304.0 113.1h0M315.4 122.6h0M300.0 122.5h0M303.4 118.8h0M298.5 123.5h0M300.0 120.6h0M305.7 121.7h0M298.0 113.5h0M300.5 120.6h0M299.1 121.7h0M300.2 115.8h0M298.4 119.7h0M298.8 117.0h0M298.1 123.2h0M299.9 118.5h0M298.2 121.1h0M299.0 123.2h0M300.9 111.3h0M301.0 111.4h0M298.8 111.0h0M300.0 123.8h0M304.4 114.6h0M297.9 123.2h0M304.8 123.1h0M299.2 124.3h0M298.1 118.4h0M317.2 121.5h0M301.2 124.2h0M299.7 115.2h0M306.2 120.2h0M299.1 120.2h0M300.9 119.0h0M299.3 110.7h0M308.4 124.1h0M299.5 112.9h0M299.4 110.8h0M301.3 117.8h0M303.6 123.8h0M299.5 123.4h0M303.3 118.5h0M298.6 112.0h0M300.5 123.5h0M300.6 110.5h0M301.7 119.2h0M309.7 116.9h0M304.6 122.4h0M302.1 113.5h0M305.2 120.7h0M299.9 122.4h0M304.1 120.7h0M298.0 116.4h0M308.8 118.9h0M308.5 117.0h0M301.5 115.9h0M300.1 124.1h0M299.9 123.0h0M310.6 120.9h0M301.6 119.2h0M298.5 120.0h0M303.5 122.5h0M299.2 121.9h0M299.7 117.5h0M298.6 124.2h0M299.7 117.2h0M304.6 119.4h0M310.7 123.4h0M298.1 120.7h0M300.6 123.9h0M303.1 122.9h0M299.2 122.8h0M311.4 124.3h0M300.0 123.2h0M299.0 121.6h0M299.1 111.3h0M301.2 117.7h0M298.7 121.1h0M302.3 115.1h0M299.3 121.3h0M306.9 117.5h0M299.1 120.1h0M304.6 122.6h0M303.1 118.9h0M314.7 123.0h0M303.2 122.9h0M304.1 123.1h0M301.1 122.6h0M299.6 124.0h0M299.1 120.0h0M299.3 124.2h0M305.5 123.5h0M310.8 121.8h0M300.2 113.3h0M308.5 123.4h0M298.5 118.0h0M306.5 120.7h0M305.1 122.5h0M302.4 123.5h0M300.4 122.4h0M300.2 122.1h0M305.6 124.0h0M299.0 123.4h0M314.4 123.1h0M298.2 113.3h0M307.6 118.0h0M300.0 116.5h0M299.6 124.0h0M307.3 117.7h0M299.0 112.4h0M298.0 122.9h0M298.0 123.9h0M298.7 116.5h0M299.6 123.8h0M298.9 122.9h0M307.2 120.8h0M298.4 117.1h0M301.5 121.7h0M301.4 118.7h0M305.4 121.6h0M302.6 121.6h0M302.6 122.5h0M300.4 120.6h0M303.8 123.4h0M310.0 122.5h0M306.9 119.7h0M312.5 121.6h0M300.5 122.1h0M302.3 117.0h0M306.4 124.1h0M298.2 124.1h0M298.3 124.2h0M298.0 123.4h0M298.5 117.1h0M302.4 112.1h0M313.0 121.2h0M311.9 124.3h0M299.1 111.2h0M300.9 123.7h0M304.5 122.3h0M301.6 123.0h0M299.2 124.2h0M302.3 112.4h0M318.1 122.7h0M310.6 123.4h0M299.6 111.5h0M302.2 118.6h0M298.0 123.5h0M301.0 117.0h0M306.1 118.4h0M299.8 122.3h0M307.2 114.7h0M301.0 123.8h0M302.5 120.7h0M300.0 123.6h0M300.2 119.0h0M298.5 119.9h0M312.1 120.9h0M299.3 121.8h0M298.4 115.9h0M302.6 123.9h0M301.6 119.7h0M301.9 122.5h0M299.6 122.5h0M319.1 124.0h0M301.2 121.5h0M298.8 122.0h0M299.0 122.8h0M300.0 122.6h0M310.9 123.7h0M299.8 118.1h0M300.3 120.6h0M302.8 124.2h0M303.1 124.2h0M299.3 114.4h0M319.1 123.1h0M298.8 121.5h0M299.5 113.7h0M299.2 123.8h0M302.7 119.2h0M302.1 121.4h0M312.8 123.1h0M310.8 123.3h0M300.8 122.6h0M303.8 117.6h0M299.2 120.3h0M304.0 121.4h0M303.0 119.7h0M303.8 122.9h0M299.6 124.2h0M308.2 118.8h0M300.2 110.6h0M308.8 124.1h0M306.4 122.6h0M299.7 123.4h0M300.4 124.2h0M298.2 124.1h0M299.6 123.9h0M298.5 113.5h0M300.1 121.0h0M302.2 112.8h0M298.6 123.5h0M307.1 116.2h0M310.4 122.3h0M300.0 123.8h0M309.2 119.5h0M301.7 115.9h0M299.3 120.2h0M309.0 124.2h0M302.4 123.9h0M306.4 117.1h0M302.7 122.0h0M298.0 120.6h0M300.0 122.1h0M298.3 110.8h0M301.4 120.1h0M306.5 116.2h0M301.6 120.5h0M306.7 123.0h0M308.7 124.3h0M305.3 121.4h0M302.5 111.5h0M299.1 121.9h0M305.4 118.3h0M301.4 116.1h0M303.2 114.9h0M302.8 122.7h0M299.5 124.2h0M298.5 124.2h0M315.3 124.2h0M302.2 124.1h0M313.7 122.9h0M298.8 113.8h0M307.1 114.9h0M299.1 122.0h0M303.0 123.4h0M301.8 117.9h0M304.4 116.5h0M304.4 123.4h0M304.5 122.2h0M298.8 124.3h0M302.5 122.7h0M298.4 120.7h0M300.4 122.9h0M301.8 120.6h0M301.4 110.9h0M308.9 123.6h0M307.5 123.4h0M310.8 124.2h0M299.7 111.3h0M303.0 118.1h0M299.0 124.1h0M312.9 124.2h0M298.8 121.6h0M305.9 119.5h0M319.1 122.6h0M300.6 112.4h0M299.7 124.2h0M312.9 119.8h0M303.0 121.5h0M299.0 123.6h0M298.2 124.1h0M301.0 113.1h0M310.5 122.4h0M303.1 121.7h0M304.9 118.8h0M317.5 122.3h0M303.2 120.1h0M298.8 121.0h0M300.7 124.0h0M299.0 121.9h0M298.8 118.5h0M299.8 109.7h0M303.3 121.1h0M300.6 122.2h0M299.0 109.9h0M309.3 120.9h0M302.8 124.0h0M301.6 123.9h0M299.7 119.4h0M298.8 123.5h0M304.0 121.6h0M308.2 124.1h0M298.3 110.3h0M302.3 118.2h0M301.7 124.0h0M315.7 123.4h0M309.1 124.1h0M299.4 119.9h0M299.2 113.1h0M299.3 124.2h0M298.7 123.2h0M311.7 119.3h0M303.1 122.1h0M298.1 113.3h0M298.5 123.7h0M300.6 113.7h0M298.9 124.2h0M309.0 124.3h0M304.1 124.1h0M299.6 123.7h0M300.6 112.2h0M306.5 121.5h0M298.3 123.8h0M299.5 115.0h0M309.5 124.3h0M299.8 110.6h0M298.7 124.2h0M299.4 112.4h0M299.3 116.6h0M298.5 117.7h0M298.8 119.0h0M304.2 115.3h0M300.6 110.4h0M300.3 111.2h0M309.4 116.1h0M298.4 123.2h0M303.5 114.7h0M299.3 115.5h0M300.9 124.3h0M298.3 124.3h0M299.1 111.0h0M303.2 115.1h0M309.5 123.1h0M303.5 119.2h0M303.4 124.2h0M308.2 124.1h0M300.7 117.7h0M304.3 116.4h0M299.7 123.1h0M304.0 124.2h0M307.6 123.4h0M300.2 123.0h0M303.7 123.9h0M298.6 124.2h0M298.6 118.4h0M319.0 124.3h0M300.8 122.6h0M299.6 122.7h0M298.4 121.6h0M299.4 124.2h0M298.6 110.8h0M303.8 112.6h0M305.8 118.6h0M299.1 124.1h0M317.3 123.0h0M303.9 124.1h0M305.2 121.3h0M298.3 123.7h0M313.9 122.4h0M298.4 124.2h0M304.4 122.9h0M300.9 124.0h0M298.8 120.7h0M300.5 123.8h0M298.7 121.4h0M298.5 124.2h0M300.9 124.2h0M304.1 117.4h0M306.4 102.5h0M299.3 119.3h0M301.7 122.6h0M311.5 122.8h0M326.0 115.4h0M326.7 122.7h0M313.4 100.5h0M308.3 117.2h0M305.2 118.6h0M311.2 117.2h0M303.5 119.5h0M304.8 117.1h0M317.3 113.0h0M300.8 114.4h0M299.9 118.6h0M303.1 114.2h0M298.6 122.0h0M299.4 116.5h0M299.3 117.5h0M312.7 119.3h0M299.8 116.9h0M301.7 119.2h0M299.4 115.2h0M302.7 115.3h0M298.2 105.2h0M298.8 102.8h0M308.7 121.1h0M306.6 117.4h0M302.2 116.4h0M302.2 115.8h0M306.2 123.0h0M305.0 114.8h0M311.8 117.8h0M303.4 122.0h0M299.5 107.7h0M298.5 107.3h0M298.9 119.8h0M304.7 122.9h0M302.1 112.2h0M301.4 121.8h0M298.5 102.9h0M298.8 115.5h0M305.0 120.8h0M303.6 115.2h0M299.6 121.2h0M315.7 121.5h0M302.6 118.9h0M308.3 109.8h0M307.9 116.4h0M303.4 122.4h0M303.9 119.2h0M307.7 119.9h0M298.9 119.8h0M310.2 118.4h0M305.6 122.7h0M299.8 121.0h0M302.6 122.2h0M318.0 120.3h0M298.0 121.2h0M302.8 116.6h0M309.6 122.5h0M322.2 109.9h0M303.0 116.0h0M300.5 122.0h0M298.1 100.9h0M313.2 119.0h0M304.3 118.7h0M306.0 122.4h0M307.6 121.8h0M304.2 116.4h0M310.9 116.6h0M299.4 111.6h0M301.2 117.4h0M298.8 118.9h0M300.6 110.3h0M301.5 106.6h0M308.8 119.4h0M307.9 115.3h0M298.9 120.7h0M299.0 110.9h0M301.5 120.6h0M299.1 115.1h0M299.8 112.4h0M307.4 113.1h0M304.0 122.2h0M311.1 122.3h0M304.0 101.3h0M300.2 118.6h0M305.8 116.0h0M300.7 119.4h0M313.5 114.5h0M299.3 115.3h0M311.1 116.8h0M313.4 121.0h0M300.4 109.4h0M300.1 122.1h0M299.1 108.5h0M309.9 121.6h0M307.3 121.6h0M304.7 123.0h0M303.9 113.6h0M302.9 116.3h0M298.9 118.9h0M308.5 119.9h0M307.4 116.8h0M309.3 113.9h0M300.5 111.4h0M309.7 119.3h0M306.7 119.4h0M303.9 120.4h0M302.3 120.6h0M313.4 116.6h0M304.5 118.0h0M302.3 121.8h0M305.2 119.0h0M300.9 118.2h0M299.0 115.9h0M308.5 120.0h0M299.2 99.6h0M304.7 120.5h0M298.7 117.3h0M299.7 107.5h0M306.7 120.9h0M301.6 122.5h0M299.8 117.5h0M312.7 119.3h0M320.5 121.1h0M298.8 110.6h0M301.3 120.8h0M302.1 116.6h0M299.7 122.3h0M304.3 115.8h0M303.7 121.9h0M311.5 119.2h0M303.4 108.3h0M299.0 118.4h0M321.3 122.7h0M317.0 124.0h0M317.0 123.0h0M318.6 121.5h0M331.0 122.4h0M320.9 122.0h0M324.5 122.1h0M332.8 124.2h0M328.6 121.6h0M320.9 123.7h0M312.7 121.6h0M316.5 124.3h0M314.0 123.2h0M326.9 121.6h0M326.5 124.2h0M332.3 121.8h0M329.6 121.6h0M330.2 122.5h0M328.8 124.3h0M333.6 124.3h0M321.3 123.0h0M323.2 123.7h0M323.1 123.8h0M326.5 124.3h0M319.6 122.7h0M322.0 124.3h0M322.0 121.5h0M323.4 122.4h0M320.4 121.3h0M323.5 122.0h0M325.7 122.0h0M320.6 121.5h0M333.6 121.6h0M331.8 123.6h0M319.4 121.7h0M330.0 122.9h0M324.2 124.3h0M324.2 124.3h0M323.5 124.0h0M325.3 124.1h0M303.9 54.4h0M313.9 56.3h0M300.2 73.1h0M299.0 82.6h0M300.8 86.7h0M298.3 84.9h0M302.7 92.6h0M300.2 93.1h0M305.2 93.1h0M313.9 92.2h0M307.1 96.7h0M301.5 98.5h0M305.2 100.3h0M310.2 106.7h0M313.3 107.2h0M317.6 107.6h0M308.3 102.2h0M299.6 95.8h0M336.3 119.2h0M330.7 122.2h0M327.6 121.7h0M321.4 115.8h0M318.3 113.1h0M315.8 111.3h0M299.0 103.1h0M300.8 105.8h0M309.6 91.3h0M306.4 91.3h0" stroke="#9b1a0f" stroke-width="2.2" stroke-linecap="round" fill="none"/>
<path d="M285.27 34.7V135.3M297.73 34.7V135.3" stroke="#333" stroke-width="0.9" stroke-dasharray="0.9 2.2" fill="none"/>
<path d="M241.5 123.62H342.8" stroke="#444" stroke-width="0.8" stroke-dasharray="2.2 2.4" fill="none"/>
<line x1="314.21" y1="55.06" x2="316.01" y2="51.46" stroke="#222" stroke-width="0.8"/>
<line x1="299.47" y1="81.62" x2="301.77" y2="77.12" stroke="#222" stroke-width="0.8"/>
<text x="302.6" y="49.8" font-size="6.6" text-anchor="start" fill="#b1302a" font-style="italic" style="stroke:#b1302a">AURKAP1</text>
<text x="303.8" y="77.6" font-size="6.6" text-anchor="start" fill="#b1302a" font-style="italic" style="stroke:#b1302a">ZC3H4</text>
<circle cx="245.8" cy="44.1" r="1.2" fill="#14309c"/>
<text x="250.9" y="47" font-size="8" text-anchor="start" fill="#1a1a1a">Down</text>
<circle cx="245.8" cy="52.8" r="1.2" fill="#9b1a0f"/>
<text x="250.9" y="55.7" font-size="8" text-anchor="start" fill="#1a1a1a">Up</text>
<circle cx="245.8" cy="62.8" r="1" fill="#d8d8d8"/>
<text x="250.9" y="65.6" font-size="8" text-anchor="start" fill="#1a1a1a">None</text>
<rect x="241.5" y="34.7" width="101.3" height="100.6" fill="none" stroke="#333" stroke-width="1"/>
<line x1="237.3" y1="125.8" x2="241.5" y2="125.8" stroke="#333" stroke-width="1"/>
<line x1="342.8" y1="125.8" x2="347.5" y2="125.8" stroke="#333" stroke-width="1"/>
<text x="236.3" y="128.7" font-size="8" text-anchor="end" fill="#1a1a1a">0</text>
<text x="348.8" y="128.7" font-size="8" text-anchor="start" fill="#1a1a1a">0</text>
<line x1="237.3" y1="107.62" x2="241.5" y2="107.62" stroke="#333" stroke-width="1"/>
<line x1="342.8" y1="107.62" x2="347.5" y2="107.62" stroke="#333" stroke-width="1"/>
<text x="236.3" y="110.52" font-size="8" text-anchor="end" fill="#1a1a1a">20</text>
<text x="348.8" y="110.52" font-size="8" text-anchor="start" fill="#1a1a1a">20</text>
<line x1="237.3" y1="89.44" x2="241.5" y2="89.44" stroke="#333" stroke-width="1"/>
<line x1="342.8" y1="89.44" x2="347.5" y2="89.44" stroke="#333" stroke-width="1"/>
<text x="236.3" y="92.34" font-size="8" text-anchor="end" fill="#1a1a1a">40</text>
<text x="348.8" y="92.34" font-size="8" text-anchor="start" fill="#1a1a1a">40</text>
<line x1="237.3" y1="71.26" x2="241.5" y2="71.26" stroke="#333" stroke-width="1"/>
<line x1="342.8" y1="71.26" x2="347.5" y2="71.26" stroke="#333" stroke-width="1"/>
<text x="236.3" y="74.16" font-size="8" text-anchor="end" fill="#1a1a1a">60</text>
<text x="348.8" y="74.16" font-size="8" text-anchor="start" fill="#1a1a1a">60</text>
<line x1="237.3" y1="53.08" x2="241.5" y2="53.08" stroke="#333" stroke-width="1"/>
<line x1="342.8" y1="53.08" x2="347.5" y2="53.08" stroke="#333" stroke-width="1"/>
<text x="236.3" y="55.98" font-size="8" text-anchor="end" fill="#1a1a1a">80</text>
<text x="348.8" y="55.98" font-size="8" text-anchor="start" fill="#1a1a1a">80</text>
<line x1="237.3" y1="34.9" x2="241.5" y2="34.9" stroke="#333" stroke-width="1"/>
<line x1="342.8" y1="34.9" x2="347.5" y2="34.9" stroke="#333" stroke-width="1"/>
<text x="236.3" y="37.8" font-size="8" text-anchor="end" fill="#1a1a1a">100</text>
<text x="348.8" y="37.8" font-size="8" text-anchor="start" fill="#1a1a1a">100</text>
<line x1="241.7" y1="135.3" x2="241.7" y2="139.1" stroke="#333" stroke-width="1"/>
<text x="241.7" y="148.1" font-size="8" text-anchor="middle" fill="#1a1a1a">-8</text>
<line x1="254.15" y1="135.3" x2="254.15" y2="139.1" stroke="#333" stroke-width="1"/>
<text x="254.15" y="148.1" font-size="8" text-anchor="middle" fill="#1a1a1a">-6</text>
<line x1="266.6" y1="135.3" x2="266.6" y2="139.1" stroke="#333" stroke-width="1"/>
<text x="266.6" y="148.1" font-size="8" text-anchor="middle" fill="#1a1a1a">-4</text>
<line x1="279.05" y1="135.3" x2="279.05" y2="139.1" stroke="#333" stroke-width="1"/>
<text x="279.05" y="148.1" font-size="8" text-anchor="middle" fill="#1a1a1a">-2</text>
<line x1="291.5" y1="135.3" x2="291.5" y2="139.1" stroke="#333" stroke-width="1"/>
<text x="291.5" y="148.1" font-size="8" text-anchor="middle" fill="#1a1a1a">0</text>
<line x1="303.95" y1="135.3" x2="303.95" y2="139.1" stroke="#333" stroke-width="1"/>
<text x="303.95" y="148.1" font-size="8" text-anchor="middle" fill="#1a1a1a">2</text>
<line x1="316.4" y1="135.3" x2="316.4" y2="139.1" stroke="#333" stroke-width="1"/>
<text x="316.4" y="148.1" font-size="8" text-anchor="middle" fill="#1a1a1a">4</text>
<line x1="328.85" y1="135.3" x2="328.85" y2="139.1" stroke="#333" stroke-width="1"/>
<text x="328.85" y="148.1" font-size="8" text-anchor="middle" fill="#1a1a1a">6</text>
<line x1="341.3" y1="135.3" x2="341.3" y2="139.1" stroke="#333" stroke-width="1"/>
<text x="341.3" y="148.1" font-size="8" text-anchor="middle" fill="#1a1a1a">8</text>
<line x1="285.27" y1="135.3" x2="285.27" y2="139.1" stroke="#333" stroke-width="1"/>
<line x1="297.73" y1="135.3" x2="297.73" y2="139.1" stroke="#333" stroke-width="1"/>
<text x="291.5" y="161.8" font-size="8" text-anchor="middle" fill="#1a1a1a">Log2FoldChange</text>
<text x="212.5" y="81" font-size="8" text-anchor="middle" fill="#1a1a1a" transform="rotate(-90 212.5 81) translate(0 2.8)">-Lg(<tspan font-style="italic">P</tspan>.adj)</text>
<line x1="239.3" y1="123.62" x2="241.5" y2="123.62" stroke="#555" stroke-width="0.8"/>
<text x="362.5" y="12.2" font-size="17" text-anchor="start" fill="#111" font-weight="bold" style="stroke:#111">c</text>
<text x="425" y="20.4" font-size="8" text-anchor="middle" fill="#1a1a1a">NSP14+</text>
<text x="424.9" y="31" font-size="8" text-anchor="middle" fill="#1a1a1a">DMSO</text>
<text x="448.3" y="27.8" font-size="8" text-anchor="start" fill="#1a1a1a">vs NSP14</text>
<path d="M446.19 34.6V136.0M456.81 34.6V136.0" stroke="#333" stroke-width="0.9" stroke-dasharray="0.9 2.2" fill="none"/>
<path d="M399.0 105.58H504.2" stroke="#333" stroke-width="0.9" stroke-dasharray="0.9 2.2" fill="none"/>
<path d="M445.9 117.7h0M446.7 122.3h0M446.2 125.9h0M446.5 127.4h0M447.0 129.4h0M446.7 130.9h0M446.2 132.5h0M447.3 133.5h0M446.5 134.5h0" stroke="#444" stroke-width="1.9" stroke-linecap="round" fill="none"/>
<path d="M424.95 136H480.17" stroke="#555" stroke-width="2.2" fill="none"/>
<path d="M413.8 135.7h0M418.6 135.7h0M422.3 135.7h0" stroke="#666" stroke-width="1.5" stroke-linecap="round" fill="none"/>
<path d="M460.3 56.9h0" stroke="#a4160c" stroke-width="3.4" stroke-linecap="round" fill="none"/>
<path d="M446.2 74.7h0M440.3 79.2h0M439.6 94.9h0" stroke="#1530a8" stroke-width="3.4" stroke-linecap="round" fill="none"/>
<circle cx="403.5" cy="41.6" r="1.5" fill="#a4160c"/>
<text x="410.2" y="44.4" font-size="8" text-anchor="start" fill="#1a1a1a">Up</text>
<circle cx="403.5" cy="53.1" r="1.5" fill="#1530a8"/>
<text x="410.2" y="55.9" font-size="8" text-anchor="start" fill="#1a1a1a">Down</text>
<path d="M402.3 64.4h2.4M403.5 63.2v2.4" stroke="#777" stroke-width="0.7"/>
<text x="410.2" y="67.2" font-size="8" text-anchor="start" fill="#1a1a1a">None</text>
<rect x="399" y="34.6" width="105.2" height="101.4" fill="none" stroke="#333" stroke-width="1"/>
<line x1="393.8" y1="136" x2="399" y2="136" stroke="#333" stroke-width="1"/>
<line x1="504.2" y1="136" x2="509.4" y2="136" stroke="#333" stroke-width="1"/>
<text x="392.7" y="138.9" font-size="8" text-anchor="end" fill="#1a1a1a">0</text>
<text x="510.5" y="138.9" font-size="8" text-anchor="start" fill="#1a1a1a">0</text>
<line x1="393.8" y1="115.72" x2="399" y2="115.72" stroke="#333" stroke-width="1"/>
<line x1="504.2" y1="115.72" x2="509.4" y2="115.72" stroke="#333" stroke-width="1"/>
<text x="392.7" y="118.62" font-size="8" text-anchor="end" fill="#1a1a1a">2</text>
<text x="510.5" y="118.62" font-size="8" text-anchor="start" fill="#1a1a1a">2</text>
<line x1="393.8" y1="95.44" x2="399" y2="95.44" stroke="#333" stroke-width="1"/>
<line x1="504.2" y1="95.44" x2="509.4" y2="95.44" stroke="#333" stroke-width="1"/>
<text x="392.7" y="98.34" font-size="8" text-anchor="end" fill="#1a1a1a">4</text>
<text x="510.5" y="98.34" font-size="8" text-anchor="start" fill="#1a1a1a">4</text>
<line x1="393.8" y1="75.16" x2="399" y2="75.16" stroke="#333" stroke-width="1"/>
<line x1="504.2" y1="75.16" x2="509.4" y2="75.16" stroke="#333" stroke-width="1"/>
<text x="392.7" y="78.06" font-size="8" text-anchor="end" fill="#1a1a1a">6</text>
<text x="510.5" y="78.06" font-size="8" text-anchor="start" fill="#1a1a1a">6</text>
<line x1="393.8" y1="54.88" x2="399" y2="54.88" stroke="#333" stroke-width="1"/>
<line x1="504.2" y1="54.88" x2="509.4" y2="54.88" stroke="#333" stroke-width="1"/>
<text x="392.7" y="57.78" font-size="8" text-anchor="end" fill="#1a1a1a">8</text>
<text x="510.5" y="57.78" font-size="8" text-anchor="start" fill="#1a1a1a">8</text>
<line x1="393.8" y1="34.6" x2="399" y2="34.6" stroke="#333" stroke-width="1"/>
<line x1="504.2" y1="34.6" x2="509.4" y2="34.6" stroke="#333" stroke-width="1"/>
<text x="392.7" y="37.5" font-size="8" text-anchor="end" fill="#1a1a1a">10</text>
<text x="510.5" y="37.5" font-size="8" text-anchor="start" fill="#1a1a1a">10</text>
<line x1="446.19" y1="136" x2="446.19" y2="140" stroke="#333" stroke-width="1"/>
<line x1="456.81" y1="136" x2="456.81" y2="140" stroke="#333" stroke-width="1"/>
<line x1="398.4" y1="136" x2="398.4" y2="140" stroke="#333" stroke-width="1"/>
<text x="398.4" y="149.8" font-size="8" text-anchor="middle" fill="#1a1a1a">-10</text>
<line x1="424.95" y1="136" x2="424.95" y2="140" stroke="#333" stroke-width="1"/>
<text x="424.95" y="149.8" font-size="8" text-anchor="middle" fill="#1a1a1a">-5</text>
<line x1="451.5" y1="136" x2="451.5" y2="140" stroke="#333" stroke-width="1"/>
<text x="451.5" y="149.8" font-size="8" text-anchor="middle" fill="#1a1a1a">0</text>
<line x1="478.05" y1="136" x2="478.05" y2="140" stroke="#333" stroke-width="1"/>
<text x="478.05" y="149.8" font-size="8" text-anchor="middle" fill="#1a1a1a">5</text>
<line x1="504.6" y1="136" x2="504.6" y2="140" stroke="#333" stroke-width="1"/>
<text x="504.6" y="149.8" font-size="8" text-anchor="middle" fill="#1a1a1a">10</text>
<text x="451.5" y="161.8" font-size="8" text-anchor="middle" fill="#1a1a1a">Log2FoldChange</text>
<text x="375.5" y="82.8" font-size="8" text-anchor="middle" fill="#1a1a1a" transform="rotate(-90 375.5 82.8) translate(0 2.8)">-Lg(<tspan font-style="italic">P</tspan>.adj)</text>
<line x1="393.8" y1="105.58" x2="399" y2="105.58" stroke="#555" stroke-width="0.9"/>
<text x="517.2" y="11.7" font-size="17" text-anchor="start" fill="#111" font-weight="bold" style="stroke:#111">d</text>
<text x="612.4" y="16.8" font-size="8" text-anchor="middle" fill="#1a1a1a">NSP14</text>
<line x1="586.2" y1="21.2" x2="638.7" y2="21.2" stroke="#555" stroke-width="1.3"/>
<text x="611.4" y="31" font-size="8" text-anchor="middle" fill="#1a1a1a">C10 vs DMSO</text>
<path d="M598.65 35.5V136.3M615.35 35.5V136.3" stroke="#333" stroke-width="0.9" stroke-dasharray="0.9 2.2" fill="none"/>
<path d="M556.6 121.85H657.4" stroke="#333" stroke-width="0.9" stroke-dasharray="0.9 2.2" fill="none"/>
<path d="M558.6 122.6 L573.6 122.1 L590.3 121.7 L598.6 121.7 L598.6 109.4 L599.1 110.9 L599.5 112.4 L599.9 113.8 L600.3 115.1 L600.7 116.3 L601.2 117.4 L601.6 118.5 L602.0 119.5 L602.4 120.4 L602.8 121.2 L603.2 121.9 L603.7 122.6 L604.1 123.2 L604.5 123.7 L604.9 124.1 L605.3 124.4 L605.7 124.4 L606.2 124.4 L606.6 124.4 L607.0 124.4 L607.4 124.4 L607.8 124.4 L608.3 124.4 L608.7 124.4 L609.1 124.1 L609.5 123.7 L609.9 123.2 L610.3 122.6 L610.8 121.9 L611.2 121.2 L611.6 120.4 L612.0 119.5 L612.4 118.5 L612.8 117.4 L613.3 116.3 L613.7 115.1 L614.1 113.8 L614.5 112.4 L614.9 110.9 L615.4 109.4 L615.4 121.7 L627.9 121.7 L634.6 123.3 L634.6 124.9 L615.4 125.8 L607.0 126.1 L598.6 125.8 L573.6 124.7 L558.6 123.8Z" fill="#0a0a0a"/>
<path d="M607.0 127.9h0M607.0 128.8h0" stroke="#222" stroke-width="1.2" stroke-linecap="round" fill="none"/>
<path d="M594.1 107.3h0M587.5 104.9h0M591.6 107.4h0M584.5 117.8h0M585.4 109.4h0M587.7 121.5h0M581.0 116.6h0M584.9 118.1h0M586.1 104.5h0M586.6 106.3h0M597.5 116.6h0M589.3 110.3h0M585.0 109.0h0M595.4 118.9h0M583.0 115.7h0M592.6 101.0h0M591.1 93.5h0M597.4 109.4h0M589.6 110.9h0M598.4 118.6h0M585.8 110.3h0M577.7 121.3h0M595.0 118.5h0M592.3 104.2h0M586.8 116.4h0M575.7 121.5h0M585.9 121.4h0M595.4 115.6h0M593.9 98.8h0M576.5 120.2h0M579.0 118.7h0M589.7 116.6h0M573.3 122.0h0M595.3 113.2h0M571.8 121.9h0M590.3 118.4h0M589.2 96.9h0M581.1 120.3h0M597.9 116.2h0M584.9 119.8h0M581.7 115.5h0M590.4 105.1h0M575.2 121.7h0M595.2 121.9h0M597.8 121.8h0M593.5 99.1h0M588.1 114.0h0M583.2 121.8h0M585.8 121.8h0M586.4 105.6h0M586.2 113.2h0M591.4 116.7h0M587.0 115.6h0M592.2 121.3h0M596.7 109.7h0M584.6 116.4h0M595.2 119.4h0M588.0 106.4h0M585.0 117.1h0M597.1 118.6h0M592.2 91.5h0M592.9 109.1h0M598.0 119.1h0M591.8 105.6h0M595.9 102.7h0M588.9 94.6h0M585.5 121.3h0M595.1 113.7h0M584.7 113.4h0M591.7 111.5h0M587.6 121.4h0M587.9 106.4h0M594.6 112.9h0M589.9 109.3h0M598.0 121.4h0M591.4 98.7h0M581.5 118.8h0M593.8 99.8h0M594.0 117.5h0M576.3 121.4h0M584.0 109.2h0M588.8 115.6h0M586.5 112.6h0M588.7 97.0h0M590.9 119.8h0M580.5 121.7h0M593.5 104.6h0M597.8 118.8h0M596.3 120.2h0M587.3 110.4h0M589.8 93.5h0M590.6 103.5h0M586.9 115.6h0M587.1 101.5h0M595.8 103.6h0M584.7 115.7h0M593.0 102.9h0M584.6 115.2h0M588.8 111.8h0M576.0 121.9h0M596.0 113.2h0M587.1 115.1h0M587.6 104.4h0M583.5 112.7h0M592.6 120.6h0M581.1 117.8h0M585.3 109.3h0M593.2 110.6h0M589.2 116.4h0M588.6 107.1h0M572.0 122.0h0M594.0 118.7h0M585.3 121.7h0M594.0 106.6h0M585.9 105.4h0M590.2 101.6h0M591.8 120.6h0M574.0 122.0h0M591.9 103.3h0M594.4 111.7h0M596.4 108.2h0M580.2 121.7h0M597.1 114.9h0M584.1 119.9h0M583.6 114.3h0M589.4 106.1h0M595.1 108.8h0M597.5 115.4h0M573.9 121.4h0M595.3 107.1h0M575.9 122.0h0M587.0 112.2h0M589.5 119.6h0M590.4 105.2h0M593.8 118.1h0M597.5 115.6h0M578.0 121.9h0M590.4 103.0h0M595.0 108.6h0M590.5 112.0h0M588.2 110.4h0M585.0 109.8h0M595.7 108.1h0M598.4 118.7h0M584.5 113.4h0M592.5 90.8h0M587.6 106.1h0M591.2 121.0h0M596.0 113.9h0M589.9 104.5h0M594.2 100.6h0M589.7 116.6h0M595.6 103.0h0M596.3 106.2h0M588.8 106.7h0M596.1 118.4h0M588.6 118.0h0M591.4 99.0h0M594.1 115.3h0M589.6 118.1h0M585.3 111.6h0M586.2 105.9h0M584.8 112.0h0M590.7 107.6h0M576.1 121.4h0M589.6 114.0h0M593.4 111.3h0M587.6 104.8h0M593.5 111.5h0M592.7 106.3h0M591.3 118.2h0M589.0 115.0h0M585.1 120.0h0M593.2 98.4h0M586.0 113.6h0M590.1 99.2h0M594.3 110.3h0M587.9 109.3h0M587.3 110.8h0M591.8 101.6h0M588.7 115.6h0M575.9 121.1h0M591.4 91.7h0M592.6 118.3h0M572.2 121.4h0M594.6 110.9h0M589.2 104.7h0M589.9 98.3h0M588.5 120.7h0M595.6 107.3h0M588.8 120.2h0M590.7 116.5h0M596.6 116.0h0M593.3 110.7h0M589.6 118.0h0M588.7 115.2h0M597.3 116.8h0M584.9 119.7h0M575.6 121.4h0M593.6 111.8h0M591.9 112.1h0M592.8 97.8h0M591.2 113.0h0M582.4 121.8h0M595.3 108.6h0M582.8 121.3h0M575.5 121.8h0M573.3 121.9h0M588.3 117.1h0M593.0 101.6h0M596.7 107.2h0M584.2 118.6h0M591.7 89.0h0M590.5 101.9h0M586.3 116.2h0M584.5 121.2h0M595.2 121.5h0M586.0 114.0h0M590.7 99.5h0M590.0 100.8h0M589.3 103.2h0M584.2 121.1h0M588.8 104.4h0M572.9 121.9h0M575.8 121.5h0M588.4 103.0h0M589.2 118.9h0M587.4 121.7h0M586.9 111.5h0M596.4 107.2h0M586.8 107.2h0M597.5 118.7h0M587.5 114.8h0M596.4 109.6h0M587.9 116.2h0M590.5 93.5h0M572.2 121.4h0M577.3 120.8h0M587.1 110.2h0M582.9 113.2h0M594.5 112.0h0M573.3 121.8h0M595.7 108.5h0M588.8 119.6h0M593.3 121.1h0M584.0 119.4h0M589.6 106.0h0M590.6 98.2h0M588.6 103.0h0M585.4 107.1h0M590.2 114.4h0M589.4 108.5h0M591.9 121.2h0M587.3 118.2h0M588.5 100.9h0M591.1 96.0h0M588.9 107.0h0M592.0 98.6h0M597.5 119.2h0M598.2 116.6h0M572.4 121.7h0M595.0 114.1h0M587.9 117.5h0M579.7 119.9h0M588.6 96.7h0M592.0 100.9h0M592.2 90.9h0M587.8 113.7h0M594.0 106.0h0M594.2 113.0h0M588.5 114.2h0M593.9 95.5h0M579.5 118.4h0M592.7 95.2h0M589.5 113.2h0M590.5 121.0h0M597.9 119.9h0M589.1 100.6h0M595.3 119.5h0M594.6 107.1h0M597.9 111.4h0M596.5 112.6h0M590.0 97.2h0M585.0 120.3h0M592.7 104.2h0M590.1 91.4h0M593.9 118.3h0M587.0 120.6h0M586.1 116.4h0M592.2 97.5h0M585.6 110.4h0M595.0 99.8h0M588.0 115.2h0M588.9 120.4h0M593.7 100.7h0M596.9 109.5h0M593.5 121.2h0M594.4 117.2h0M588.3 102.9h0M595.4 102.6h0M589.8 113.9h0M583.2 121.6h0M595.5 107.1h0M590.7 89.2h0M588.3 106.7h0M583.7 119.2h0M598.1 118.9h0M588.1 103.7h0M592.1 92.1h0M593.3 109.0h0M578.0 121.2h0M581.1 121.8h0M590.1 91.4h0M577.7 121.5h0M588.3 118.4h0M594.7 121.4h0M592.8 101.4h0M597.5 119.0h0M592.6 116.0h0M583.4 116.4h0M574.4 121.8h0M589.3 113.5h0M593.6 121.7h0M586.2 103.7h0M592.7 114.7h0M594.4 99.9h0M588.2 107.8h0M594.9 116.7h0M586.3 111.9h0M585.0 119.0h0M576.3 121.5h0M598.2 119.8h0M595.4 106.0h0M591.1 95.4h0M591.3 101.8h0M574.4 121.7h0M586.7 114.0h0M593.4 95.6h0M591.9 108.6h0M597.3 120.6h0M585.0 112.9h0M587.6 101.1h0M587.3 101.4h0M575.3 121.2h0M589.3 112.2h0M575.1 121.8h0M595.9 119.6h0M575.6 121.6h0M574.7 121.8h0M592.6 111.8h0M588.9 119.3h0M593.0 107.1h0M586.7 109.7h0M591.8 95.2h0M590.6 102.4h0M596.7 114.5h0M591.2 88.6h0M576.8 121.8h0M574.9 122.0h0M591.1 100.2h0M589.1 102.9h0M586.9 108.3h0M594.2 111.6h0M591.6 88.7h0M594.6 112.0h0M589.7 120.7h0M581.9 116.9h0M578.5 118.4h0M598.2 121.5h0M592.5 97.4h0M595.5 115.8h0M595.6 111.1h0M593.7 122.0h0M586.1 108.8h0M594.5 121.1h0M594.2 98.8h0M593.1 112.7h0M585.5 121.9h0M597.0 115.3h0M586.3 110.0h0M573.7 121.6h0M584.4 117.5h0M589.3 100.7h0M593.2 105.8h0M581.6 121.9h0M589.5 112.7h0M588.1 110.0h0M588.7 106.5h0M598.2 121.0h0M579.6 120.9h0M593.5 100.8h0M594.5 110.7h0M596.5 117.9h0M595.1 103.0h0M576.0 121.0h0M592.2 110.6h0M580.7 119.1h0M589.3 111.4h0M589.4 118.1h0M586.3 104.9h0M590.7 119.6h0M592.4 119.1h0M575.9 121.7h0M589.7 115.9h0M572.1 121.9h0M591.2 113.2h0M585.3 118.2h0M595.2 114.3h0M593.6 116.4h0M587.2 110.0h0M593.6 98.7h0M598.3 120.1h0M577.0 121.7h0M597.4 108.1h0M588.7 120.1h0M593.9 104.8h0M584.5 107.7h0M585.0 115.9h0M595.9 113.0h0M597.5 120.9h0M595.5 110.6h0M589.5 105.7h0M583.8 111.4h0M572.9 122.0h0M574.4 121.8h0M598.1 117.6h0M587.3 102.4h0M586.4 103.4h0M594.7 110.2h0M577.6 122.0h0M596.4 116.0h0M577.1 121.7h0M587.7 112.1h0M579.0 119.5h0M589.6 106.7h0M584.6 109.8h0M593.7 95.3h0M588.2 115.6h0M598.2 120.9h0M597.0 118.8h0M594.6 122.0h0M595.1 101.8h0M591.0 119.9h0M586.0 117.5h0M591.7 108.7h0M587.6 121.2h0M586.2 103.4h0M594.5 112.8h0M588.7 95.7h0M590.1 110.7h0M573.2 121.5h0M592.4 107.5h0M585.7 118.9h0M587.6 120.9h0M590.4 99.3h0M597.7 119.6h0M590.4 97.3h0M592.1 109.8h0M587.7 111.0h0M572.5 121.4h0M577.1 121.9h0M598.0 122.0h0M595.4 120.5h0M586.5 120.9h0M588.6 106.2h0M587.7 100.9h0M595.7 117.8h0M579.2 121.0h0M596.5 107.3h0M579.0 118.4h0M580.0 121.3h0M589.3 99.7h0M596.6 107.0h0M587.3 116.3h0M589.2 119.1h0M595.6 120.5h0M583.4 115.0h0M588.5 112.1h0M597.4 121.9h0M596.0 121.8h0M573.6 121.4h0M593.0 98.5h0M576.6 121.6h0M588.1 116.4h0M582.9 114.7h0M589.3 120.3h0M571.7 121.9h0M590.9 87.2h0M588.0 117.3h0M589.5 118.6h0M597.1 120.3h0M590.2 92.4h0M586.4 110.7h0M590.8 121.2h0M585.9 121.3h0M597.6 121.2h0M596.0 119.3h0M595.6 111.8h0M592.0 89.0h0M598.0 121.8h0M591.5 121.8h0M575.0 121.7h0M576.8 120.8h0M590.7 99.0h0M587.1 104.3h0M597.3 118.4h0M572.8 121.7h0M579.5 121.1h0M584.0 113.1h0M585.7 112.5h0M585.3 114.1h0M574.7 121.5h0M583.7 121.9h0M597.9 109.5h0M587.0 108.1h0M585.9 120.1h0M589.7 97.5h0M597.0 110.2h0M592.9 103.6h0M597.5 116.9h0M596.4 121.8h0M584.9 111.5h0M594.5 105.8h0M573.5 121.9h0M590.7 118.1h0M595.6 114.4h0M586.3 115.7h0M575.8 120.8h0M591.1 95.6h0M582.4 120.2h0M586.3 113.2h0M587.1 116.8h0M590.8 108.0h0M580.0 117.2h0M590.6 100.2h0M592.5 104.4h0M587.3 105.6h0M593.4 112.4h0M596.7 116.7h0M582.1 119.2h0M589.1 95.2h0M592.7 117.9h0M594.1 99.6h0M586.0 108.2h0M597.7 116.0h0M590.7 105.4h0M593.3 98.3h0M587.3 103.5h0M586.7 114.3h0M578.8 121.9h0M580.9 121.7h0M596.6 113.2h0M578.3 122.0h0M596.1 104.9h0M597.7 111.6h0M585.3 120.2h0M597.4 110.9h0M581.5 120.3h0M584.8 120.4h0M585.2 118.1h0M586.7 119.6h0M590.9 94.0h0M594.3 105.4h0M595.6 113.3h0M586.8 117.8h0M592.9 109.3h0M586.8 107.8h0M580.5 121.8h0M595.7 112.5h0M596.5 115.0h0M586.8 105.4h0M587.1 109.9h0M577.0 121.8h0M598.4 111.4h0M591.3 111.5h0M592.1 115.1h0M596.1 112.8h0M573.8 121.9h0M594.4 116.7h0M593.4 94.0h0M597.9 110.1h0M587.5 105.6h0M585.4 117.1h0M593.3 112.6h0M586.9 110.9h0M592.1 99.3h0M596.6 106.5h0M589.5 109.3h0M586.9 108.0h0M584.8 117.3h0M585.3 121.8h0M595.8 105.7h0M587.6 108.7h0M587.7 116.1h0M586.0 103.9h0M598.1 114.2h0M586.0 110.6h0M591.6 109.1h0M572.4 122.0h0M591.8 102.3h0M589.7 102.1h0M588.9 121.9h0M597.0 118.8h0M588.5 118.2h0M585.1 114.6h0M592.0 104.6h0M589.9 100.1h0M596.0 119.6h0M597.0 112.5h0M589.6 115.8h0M589.6 98.0h0M596.1 113.4h0M594.1 112.8h0M590.8 117.7h0M588.2 98.3h0M590.5 104.8h0M592.4 116.0h0M581.7 120.3h0M589.7 100.0h0M583.5 121.8h0M557.7 116.1h0M561.9 121.2h0M566.9 122.3h0M567.8 121.2h0M571.9 115.6h0M573.6 106.6h0M577.8 103.3h0M578.6 111.7h0M582.0 110.5h0M583.6 107.2h0M584.5 104.9h0M587.0 100.5h0M591.6 75.8h0M590.3 78.1h0M589.5 74.1h0M590.7 73.0h0M592.0 82.5h0M589.0 91.5h0M587.8 94.9h0" stroke="#13279a" stroke-width="2.0" stroke-linecap="round" fill="none"/>
<path d="M629.8 121.9h0M615.9 107.8h0M618.3 120.8h0M625.2 120.0h0M628.7 121.5h0M629.8 121.7h0M624.5 114.7h0M625.7 116.2h0M626.0 121.8h0M628.6 120.6h0M620.1 120.1h0M628.1 120.3h0M629.5 120.8h0M629.8 121.4h0M625.9 118.6h0M619.4 108.5h0M620.2 112.0h0M629.7 121.2h0M617.6 110.7h0M625.4 121.1h0M616.2 115.3h0M616.0 109.0h0M623.0 117.5h0M621.6 114.9h0M629.1 121.5h0M621.1 115.6h0M619.9 114.6h0M623.6 118.6h0M625.5 118.9h0M616.8 107.8h0M620.8 117.4h0M621.5 111.2h0M629.7 121.4h0M621.5 121.3h0M628.8 121.7h0M623.6 119.4h0M620.4 118.2h0M618.4 121.7h0M623.5 115.0h0M625.1 120.9h0M625.8 121.8h0M621.6 112.8h0M629.2 121.2h0M628.1 120.5h0M623.3 117.0h0M630.3 121.6h0M622.5 114.9h0M625.1 119.9h0M627.2 118.4h0M624.6 114.7h0M615.8 115.8h0M624.9 120.0h0M618.1 112.8h0M622.0 119.7h0M616.1 108.3h0M620.8 121.0h0M618.7 119.2h0M628.4 121.6h0M619.6 121.1h0M622.5 120.4h0M620.6 113.1h0M629.3 120.5h0M616.1 117.5h0M628.1 121.9h0M618.5 115.9h0M621.2 113.4h0M626.2 119.7h0M619.2 119.5h0M619.5 121.4h0M625.4 121.2h0M628.7 120.5h0M616.4 115.8h0M624.5 121.8h0M622.8 121.8h0M626.9 122.0h0M624.9 114.7h0M628.1 121.4h0M623.5 121.1h0M620.6 111.2h0M627.7 122.0h0M621.2 114.9h0M618.1 111.0h0M628.8 120.8h0M620.9 111.7h0M623.1 120.7h0M619.6 120.4h0M628.0 120.4h0M625.9 117.1h0M630.0 121.8h0M621.5 112.1h0M626.8 120.4h0M625.3 121.0h0M617.9 121.6h0M621.2 119.8h0M623.2 112.8h0M617.8 114.9h0M628.4 120.4h0M623.4 115.2h0M615.8 108.6h0M625.7 117.1h0M627.8 121.7h0M616.5 120.2h0M623.0 112.9h0M629.0 121.2h0M624.8 116.7h0M620.5 109.4h0M629.5 120.9h0M628.9 120.2h0M625.2 120.2h0M619.7 119.5h0M616.4 109.0h0M620.0 121.8h0M620.2 121.1h0M622.1 119.1h0M618.1 116.1h0M621.7 118.7h0M627.6 121.0h0M623.6 114.2h0M629.8 121.6h0M616.1 108.6h0M623.2 120.4h0M617.4 119.4h0M620.1 120.7h0M616.2 107.8h0M627.7 121.7h0M622.7 114.1h0M623.0 121.6h0M620.6 117.9h0M629.1 120.9h0M622.3 115.8h0M616.2 112.9h0M627.5 119.5h0M620.9 119.2h0M615.7 121.3h0M617.8 116.5h0M627.1 121.2h0M622.5 115.9h0M624.9 121.9h0M629.2 121.0h0M620.0 119.5h0M625.8 116.2h0M620.5 117.7h0M623.8 120.9h0M621.5 111.5h0M623.8 115.0h0M619.4 110.0h0M627.1 121.2h0M623.4 116.1h0M624.0 117.4h0M619.1 115.0h0M620.8 112.3h0M621.1 110.0h0M624.1 120.6h0M621.7 121.0h0M626.5 121.8h0M624.5 120.0h0M627.1 121.6h0M625.6 117.7h0M619.0 120.7h0M621.1 114.7h0M619.4 121.9h0M622.1 113.5h0M617.9 108.7h0M623.1 120.9h0M617.0 117.6h0M622.6 120.7h0M616.8 115.8h0M619.3 116.6h0M622.2 115.0h0M624.1 120.5h0M618.2 110.1h0M616.3 120.8h0M616.6 110.7h0M623.6 113.7h0M624.8 120.0h0M621.9 114.3h0M619.0 111.0h0M621.6 121.7h0M620.6 115.6h0M617.7 109.3h0M629.3 121.2h0M629.0 120.6h0M623.5 121.0h0M629.7 120.8h0M622.2 118.5h0M616.6 114.0h0M628.2 121.0h0M619.8 114.3h0M627.3 121.5h0M619.7 113.7h0M616.1 110.8h0M620.2 111.3h0M622.3 120.7h0M615.8 120.9h0M619.4 111.8h0M627.3 119.5h0M620.1 113.7h0M626.4 120.3h0M616.7 116.2h0M618.8 120.0h0M621.3 121.4h0M628.9 121.5h0M628.9 120.4h0M615.7 109.4h0M627.5 120.1h0M628.7 120.9h0M615.9 120.5h0M620.1 110.8h0M627.8 121.7h0M620.7 121.1h0M618.9 117.9h0M621.7 120.8h0M625.3 120.7h0M628.7 120.9h0M621.9 113.8h0M620.6 119.5h0M617.3 118.7h0M619.0 112.1h0M620.8 113.6h0M619.6 121.4h0M620.0 117.5h0M629.0 121.7h0M618.7 120.4h0M619.3 108.4h0M629.4 121.7h0M616.3 116.0h0M624.2 121.4h0M621.7 113.6h0M615.5 112.4h0M625.7 117.2h0M622.8 117.9h0M623.2 121.1h0M623.2 120.2h0M620.3 121.6h0M617.9 121.5h0M623.6 120.4h0M623.8 118.1h0M619.0 120.8h0M624.4 116.9h0M625.8 119.2h0M624.1 121.9h0M620.1 111.6h0M621.1 121.2h0M621.8 112.8h0M617.0 120.9h0M622.9 113.6h0M621.3 119.7h0M626.9 121.7h0M619.9 114.5h0M628.1 119.3h0M620.4 119.3h0M620.9 121.0h0M619.6 111.7h0M630.1 121.8h0M616.6 112.1h0M629.9 121.2h0M621.7 113.9h0M626.8 118.5h0M622.8 112.0h0M627.1 121.2h0M621.9 121.3h0M621.1 112.4h0M622.7 117.3h0M627.1 121.7h0M620.8 116.7h0M622.9 115.6h0M629.4 120.7h0M623.6 116.3h0M623.5 113.0h0M624.4 117.7h0M621.4 117.8h0M626.9 120.5h0M628.9 120.5h0M629.7 121.1h0M624.0 119.4h0M615.8 113.3h0M626.7 118.5h0M626.8 121.9h0M625.7 120.6h0M621.3 111.9h0M621.5 117.3h0M616.3 120.1h0M618.6 119.7h0M623.3 121.7h0M616.8 121.2h0M626.4 116.7h0M626.7 119.7h0M617.5 111.3h0M617.4 121.3h0M623.1 113.9h0M620.1 110.7h0M620.5 109.4h0M626.5 117.5h0M630.1 121.4h0M618.4 115.5h0M623.6 115.9h0M618.9 114.6h0M619.7 120.1h0M622.2 113.6h0M623.7 119.4h0M618.9 117.8h0M621.4 119.5h0M620.1 119.7h0M619.9 113.4h0M624.8 117.7h0M629.2 120.8h0M617.5 117.2h0M623.3 115.3h0M623.4 121.4h0M622.6 115.8h0M627.2 120.3h0M618.7 121.7h0M623.0 115.0h0M617.2 115.4h0M624.4 118.0h0M619.0 121.2h0M615.8 118.5h0M628.8 121.1h0M630.2 121.5h0M624.2 118.9h0M622.4 92.6h0M622.0 96.0h0M626.2 98.8h0M620.8 100.5h0M621.6 101.0h0M624.5 108.3h0M627.0 111.7h0M628.7 115.0h0M631.2 121.2h0M635.4 121.5h0M632.9 121.7h0M625.4 106.1h0M623.7 104.4h0" stroke="#9a1a0e" stroke-width="2.0" stroke-linecap="round" fill="none"/>
<line x1="585.7" y1="55.8" x2="588.8" y2="53.3" stroke="#222" stroke-width="0.8"/>
<line x1="573.4" y1="73.8" x2="575.3" y2="75.9" stroke="#222" stroke-width="0.8"/>
<line x1="586.3" y1="78.9" x2="588.3" y2="74.4" stroke="#222" stroke-width="0.8"/>
<path d="M584.9 57.7h0M575.6 77.4h0M589.7 72.9h0" stroke="#13279a" stroke-width="2.2" stroke-linecap="round" fill="none"/>
<text x="574.7" y="52.4" font-size="6.6" text-anchor="start" fill="#3273b6" font-style="italic" style="stroke:#3273b6">ZC3H4</text>
<text x="559" y="71.8" font-size="6.6" text-anchor="start" fill="#3273b6" font-style="italic" style="stroke:#3273b6">AURKAP1</text>
<text x="562.9" y="85.7" font-size="6.6" text-anchor="start" fill="#3273b6" font-style="italic" style="stroke:#3273b6">CREBBP</text>
<circle cx="620.3" cy="42.8" r="1.1" fill="#13279a"/>
<text x="627" y="45.6" font-size="8" text-anchor="start" fill="#1a1a1a">Down</text>
<circle cx="620.3" cy="52.6" r="1.1" fill="#9a1a0e"/>
<text x="627" y="55.4" font-size="8" text-anchor="start" fill="#1a1a1a">Up</text>
<circle cx="620.3" cy="62.8" r="0.6" fill="#888"/>
<text x="627" y="65.6" font-size="8" text-anchor="start" fill="#1a1a1a">None</text>
<rect x="556.6" y="35.5" width="100.8" height="100.8" fill="none" stroke="#333" stroke-width="1"/>
<line x1="552" y1="125.1" x2="556.6" y2="125.1" stroke="#333" stroke-width="1"/>
<line x1="657.4" y1="125.1" x2="662.2" y2="125.1" stroke="#333" stroke-width="1"/>
<text x="551" y="128" font-size="8" text-anchor="end" fill="#1a1a1a">0</text>
<text x="664" y="128" font-size="8" text-anchor="start" fill="#1a1a1a">0</text>
<line x1="552" y1="102.7" x2="556.6" y2="102.7" stroke="#333" stroke-width="1"/>
<line x1="657.4" y1="102.7" x2="662.2" y2="102.7" stroke="#333" stroke-width="1"/>
<text x="551" y="105.6" font-size="8" text-anchor="end" fill="#1a1a1a">20</text>
<text x="664" y="105.6" font-size="8" text-anchor="start" fill="#1a1a1a">20</text>
<line x1="552" y1="80.3" x2="556.6" y2="80.3" stroke="#333" stroke-width="1"/>
<line x1="657.4" y1="80.3" x2="662.2" y2="80.3" stroke="#333" stroke-width="1"/>
<text x="551" y="83.2" font-size="8" text-anchor="end" fill="#1a1a1a">40</text>
<text x="664" y="83.2" font-size="8" text-anchor="start" fill="#1a1a1a">40</text>
<line x1="552" y1="57.9" x2="556.6" y2="57.9" stroke="#333" stroke-width="1"/>
<line x1="657.4" y1="57.9" x2="662.2" y2="57.9" stroke="#333" stroke-width="1"/>
<text x="551" y="60.8" font-size="8" text-anchor="end" fill="#1a1a1a">60</text>
<text x="664" y="60.8" font-size="8" text-anchor="start" fill="#1a1a1a">60</text>
<line x1="552" y1="35.5" x2="556.6" y2="35.5" stroke="#333" stroke-width="1"/>
<line x1="657.4" y1="35.5" x2="662.2" y2="35.5" stroke="#333" stroke-width="1"/>
<text x="551" y="38.4" font-size="8" text-anchor="end" fill="#1a1a1a">80</text>
<text x="664" y="38.4" font-size="8" text-anchor="start" fill="#1a1a1a">80</text>
<line x1="556.9" y1="136.3" x2="556.9" y2="139.3" stroke="#888" stroke-width="1"/>
<line x1="565.25" y1="136.3" x2="565.25" y2="140.3" stroke="#333" stroke-width="1"/>
<line x1="573.6" y1="136.3" x2="573.6" y2="139.3" stroke="#888" stroke-width="1"/>
<line x1="581.95" y1="136.3" x2="581.95" y2="139.3" stroke="#888" stroke-width="1"/>
<line x1="590.3" y1="136.3" x2="590.3" y2="139.3" stroke="#888" stroke-width="1"/>
<line x1="598.65" y1="136.3" x2="598.65" y2="140.3" stroke="#333" stroke-width="1"/>
<line x1="607" y1="136.3" x2="607" y2="140.3" stroke="#333" stroke-width="1"/>
<line x1="615.35" y1="136.3" x2="615.35" y2="140.3" stroke="#333" stroke-width="1"/>
<line x1="623.7" y1="136.3" x2="623.7" y2="139.3" stroke="#888" stroke-width="1"/>
<line x1="632.05" y1="136.3" x2="632.05" y2="139.3" stroke="#888" stroke-width="1"/>
<line x1="640.4" y1="136.3" x2="640.4" y2="139.3" stroke="#888" stroke-width="1"/>
<line x1="648.75" y1="136.3" x2="648.75" y2="140.3" stroke="#333" stroke-width="1"/>
<line x1="657.1" y1="136.3" x2="657.1" y2="139.3" stroke="#888" stroke-width="1"/>
<text x="565.25" y="149.3" font-size="8" text-anchor="middle" fill="#1a1a1a">-5</text>
<text x="607" y="149.3" font-size="8" text-anchor="middle" fill="#1a1a1a">0</text>
<text x="648.75" y="149.3" font-size="8" text-anchor="middle" fill="#1a1a1a">5</text>
<text x="607" y="161.8" font-size="8" text-anchor="middle" fill="#1a1a1a">Log2FoldChange</text>
<text x="532.5" y="80.5" font-size="8" text-anchor="middle" fill="#1a1a1a" transform="rotate(-90 532.5 80.5) translate(0 2.8)">-Lg(<tspan font-style="italic">P</tspan>.adj)</text>
<line x1="552" y1="121.85" x2="556.6" y2="121.85" stroke="#555" stroke-width="0.9"/>
<text x="0" y="244.3" font-size="17" text-anchor="start" fill="#111" font-weight="bold" style="stroke:#111">e</text>
<defs><clipPath id="cy1"><ellipse cx="71.2" cy="265.3" rx="23.8" ry="14.8"/></clipPath><clipPath id="cy2"><ellipse cx="101.2" cy="318.3" rx="25.1" ry="19.7"/></clipPath></defs>
<ellipse cx="71.2" cy="265.3" rx="23.8" ry="14.8" fill="#fad87e"/>
<ellipse cx="97.3" cy="266.3" rx="22.3" ry="18.6" fill="#f4bc98"/>
<ellipse cx="97.3" cy="266.3" rx="22.3" ry="18.6" fill="#f2aa58" clip-path="url(#cy1)"/>
<text x="16.7" y="248" font-size="8" text-anchor="start" fill="#1a1a1a">NSP14 vs vehicle</text>
<text x="103.4" y="245.2" font-size="8" text-anchor="start" fill="#1a1a1a">C10 vs DMSO</text>
<text x="62.6" y="269.8" font-size="8" text-anchor="middle" fill="#1a1a1a">388</text>
<text x="86" y="269.8" font-size="8" text-anchor="middle" fill="#1a1a1a">123</text>
<text x="106.3" y="266.6" font-size="8" text-anchor="middle" fill="#1a1a1a">668</text>
<text x="44.6" y="280.3" font-size="8" text-anchor="start" fill="#1a1a1a">Up</text>
<text x="107.2" y="281.6" font-size="8" text-anchor="start" fill="#1a1a1a">Down</text>
<ellipse cx="101.2" cy="318.3" rx="25.1" ry="19.7" fill="#fdecc4"/>
<ellipse cx="73.8" cy="316.8" rx="23.9" ry="13.75" fill="#e2eaf6" stroke="#d3dfef" stroke-width="0.8"/>
<ellipse cx="73.8" cy="316.8" rx="23.9" ry="13.75" fill="#e5e6de" stroke="#d8ddd8" stroke-width="0.8" clip-path="url(#cy2)"/>
<text x="17.5" y="300.9" font-size="8" text-anchor="start" fill="#1a1a1a">NSP14 vs vehicle</text>
<text x="102.8" y="298.3" font-size="8" text-anchor="start" fill="#1a1a1a">C10 vs DMSO</text>
<text x="63.1" y="319.8" font-size="8" text-anchor="middle" fill="#1a1a1a">116</text>
<text x="86.4" y="319.8" font-size="8" text-anchor="middle" fill="#1a1a1a">48</text>
<text x="108" y="319.8" font-size="8" text-anchor="middle" fill="#1a1a1a">309</text>
<text x="39.7" y="331.7" font-size="8" text-anchor="start" fill="#1a1a1a">Down</text>
<text x="114.5" y="338.7" font-size="8" text-anchor="start" fill="#1a1a1a">Up</text>
<text x="201.4" y="184.4" font-size="17" text-anchor="start" fill="#111" font-weight="bold" style="stroke:#111">f</text>
<text x="223.2" y="192.9" font-size="8" text-anchor="start" fill="#1a1a1a">Cell Cycle Related Cross Genes</text>
<line x1="233.5" y1="205.4" x2="237.5" y2="205.4" stroke="#333" stroke-width="1"/>
<text x="232.7" y="208.2" font-size="8" text-anchor="end" fill="#1a1a1a" font-style="italic">AURKAP1</text>
<circle cx="292.76" cy="205.4" r="3.3" fill="#ef1414"/>
<line x1="233.5" y1="216.66" x2="237.5" y2="216.66" stroke="#333" stroke-width="1"/>
<text x="232.7" y="219.46" font-size="8" text-anchor="end" fill="#1a1a1a" font-style="italic">FTH1P3</text>
<circle cx="290.46" cy="216.66" r="2" fill="#ef1414"/>
<line x1="233.5" y1="227.92" x2="237.5" y2="227.92" stroke="#333" stroke-width="1"/>
<text x="232.7" y="230.72" font-size="8" text-anchor="end" fill="#1a1a1a" font-style="italic">HSP90B2P</text>
<circle cx="284.01" cy="227.92" r="2" fill="#ef1414"/>
<line x1="233.5" y1="239.18" x2="237.5" y2="239.18" stroke="#333" stroke-width="1"/>
<text x="232.7" y="241.98" font-size="8" text-anchor="end" fill="#1a1a1a" font-style="italic">MIR3620</text>
<circle cx="274.65" cy="239.18" r="2.6" fill="#ef1414"/>
<line x1="233.5" y1="250.44" x2="237.5" y2="250.44" stroke="#333" stroke-width="1"/>
<text x="232.7" y="253.24" font-size="8" text-anchor="end" fill="#1a1a1a" font-style="italic">DNAH17-AS1</text>
<circle cx="268.97" cy="250.44" r="2.6" fill="#ef1414"/>
<line x1="233.5" y1="261.7" x2="237.5" y2="261.7" stroke="#333" stroke-width="1"/>
<text x="232.7" y="264.5" font-size="8" text-anchor="end" fill="#1a1a1a" font-style="italic">ALDH3A1</text>
<circle cx="266.36" cy="261.7" r="2.1" fill="#ef1414"/>
<line x1="233.5" y1="272.96" x2="237.5" y2="272.96" stroke="#333" stroke-width="1"/>
<text x="232.7" y="275.76" font-size="8" text-anchor="end" fill="#1a1a1a" font-style="italic">DNAH17</text>
<circle cx="263.29" cy="272.96" r="2.9" fill="#ef1414"/>
<line x1="233.5" y1="284.22" x2="237.5" y2="284.22" stroke="#333" stroke-width="1"/>
<text x="232.7" y="287.02" font-size="8" text-anchor="end" fill="#1a1a1a" font-style="italic">H3C6</text>
<circle cx="259.45" cy="284.22" r="2.5" fill="#ef1414"/>
<line x1="233.5" y1="295.48" x2="237.5" y2="295.48" stroke="#333" stroke-width="1"/>
<text x="232.7" y="298.28" font-size="8" text-anchor="end" fill="#1a1a1a" font-style="italic">H2BC26</text>
<circle cx="258.99" cy="295.48" r="2.1" fill="#ef1414"/>
<line x1="233.5" y1="306.74" x2="237.5" y2="306.74" stroke="#333" stroke-width="1"/>
<text x="232.7" y="309.54" font-size="8" text-anchor="end" fill="#1a1a1a" font-style="italic">SNORA7A</text>
<circle cx="254.69" cy="306.74" r="2.1" fill="#ef1414"/>
<line x1="233.5" y1="318" x2="237.5" y2="318" stroke="#333" stroke-width="1"/>
<text x="232.7" y="320.8" font-size="8" text-anchor="end" fill="#1a1a1a" font-style="italic">MALINC1</text>
<circle cx="254.69" cy="318" r="2.1" fill="#ef1414"/>
<rect x="237.5" y="197.2" width="77" height="127.8" fill="none" stroke="#333" stroke-width="1"/>
<line x1="237.5" y1="325" x2="237.5" y2="328.5" stroke="#333" stroke-width="1"/>
<text x="237.5" y="337" font-size="8" text-anchor="middle" fill="#1a1a1a">0</text>
<line x1="252.85" y1="325" x2="252.85" y2="328.5" stroke="#333" stroke-width="1"/>
<text x="252.85" y="337" font-size="8" text-anchor="middle" fill="#1a1a1a">1</text>
<line x1="268.2" y1="325" x2="268.2" y2="328.5" stroke="#333" stroke-width="1"/>
<text x="268.2" y="337" font-size="8" text-anchor="middle" fill="#1a1a1a">2</text>
<line x1="283.55" y1="325" x2="283.55" y2="328.5" stroke="#333" stroke-width="1"/>
<text x="283.55" y="337" font-size="8" text-anchor="middle" fill="#1a1a1a">3</text>
<line x1="298.9" y1="325" x2="298.9" y2="328.5" stroke="#333" stroke-width="1"/>
<text x="298.9" y="337" font-size="8" text-anchor="middle" fill="#1a1a1a">4</text>
<line x1="314.25" y1="325" x2="314.25" y2="328.5" stroke="#333" stroke-width="1"/>
<text x="314.25" y="337" font-size="8" text-anchor="middle" fill="#1a1a1a">5</text>
<text x="279.2" y="349" font-size="8" text-anchor="middle" fill="#1a1a1a">Log2FoldChange</text>
<text x="315.9" y="210.9" font-size="8" fill="#1a1a1a">-Lg(<tspan font-style="italic">P</tspan>.adj)</text>
<circle cx="323.2" cy="218.8" r="2.2" fill="#ef1414"/>
<text x="331.1" y="221.6" font-size="8" text-anchor="start" fill="#1a1a1a">(0~20]</text>
<circle cx="323.2" cy="228.2" r="2.6" fill="#ef1414"/>
<text x="331.1" y="231" font-size="8" text-anchor="start" fill="#1a1a1a">(20~40]</text>
<circle cx="323.2" cy="237.7" r="3" fill="#ef1414"/>
<text x="331.1" y="240.5" font-size="8" text-anchor="start" fill="#1a1a1a">(40~60]</text>
<circle cx="323.2" cy="247.7" r="3.6" fill="#ef1414"/>
<text x="331.1" y="250.5" font-size="8" text-anchor="start" fill="#1a1a1a">(60~80]</text>
<text x="408.2" y="196.9" font-size="8" text-anchor="start" fill="#1a1a1a">Immnue Related Cross Genes</text>
<line x1="422.8" y1="207.8" x2="427.3" y2="207.8" stroke="#333" stroke-width="1"/>
<text x="422" y="210.6" font-size="8" text-anchor="end" fill="#1a1a1a" font-style="italic">GCNA</text>
<circle cx="475.3" cy="207.8" r="3.3" fill="#1010f2"/>
<line x1="422.8" y1="216.26" x2="427.3" y2="216.26" stroke="#333" stroke-width="1"/>
<text x="422" y="219.06" font-size="8" text-anchor="end" fill="#1a1a1a" font-style="italic">MIR3620</text>
<circle cx="471.3" cy="216.26" r="2.8" fill="#1010f2"/>
<line x1="422.8" y1="224.72" x2="427.3" y2="224.72" stroke="#333" stroke-width="1"/>
<text x="422" y="227.52" font-size="8" text-anchor="end" fill="#1a1a1a" font-style="italic">STAM-DT</text>
<circle cx="468" cy="224.72" r="2.8" fill="#1010f2"/>
<line x1="422.8" y1="233.18" x2="427.3" y2="233.18" stroke="#333" stroke-width="1"/>
<text x="422" y="235.98" font-size="8" text-anchor="end" fill="#1a1a1a" font-style="italic">ALDH3A1</text>
<circle cx="461.7" cy="233.18" r="2.2" fill="#1010f2"/>
<line x1="422.8" y1="241.64" x2="427.3" y2="241.64" stroke="#333" stroke-width="1"/>
<text x="422" y="244.44" font-size="8" text-anchor="end" fill="#1a1a1a" font-style="italic">NPC1L1</text>
<circle cx="460.6" cy="241.64" r="2.2" fill="#1010f2"/>
<line x1="422.8" y1="250.1" x2="427.3" y2="250.1" stroke="#333" stroke-width="1"/>
<text x="422" y="252.9" font-size="8" text-anchor="end" fill="#1a1a1a" font-style="italic">PYGM</text>
<circle cx="460" cy="250.1" r="2.2" fill="#1010f2"/>
<line x1="422.8" y1="258.56" x2="427.3" y2="258.56" stroke="#333" stroke-width="1"/>
<text x="422" y="261.36" font-size="8" text-anchor="end" fill="#1a1a1a" font-style="italic">FERMT3</text>
<circle cx="458.9" cy="258.56" r="2.2" fill="#1010f2"/>
<line x1="422.8" y1="267.02" x2="427.3" y2="267.02" stroke="#333" stroke-width="1"/>
<text x="422" y="269.82" font-size="8" text-anchor="end" fill="#1a1a1a" font-style="italic">ZKSCAN2-DT</text>
<circle cx="458.6" cy="267.02" r="2.2" fill="#1010f2"/>
<line x1="422.8" y1="275.48" x2="427.3" y2="275.48" stroke="#333" stroke-width="1"/>
<text x="422" y="278.28" font-size="8" text-anchor="end" fill="#1a1a1a" font-style="italic">CRLF1</text>
<circle cx="457.2" cy="275.48" r="3.4" fill="#1010f2"/>
<line x1="422.8" y1="283.94" x2="427.3" y2="283.94" stroke="#333" stroke-width="1"/>
<text x="422" y="286.74" font-size="8" text-anchor="end" fill="#1a1a1a" font-style="italic">IL12RB2</text>
<circle cx="455.8" cy="283.94" r="2.2" fill="#1010f2"/>
<line x1="422.8" y1="292.4" x2="427.3" y2="292.4" stroke="#333" stroke-width="1"/>
<text x="422" y="295.2" font-size="8" text-anchor="end" fill="#1a1a1a" font-style="italic">CAPN10-DT</text>
<circle cx="453.3" cy="292.4" r="2.2" fill="#1010f2"/>
<line x1="422.8" y1="300.86" x2="427.3" y2="300.86" stroke="#333" stroke-width="1"/>
<text x="422" y="303.66" font-size="8" text-anchor="end" fill="#1a1a1a" font-style="italic">DUSP8</text>
<circle cx="448.5" cy="300.86" r="2.8" fill="#1010f2"/>
<line x1="422.8" y1="309.32" x2="427.3" y2="309.32" stroke="#333" stroke-width="1"/>
<text x="422" y="312.12" font-size="8" text-anchor="end" fill="#1a1a1a" font-style="italic">MALINC1</text>
<circle cx="447.6" cy="309.32" r="2.2" fill="#1010f2"/>
<line x1="422.8" y1="317.78" x2="427.3" y2="317.78" stroke="#333" stroke-width="1"/>
<text x="422" y="320.58" font-size="8" text-anchor="end" fill="#1a1a1a" font-style="italic">KCTD6</text>
<circle cx="447.4" cy="317.78" r="2.2" fill="#1010f2"/>
<rect x="427.3" y="203.3" width="72.8" height="120" fill="none" stroke="#333" stroke-width="1"/>
<line x1="427.3" y1="323.3" x2="427.3" y2="326.8" stroke="#333" stroke-width="1"/>
<text x="427.3" y="333.8" font-size="8" text-anchor="middle" fill="#1a1a1a">0</text>
<line x1="445.5" y1="323.3" x2="445.5" y2="326.8" stroke="#333" stroke-width="1"/>
<text x="445.5" y="333.8" font-size="8" text-anchor="middle" fill="#1a1a1a">1</text>
<line x1="463.7" y1="323.3" x2="463.7" y2="326.8" stroke="#333" stroke-width="1"/>
<text x="463.7" y="333.8" font-size="8" text-anchor="middle" fill="#1a1a1a">2</text>
<line x1="481.9" y1="323.3" x2="481.9" y2="326.8" stroke="#333" stroke-width="1"/>
<text x="481.9" y="333.8" font-size="8" text-anchor="middle" fill="#1a1a1a">3</text>
<line x1="500.1" y1="323.3" x2="500.1" y2="326.8" stroke="#333" stroke-width="1"/>
<text x="500.1" y="333.8" font-size="8" text-anchor="middle" fill="#1a1a1a">4</text>
<text x="467" y="344.5" font-size="8" text-anchor="middle" fill="#1a1a1a">Log2FoldChange</text>
<text x="502.0" y="211.8" font-size="8" fill="#1a1a1a">-Lg(<tspan font-style="italic">P</tspan>.adj)</text>
<circle cx="507.1" cy="219.8" r="1.9" fill="#1010f2"/>
<text x="516.2" y="222.6" font-size="8" text-anchor="start" fill="#1a1a1a">(0,10]</text>
<circle cx="507.1" cy="228.8" r="2.2" fill="#1010f2"/>
<text x="516.2" y="231.6" font-size="8" text-anchor="start" fill="#1a1a1a">(10,20]</text>
<circle cx="507.1" cy="237.9" r="2.7" fill="#1010f2"/>
<text x="516.2" y="240.7" font-size="8" text-anchor="start" fill="#1a1a1a">(20,30]</text>
<circle cx="507.1" cy="247.2" r="3.3" fill="#1010f2"/>
<text x="516.2" y="250" font-size="8" text-anchor="start" fill="#1a1a1a">(30,40]</text>
<text x="551.2" y="205.2" font-size="17" text-anchor="start" fill="#111" font-weight="bold" style="stroke:#111">g</text>
<text x="593.8" y="209.3" font-size="8" text-anchor="start" fill="#1a1a1a" font-style="italic">IMPDH2</text>
<text x="629.8" y="209.3" font-size="8" text-anchor="start" fill="#1a1a1a">FPKM</text>
<line x1="577.7" y1="214.6" x2="577.7" y2="311.6" stroke="#333" stroke-width="1"/>
<line x1="577.7" y1="311.1" x2="674.6" y2="311.1" stroke="#333" stroke-width="1"/>
<line x1="573.1" y1="311.1" x2="577.7" y2="311.1" stroke="#333" stroke-width="1"/>
<text x="572.1" y="314" font-size="8" text-anchor="end" fill="#1a1a1a">60</text>
<line x1="575.1" y1="295.02" x2="577.7" y2="295.02" stroke="#333" stroke-width="1"/>
<line x1="573.1" y1="278.93" x2="577.7" y2="278.93" stroke="#333" stroke-width="1"/>
<text x="572.1" y="281.83" font-size="8" text-anchor="end" fill="#1a1a1a">80</text>
<line x1="575.1" y1="262.85" x2="577.7" y2="262.85" stroke="#333" stroke-width="1"/>
<line x1="573.1" y1="246.77" x2="577.7" y2="246.77" stroke="#333" stroke-width="1"/>
<text x="572.1" y="249.67" font-size="8" text-anchor="end" fill="#1a1a1a">100</text>
<line x1="575.1" y1="230.69" x2="577.7" y2="230.69" stroke="#333" stroke-width="1"/>
<line x1="573.1" y1="214.6" x2="577.7" y2="214.6" stroke="#333" stroke-width="1"/>
<text x="572.1" y="217.5" font-size="8" text-anchor="end" fill="#1a1a1a">120</text>
<rect x="582.8" y="273.63" width="7.4" height="37.17" fill="#6e6e6e" stroke="#1a1a1a" stroke-width="1.0"/>
<circle cx="586.5" cy="271.05" r="1.9" fill="#111"/>
<circle cx="586.5" cy="276.04" r="1.9" fill="#111"/>
<line x1="586.5" y1="311.1" x2="586.5" y2="314.3" stroke="#333" stroke-width="1"/>
<rect x="595.8" y="302.42" width="7.4" height="8.38" fill="#fbdcbc" stroke="#e2a266" stroke-width="1.0"/>
<circle cx="599.5" cy="295.98" r="1.9" fill="#f0a54e"/>
<circle cx="599.5" cy="307.88" r="1.9" fill="#f0a54e"/>
<line x1="599.5" y1="311.1" x2="599.5" y2="314.3" stroke="#333" stroke-width="1"/>
<rect x="609" y="300.81" width="7.4" height="9.99" fill="#d4e2f1" stroke="#7c9ecb" stroke-width="1.0"/>
<circle cx="612.7" cy="298.39" r="1.9" fill="#a9c2e2"/>
<circle cx="612.7" cy="304.18" r="1.9" fill="#a9c2e2"/>
<line x1="612.7" y1="311.1" x2="612.7" y2="314.3" stroke="#333" stroke-width="1"/>
<rect x="622.3" y="279.09" width="7.4" height="31.71" fill="#f5c0c0" stroke="#e07b7b" stroke-width="1.0"/>
<circle cx="623.5" cy="279.9" r="1.9" fill="#e99a9a"/>
<circle cx="628.5" cy="277.97" r="1.9" fill="#e99a9a"/>
<circle cx="626" cy="279.26" r="1.9" fill="#e99a9a"/>
<line x1="626" y1="311.1" x2="626" y2="314.3" stroke="#333" stroke-width="1"/>
<rect x="635.5" y="284.4" width="7.4" height="26.4" fill="#e2e2e2" stroke="#b4b4b4" stroke-width="1.0"/>
<circle cx="639.2" cy="282.31" r="1.9" fill="#c9c9c9"/>
<circle cx="639.2" cy="286.65" r="1.9" fill="#c9c9c9"/>
<line x1="639.2" y1="311.1" x2="639.2" y2="314.3" stroke="#333" stroke-width="1"/>
<rect x="648.8" y="242.43" width="7.4" height="68.37" fill="#fbe6df" stroke="#c79686" stroke-width="1.0"/>
<circle cx="652.5" cy="233.42" r="1.9" fill="#f3c9bf"/>
<circle cx="652.5" cy="251.59" r="1.9" fill="#f3c9bf"/>
<line x1="652.5" y1="311.1" x2="652.5" y2="314.3" stroke="#333" stroke-width="1"/>
<rect x="661.9" y="258.67" width="7.4" height="52.13" fill="#6e6e6e" stroke="#1a1a1a" stroke-width="1.0"/>
<circle cx="665.6" cy="256.1" r="1.9" fill="#111"/>
<circle cx="665.6" cy="260.6" r="1.9" fill="#111"/>
<line x1="665.6" y1="311.1" x2="665.6" y2="314.3" stroke="#333" stroke-width="1"/>
<text x="589.1" y="320.4" font-size="8" text-anchor="end" fill="#1a1a1a" transform="rotate(-45 589.1 320.4)">vehicle</text>
<text x="602.1" y="320.4" font-size="8" text-anchor="end" fill="#1a1a1a" transform="rotate(-45 602.1 320.4)">NSP14</text>
<text x="615.3" y="320.4" font-size="8" text-anchor="end" fill="#1a1a1a" transform="rotate(-45 615.3 320.4)">NSP14+DMSO</text>
<text x="628.6" y="320.4" font-size="8" text-anchor="end" fill="#1a1a1a" transform="rotate(-45 628.6 320.4)">NSP14 (10µMC7)</text>
<text x="641.8" y="320.4" font-size="8" text-anchor="end" fill="#1a1a1a" transform="rotate(-45 641.8 320.4)">NSP14 (20µMC7)</text>
<text x="655.1" y="320.4" font-size="8" text-anchor="end" fill="#1a1a1a" transform="rotate(-45 655.1 320.4)">NSP14 (10µMC10)</text>
<text x="668.2" y="320.4" font-size="8" text-anchor="end" fill="#1a1a1a" transform="rotate(-45 668.2 320.4)">NSP14 (20µMC10)</text>
<text x="1.6" y="372.2" font-size="17" text-anchor="start" fill="#111" font-weight="bold" style="stroke:#111">h</text>
<text x="80.6" y="366.4" font-size="8" text-anchor="start" fill="#1a1a1a" font-style="italic">IMPDH2/HPRT1</text>
<text x="66.8" y="378.4" font-size="8" text-anchor="start" fill="#1a1a1a"><tspan font-style="italic">P</tspan> = 0.009</text>
<text x="108.8" y="378.4" font-size="8" text-anchor="start" fill="#1a1a1a"><tspan font-style="italic">P</tspan> = 0.001</text>
<text x="100.7" y="395.5" font-size="8" text-anchor="start" fill="#1a1a1a"><tspan font-style="italic">P</tspan> = 0.003</text>
<path d="M75.8 387.6V382.8H92.8V387.6" stroke="#222" stroke-width="1.0" fill="none"/>
<path d="M104.2 387.6V382.8H137.8V387.6" stroke="#222" stroke-width="1.0" fill="none"/>
<path d="M105.9 404.5V399.9H122.3V404.5" stroke="#222" stroke-width="1.0" fill="none"/>
<line x1="66.3" y1="388.8" x2="66.3" y2="472.1" stroke="#333" stroke-width="1"/>
<line x1="66.3" y1="471.6" x2="148.6" y2="471.6" stroke="#333" stroke-width="1"/>
<line x1="61.9" y1="471.6" x2="66.3" y2="471.6" stroke="#333" stroke-width="1"/>
<text x="61.1" y="474.5" font-size="8" text-anchor="end" fill="#1a1a1a">0.0</text>
<line x1="63.8" y1="457.8" x2="66.3" y2="457.8" stroke="#333" stroke-width="1"/>
<line x1="61.9" y1="444" x2="66.3" y2="444" stroke="#333" stroke-width="1"/>
<text x="61.1" y="446.9" font-size="8" text-anchor="end" fill="#1a1a1a">0.4</text>
<line x1="63.8" y1="430.2" x2="66.3" y2="430.2" stroke="#333" stroke-width="1"/>
<line x1="61.9" y1="416.4" x2="66.3" y2="416.4" stroke="#333" stroke-width="1"/>
<text x="61.1" y="419.3" font-size="8" text-anchor="end" fill="#1a1a1a">0.8</text>
<line x1="63.8" y1="402.6" x2="66.3" y2="402.6" stroke="#333" stroke-width="1"/>
<line x1="61.9" y1="388.8" x2="66.3" y2="388.8" stroke="#333" stroke-width="1"/>
<text x="61.1" y="391.7" font-size="8" text-anchor="end" fill="#1a1a1a">1.2</text>
<rect x="72" y="402.6" width="9.2" height="68.7" fill="#6e6e6e" stroke="#1a1a1a" stroke-width="1.0"/>
<path d="M76.6 415.02V390.87M74.4 390.87H78.8M74.4 415.02H78.8" stroke="#111" stroke-width="1" fill="none"/>
<path d="M76.6 388.67l2 3.3h-4z" fill="#111"/>
<circle cx="76.6" cy="404.67" r="1.7" fill="#111"/>
<circle cx="76.6" cy="412.95" r="1.7" fill="#111"/>
<line x1="76.6" y1="471.6" x2="76.6" y2="474.6" stroke="#333" stroke-width="1"/>
<rect x="87.6" y="434.34" width="9.2" height="36.96" fill="#fbdcbc" stroke="#e2a266" stroke-width="1.0"/>
<path d="M92.2 436.41V431.58M90 431.58H94.4M90 436.41H94.4" stroke="#e2a266" stroke-width="1" fill="none"/>
<circle cx="92.2" cy="432.27" r="1.7" fill="#f0a54e"/>
<circle cx="90.2" cy="435.03" r="1.7" fill="#f0a54e"/>
<circle cx="94.2" cy="435.72" r="1.7" fill="#f0a54e"/>
<line x1="92.2" y1="471.6" x2="92.2" y2="474.6" stroke="#333" stroke-width="1"/>
<rect x="103.2" y="429.86" width="9.2" height="41.45" fill="#d4e2f1" stroke="#7c9ecb" stroke-width="1.0"/>
<path d="M107.8 431.58V428.13M105.6 428.13H110M105.6 431.58H110" stroke="#7c9ecb" stroke-width="1" fill="none"/>
<circle cx="107.8" cy="429.51" r="1.7" fill="#a9c2e2"/>
<circle cx="105.8" cy="430.2" r="1.7" fill="#a9c2e2"/>
<circle cx="109.8" cy="429.86" r="1.7" fill="#a9c2e2"/>
<line x1="107.8" y1="471.6" x2="107.8" y2="474.6" stroke="#333" stroke-width="1"/>
<rect x="118.6" y="410.88" width="9.2" height="60.42" fill="#f5c0c0" stroke="#e07b7b" stroke-width="1.0"/>
<path d="M123.2 415.02V406.4M121 406.4H125.4M121 415.02H125.4" stroke="#e07b7b" stroke-width="1" fill="none"/>
<circle cx="123.2" cy="407.43" r="1.7" fill="#e99a9a"/>
<circle cx="121.2" cy="411.57" r="1.7" fill="#e99a9a"/>
<circle cx="125.2" cy="412.95" r="1.7" fill="#e99a9a"/>
<line x1="123.2" y1="471.6" x2="123.2" y2="474.6" stroke="#333" stroke-width="1"/>
<rect x="134.1" y="404.67" width="9.2" height="66.63" fill="#e2e2e2" stroke="#b4b4b4" stroke-width="1.0"/>
<path d="M138.7 411.57V398.46M136.5 398.46H140.9M136.5 411.57H140.9" stroke="#b4b4b4" stroke-width="1" fill="none"/>
<circle cx="138.7" cy="400.53" r="1.7" fill="#c9c9c9"/>
<circle cx="136.7" cy="405.36" r="1.7" fill="#c9c9c9"/>
<circle cx="140.7" cy="406.05" r="1.7" fill="#c9c9c9"/>
<line x1="138.7" y1="471.6" x2="138.7" y2="474.6" stroke="#333" stroke-width="1"/>
<text x="79.6" y="479.6" font-size="8" text-anchor="end" fill="#1a1a1a" transform="rotate(-45 79.6 479.6)">vehicle</text>
<text x="95.2" y="479.6" font-size="8" text-anchor="end" fill="#1a1a1a" transform="rotate(-45 95.2 479.6)">NSP14</text>
<text x="110.8" y="479.6" font-size="8" text-anchor="end" fill="#1a1a1a" transform="rotate(-45 110.8 479.6)">NSP14+DMSO</text>
<text x="126.2" y="479.6" font-size="8" text-anchor="end" fill="#1a1a1a" transform="rotate(-45 126.2 479.6)">NSP14 (10µM C10)</text>
<text x="141.7" y="479.6" font-size="8" text-anchor="end" fill="#1a1a1a" transform="rotate(-45 141.7 479.6)">NSP14 (20µM C10)</text>
<text x="45" y="421.5" font-size="8" text-anchor="middle" fill="#1a1a1a" transform="rotate(-90 45 421.5) translate(0 2.8)">Relative mRNA expression</text>
<text x="181.5" y="371.5" font-size="17" text-anchor="start" fill="#111" font-weight="bold" style="stroke:#111">i</text>
<text x="228.5" y="386.7" font-size="8" text-anchor="start" fill="#1a1a1a" font-style="italic">AURKAP1</text>
<text x="271.3" y="386.7" font-size="8" text-anchor="start" fill="#1a1a1a">FPKM</text>
<line x1="204.4" y1="392.1" x2="204.4" y2="471.5" stroke="#333" stroke-width="1"/>
<line x1="204.4" y1="471" x2="325.3" y2="471" stroke="#333" stroke-width="1"/>
<line x1="199.8" y1="471" x2="204.4" y2="471" stroke="#333" stroke-width="1"/>
<text x="198.8" y="473.9" font-size="8" text-anchor="end" fill="#1a1a1a">0</text>
<line x1="201.8" y1="457.85" x2="204.4" y2="457.85" stroke="#333" stroke-width="1"/>
<line x1="199.8" y1="444.7" x2="204.4" y2="444.7" stroke="#333" stroke-width="1"/>
<text x="198.8" y="447.6" font-size="8" text-anchor="end" fill="#1a1a1a">10</text>
<line x1="201.8" y1="431.55" x2="204.4" y2="431.55" stroke="#333" stroke-width="1"/>
<line x1="199.8" y1="418.4" x2="204.4" y2="418.4" stroke="#333" stroke-width="1"/>
<text x="198.8" y="421.3" font-size="8" text-anchor="end" fill="#1a1a1a">20</text>
<line x1="201.8" y1="405.25" x2="204.4" y2="405.25" stroke="#333" stroke-width="1"/>
<line x1="199.8" y1="392.1" x2="204.4" y2="392.1" stroke="#333" stroke-width="1"/>
<text x="198.8" y="395" font-size="8" text-anchor="end" fill="#1a1a1a">30</text>
<rect x="210.7" y="468.37" width="9.6" height="2.33" fill="#6e6e6e" stroke="#1a1a1a" stroke-width="1.0"/>
<circle cx="212.5" cy="468.11" r="1.8" fill="#111"/>
<circle cx="215.5" cy="467.58" r="1.8" fill="#111"/>
<circle cx="218.5" cy="468.37" r="1.8" fill="#111"/>
<line x1="215.5" y1="471" x2="215.5" y2="474" stroke="#333" stroke-width="1"/>
<rect x="227.5" y="442.33" width="9.6" height="28.37" fill="#fbdcbc" stroke="#e2a266" stroke-width="1.0"/>
<circle cx="232.3" cy="438.12" r="1.8" fill="#f0a54e"/>
<circle cx="229.3" cy="443.38" r="1.8" fill="#f0a54e"/>
<circle cx="235.3" cy="443.12" r="1.8" fill="#f0a54e"/>
<line x1="232.3" y1="471" x2="232.3" y2="474" stroke="#333" stroke-width="1"/>
<rect x="244.2" y="423.66" width="9.6" height="47.04" fill="#d4e2f1" stroke="#7c9ecb" stroke-width="1.0"/>
<circle cx="249" cy="416.82" r="1.8" fill="#a9c2e2"/>
<circle cx="249" cy="429.97" r="1.8" fill="#a9c2e2"/>
<line x1="249" y1="471" x2="249" y2="474" stroke="#333" stroke-width="1"/>
<rect x="260.6" y="468.9" width="9.6" height="1.8" fill="#f5c0c0" stroke="#e07b7b" stroke-width="1.0"/>
<circle cx="262.4" cy="469.16" r="1.8" fill="#e99a9a"/>
<circle cx="268.4" cy="468.37" r="1.8" fill="#e99a9a"/>
<line x1="265.4" y1="471" x2="265.4" y2="474" stroke="#333" stroke-width="1"/>
<rect x="277.1" y="468.37" width="9.6" height="2.33" fill="#e2e2e2" stroke="#b4b4b4" stroke-width="1.0"/>
<circle cx="278.9" cy="468.63" r="1.8" fill="#c9c9c9"/>
<circle cx="284.9" cy="467.84" r="1.8" fill="#c9c9c9"/>
<line x1="281.9" y1="471" x2="281.9" y2="474" stroke="#333" stroke-width="1"/>
<rect x="293.5" y="468.37" width="9.6" height="2.33" fill="#fbe6df" stroke="#c79686" stroke-width="1.0"/>
<circle cx="295.3" cy="468.63" r="1.8" fill="#f3c9bf"/>
<circle cx="301.3" cy="467.58" r="1.8" fill="#f3c9bf"/>
<line x1="298.3" y1="471" x2="298.3" y2="474" stroke="#333" stroke-width="1"/>
<rect x="309.9" y="468.11" width="9.6" height="2.59" fill="#6e6e6e" stroke="#1a1a1a" stroke-width="1.0"/>
<circle cx="311.7" cy="468.11" r="1.8" fill="#111"/>
<circle cx="317.7" cy="467.32" r="1.8" fill="#111"/>
<line x1="314.7" y1="471" x2="314.7" y2="474" stroke="#333" stroke-width="1"/>
<text x="218.8" y="479.5" font-size="8" text-anchor="end" fill="#1a1a1a" transform="rotate(-45 218.8 479.5)">vehicle</text>
<text x="235.6" y="479.5" font-size="8" text-anchor="end" fill="#1a1a1a" transform="rotate(-45 235.6 479.5)">NSP14</text>
<text x="252.3" y="479.5" font-size="8" text-anchor="end" fill="#1a1a1a" transform="rotate(-45 252.3 479.5)">NSP14+DMSO</text>
<text x="268.7" y="479.5" font-size="8" text-anchor="end" fill="#1a1a1a" transform="rotate(-45 268.7 479.5)">NSP14 (10µM C7)</text>
<text x="285.2" y="479.5" font-size="8" text-anchor="end" fill="#1a1a1a" transform="rotate(-45 285.2 479.5)">NSP14 (20µM C7)</text>
<text x="301.6" y="479.5" font-size="8" text-anchor="end" fill="#1a1a1a" transform="rotate(-45 301.6 479.5)">NSP14 (10µM C10)</text>
<text x="318" y="479.5" font-size="8" text-anchor="end" fill="#1a1a1a" transform="rotate(-45 318 479.5)">NSP14 (20µM C10)</text>
<text x="349.6" y="371.8" font-size="17" text-anchor="start" fill="#111" font-weight="bold" style="stroke:#111">j</text>
<text x="391.5" y="358.8" font-size="8" text-anchor="start" fill="#1a1a1a" font-style="italic">AURKA/GAPDH</text>
<line x1="386.9" y1="385.11" x2="386.9" y2="472.4" stroke="#333" stroke-width="1"/>
<line x1="386.9" y1="471.9" x2="450.8" y2="471.9" stroke="#333" stroke-width="1"/>
<line x1="382.5" y1="471.9" x2="386.9" y2="471.9" stroke="#333" stroke-width="1"/>
<text x="381.5" y="474.8" font-size="8" text-anchor="end" fill="#1a1a1a">0</text>
<line x1="384.4" y1="457.44" x2="386.9" y2="457.44" stroke="#333" stroke-width="1"/>
<line x1="382.5" y1="442.97" x2="386.9" y2="442.97" stroke="#333" stroke-width="1"/>
<text x="381.5" y="445.87" font-size="8" text-anchor="end" fill="#1a1a1a">1</text>
<line x1="384.4" y1="428.5" x2="386.9" y2="428.5" stroke="#333" stroke-width="1"/>
<line x1="382.5" y1="414.04" x2="386.9" y2="414.04" stroke="#333" stroke-width="1"/>
<text x="381.5" y="416.94" font-size="8" text-anchor="end" fill="#1a1a1a">2</text>
<line x1="384.4" y1="399.57" x2="386.9" y2="399.57" stroke="#333" stroke-width="1"/>
<line x1="382.5" y1="385.11" x2="386.9" y2="385.11" stroke="#333" stroke-width="1"/>
<text x="381.5" y="388.01" font-size="8" text-anchor="end" fill="#1a1a1a">3</text>
<rect x="390.7" y="442.97" width="7.4" height="28.63" fill="#6e6e6e" stroke="#1a1a1a" stroke-width="1.0"/>
<path d="M394.4 443.84V442.39M392.4 442.39H396.4M392.4 443.84H396.4" stroke="#111" stroke-width="1" fill="none"/>
<circle cx="392.4" cy="442.97" r="1.5" fill="#111"/>
<circle cx="394.4" cy="442.97" r="1.5" fill="#111"/>
<circle cx="396.4" cy="442.97" r="1.5" fill="#111"/>
<line x1="394.4" y1="471.9" x2="394.4" y2="474.9" stroke="#333" stroke-width="1"/>
<rect x="403.1" y="415.49" width="7.4" height="56.11" fill="#fbdcbc" stroke="#e2a266" stroke-width="1.0"/>
<path d="M406.8 416.93V414.04M404.8 414.04H408.8M404.8 416.93H408.8" stroke="#e2a266" stroke-width="1" fill="none"/>
<circle cx="404.8" cy="415.49" r="1.5" fill="#f0a54e"/>
<circle cx="406.8" cy="415.49" r="1.5" fill="#f0a54e"/>
<circle cx="408.8" cy="415.49" r="1.5" fill="#f0a54e"/>
<line x1="406.8" y1="471.9" x2="406.8" y2="474.9" stroke="#333" stroke-width="1"/>
<rect x="415.5" y="399" width="7.4" height="72.6" fill="#d4e2f1" stroke="#7c9ecb" stroke-width="1.0"/>
<path d="M419.2 401.31V396.68M417.2 396.68H421.2M417.2 401.31H421.2" stroke="#7c9ecb" stroke-width="1" fill="none"/>
<circle cx="417.2" cy="399" r="1.5" fill="#a9c2e2"/>
<circle cx="419.2" cy="399" r="1.5" fill="#a9c2e2"/>
<circle cx="421.2" cy="399" r="1.5" fill="#a9c2e2"/>
<line x1="419.2" y1="471.9" x2="419.2" y2="474.9" stroke="#333" stroke-width="1"/>
<rect x="427.3" y="438.05" width="7.4" height="33.55" fill="#f5c0c0" stroke="#e07b7b" stroke-width="1.0"/>
<path d="M431 438.92V437.18M429 437.18H433M429 438.92H433" stroke="#e07b7b" stroke-width="1" fill="none"/>
<circle cx="429" cy="438.05" r="1.5" fill="#e99a9a"/>
<circle cx="431" cy="438.05" r="1.5" fill="#e99a9a"/>
<circle cx="433" cy="438.05" r="1.5" fill="#e99a9a"/>
<line x1="431" y1="471.9" x2="431" y2="474.9" stroke="#333" stroke-width="1"/>
<rect x="439.6" y="433.13" width="7.4" height="38.47" fill="#e2e2e2" stroke="#b4b4b4" stroke-width="1.0"/>
<path d="M443.3 433.71V432.56M441.3 432.56H445.3M441.3 433.71H445.3" stroke="#b4b4b4" stroke-width="1" fill="none"/>
<circle cx="441.3" cy="433.13" r="1.5" fill="#c9c9c9"/>
<circle cx="443.3" cy="433.13" r="1.5" fill="#c9c9c9"/>
<circle cx="445.3" cy="433.13" r="1.5" fill="#c9c9c9"/>
<line x1="443.3" y1="471.9" x2="443.3" y2="474.9" stroke="#333" stroke-width="1"/>
<text x="410.8" y="481.2" font-size="8" text-anchor="end" fill="#1a1a1a" transform="rotate(-45 410.8 481.2)">NSP14</text>
<text x="423.2" y="481.2" font-size="8" text-anchor="end" fill="#1a1a1a" transform="rotate(-45 423.2 481.2)">NSP14+DMSO</text>
<text x="435" y="481.2" font-size="8" text-anchor="end" fill="#1a1a1a" transform="rotate(-45 435 481.2)">NSP14 (10µM C10)</text>
<text x="447.3" y="481.2" font-size="8" text-anchor="end" fill="#1a1a1a" transform="rotate(-45 447.3 481.2)">NSP14 (20µM C10)</text>
<text x="398" y="481.5" font-size="9.3" text-anchor="end" fill="#1a1a1a" transform="rotate(-45 398 481.5)">vehicle</text>
<path d="M391.6 412.6V407.9H407.3V412.6" stroke="#222" stroke-width="1.0" fill="none"/>
<path d="M418.4 394.5V390.3H433.9V394.5" stroke="#222" stroke-width="1.0" fill="none"/>
<path d="M418.4 380.4V376.6H445.7V380.4" stroke="#222" stroke-width="1.0" fill="none"/>
<text x="401.5" y="405.6" font-size="8" text-anchor="start" fill="#1a1a1a" transform="rotate(-90 401.5 405.6)"><tspan font-style="italic">P</tspan> &lt; 0.0001</text>
<text x="412.7" y="387.9" font-size="8" text-anchor="start" fill="#1a1a1a"><tspan font-style="italic">P</tspan> &lt; 0.0001</text>
<text x="420.7" y="372.6" font-size="8" text-anchor="start" fill="#1a1a1a"><tspan font-style="italic">P</tspan> &lt; 0.0001</text>
<text x="368.5" y="422" font-size="8" text-anchor="middle" fill="#1a1a1a" transform="rotate(-90 368.5 422) translate(0 2.8)">Relative mRNA expression</text>
<text x="499.2" y="391.6" font-size="17" text-anchor="start" fill="#111" font-weight="bold" style="stroke:#111">k</text>
<text x="619.6" y="420.5" font-size="8" text-anchor="middle" fill="#1a1a1a">NSP14</text>
<line x1="590.2" y1="423.7" x2="649.7" y2="423.7" stroke="#333" stroke-width="1.1"/>
<text x="576.8" y="442.5" font-size="8" text-anchor="end" fill="#1a1a1a" transform="rotate(-45 576.8 442.5)">vehicle</text>
<text x="593.7" y="443.5" font-size="8" text-anchor="end" fill="#1a1a1a" transform="rotate(-45 593.7 443.5)">NSP14</text>
<text x="610.2" y="443.3" font-size="8" text-anchor="end" fill="#1a1a1a" transform="rotate(-45 610.2 443.3)">DMSO</text>
<text x="642.4" y="430.8" font-size="8" text-anchor="end" fill="#1a1a1a" transform="rotate(-45 642.4 430.8)">20 µM C10</text>
<text x="658.9" y="430.8" font-size="8" text-anchor="end" fill="#1a1a1a" transform="rotate(-45 658.9 430.8)">10 µM C10</text>
<text x="675.2" y="434" font-size="8" text-anchor="end" fill="#1a1a1a" transform="rotate(-45 675.2 434)">5 µM C10</text>
<defs><filter id="bl" x="-50%" y="-300%" width="200%" height="700%"><feGaussianBlur stdDeviation="0.85"/></filter></defs>
<rect x="545.4" y="460.9" width="109.9" height="19.8" fill="#f2f2f2" stroke="#2a2a2a" stroke-width="1"/>
<rect x="545.4" y="490.1" width="109.9" height="19.2" fill="#efefef" stroke="#2a2a2a" stroke-width="1"/>
<rect x="548.9" y="468.6" width="13" height="2.8" rx="2.5" fill="#c9c9c9" filter="url(#bl)"/>
<rect x="567.3" y="468.2" width="14" height="2.8" rx="2.5" fill="#3a3a3a" filter="url(#bl)"/>
<rect x="567.05" y="470.3" width="14.5" height="3" rx="2.5" fill="#0a0a0a" filter="url(#bl)"/>
<rect x="584.8" y="468.7" width="14" height="2.6" rx="2.5" fill="#222222" filter="url(#bl)"/>
<rect x="584.55" y="470.6" width="14.5" height="3.2" rx="2.5" fill="#050505" filter="url(#bl)"/>
<rect x="603.95" y="471.3" width="13.5" height="3.4" rx="2.5" fill="#8e8e8e" filter="url(#bl)"/>
<rect x="622.35" y="471.4" width="13.5" height="3.2" rx="2.5" fill="#a2a2a2" filter="url(#bl)"/>
<rect x="640.2" y="472.4" width="14" height="3.6" rx="2.5" fill="#767676" filter="url(#bl)"/>
<rect x="548.65" y="493.4" width="13.5" height="2" rx="2.5" fill="#bdbdbd" filter="url(#bl)"/>
<rect x="547.9" y="497.6" width="15" height="4.6" rx="2.5" fill="#0a0a0a" filter="url(#bl)"/>
<rect x="567.55" y="493.4" width="13.5" height="2" rx="2.5" fill="#bdbdbd" filter="url(#bl)"/>
<rect x="566.8" y="497.6" width="15" height="4.6" rx="2.5" fill="#0a0a0a" filter="url(#bl)"/>
<rect x="585.05" y="493.4" width="13.5" height="2" rx="2.5" fill="#bdbdbd" filter="url(#bl)"/>
<rect x="584.3" y="497.6" width="15" height="4.6" rx="2.5" fill="#0a0a0a" filter="url(#bl)"/>
<rect x="603.95" y="493.4" width="13.5" height="2" rx="2.5" fill="#bdbdbd" filter="url(#bl)"/>
<rect x="603.2" y="497.6" width="15" height="4.6" rx="2.5" fill="#0a0a0a" filter="url(#bl)"/>
<rect x="622.35" y="493.4" width="13.5" height="2" rx="2.5" fill="#bdbdbd" filter="url(#bl)"/>
<rect x="621.6" y="497.6" width="15" height="4.6" rx="2.5" fill="#0a0a0a" filter="url(#bl)"/>
<rect x="640.45" y="493.4" width="13.5" height="2" rx="2.5" fill="#bdbdbd" filter="url(#bl)"/>
<rect x="639.7" y="498.1" width="15" height="4.6" rx="2.5" fill="#0a0a0a" filter="url(#bl)"/>
<text x="509.5" y="475.4" font-size="8" text-anchor="start" fill="#1a1a1a">AURKA</text>
<text x="509.5" y="501.5" font-size="8" text-anchor="start" fill="#1a1a1a">GAPDH</text>
<line x1="655.3" y1="464.5" x2="658.2" y2="464.5" stroke="#333" stroke-width="1"/>
<text x="659.3" y="467.4" font-size="8" text-anchor="start" fill="#1a1a1a">53 kDa</text>
<line x1="655.3" y1="479.3" x2="658.2" y2="479.3" stroke="#333" stroke-width="1"/>
<text x="659.3" y="482.2" font-size="8" text-anchor="start" fill="#1a1a1a">43 kDa</text>
<line x1="655.3" y1="490.1" x2="658.2" y2="490.1" stroke="#333" stroke-width="1"/>
<text x="659.3" y="493" font-size="8" text-anchor="start" fill="#1a1a1a">43 kDa</text>
<line x1="655.3" y1="506.8" x2="658.2" y2="506.8" stroke="#333" stroke-width="1"/>
<text x="659.3" y="509.7" font-size="8" text-anchor="start" fill="#1a1a1a">35 kDa</text>
</svg>
</body></html>
